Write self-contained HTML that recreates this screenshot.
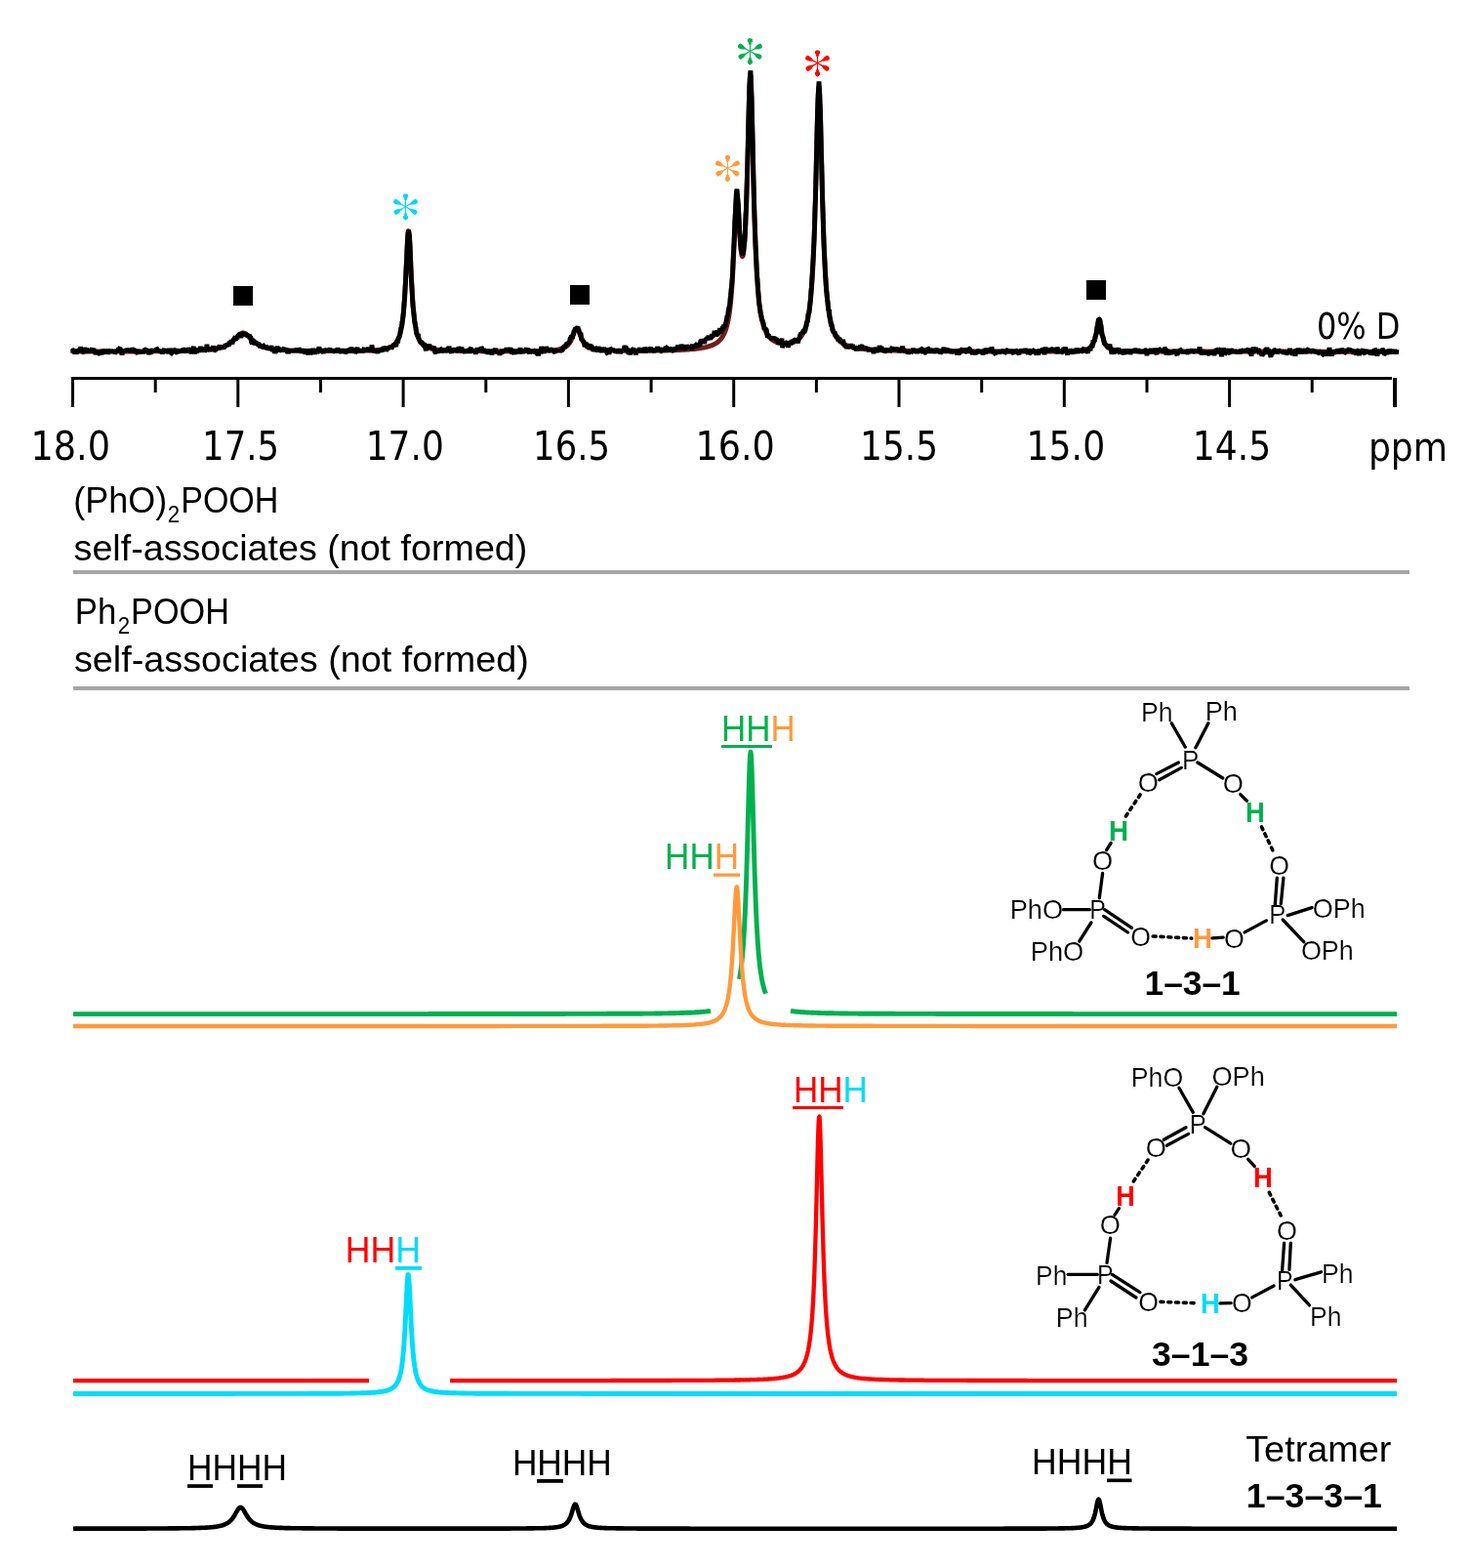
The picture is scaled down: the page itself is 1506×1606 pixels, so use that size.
<!DOCTYPE html>
<html><head><meta charset="utf-8"><title>NMR spectra</title>
<style>html,body{margin:0;padding:0;background:#fff;}svg{display:block;}</style></head>
<body><svg width="1506" height="1606" viewBox="0 0 1506 1606">
<rect width="1506" height="1606" fill="#fff"/>
<path d="M73.5 360.1L75.5 360.1L77.5 360.1L79.5 360.1L81.5 360.1L83.5 360.1L85.5 360.1L87.5 360.1L89.5 360.1L91.5 360L93.5 360L95.5 360L97.5 360L99.5 360L101.5 360L103.5 360L105.5 360L107.5 360L109.5 360L111.5 360L113.5 360L115.5 360L117.5 360L119.5 360L121.5 360L123.5 360L125.5 360L127.5 360L129.5 360L131.5 360L133.5 359.9L135.5 359.9L137.5 359.9L139.5 359.9L141.5 359.9L143.5 359.9L145.5 359.9L147.5 359.9L149.5 359.9L151.5 359.9L153.5 359.8L155.5 359.8L157.5 359.8L159.5 359.8L161.5 359.8L163.5 359.8L165.5 359.8L167.5 359.7L169.5 359.7L171.5 359.7L173.5 359.7L175.5 359.6L177.5 359.6L179.5 359.6L181.5 359.6L183.5 359.5L185.5 359.5L187.5 359.4L189.5 359.4L191.5 359.3L193.5 359.3L195.5 359.2L197.5 359.1L199.5 359.1L201.5 359L203.5 358.9L205.5 358.8L207.5 358.7L209.5 358.5L211.5 358.3L213.5 358.2L215.5 357.9L217.5 357.7L219.5 357.4L220 357.3L220.5 357.2L221 357.2L221.5 357.1L222 357L222.5 356.9L223 356.8L223.5 356.7L224 356.5L224.5 356.4L225 356.3L225.5 356.2L226 356L226.5 355.9L227 355.7L227.5 355.6L228 355.4L228.5 355.2L229 355.1L229.5 354.9L230 354.7L230.5 354.5L231 354.2L231.5 354L232 353.8L232.5 353.5L233 353.2L233.5 353L234 352.7L234.5 352.3L235 352L235.5 351.7L236 351.3L236.5 350.9L237 350.6L237.5 350.2L238 349.7L238.5 349.3L239 348.8L239.5 348.4L240 347.9L240.5 347.4L241 346.9L241.5 346.4L242 345.9L242.5 345.3L243 344.8L243.5 344.3L244 343.8L244.5 343.4L245 342.9L245.5 342.5L246 342.1L246.5 341.8L247 341.5L247.5 341.3L248 341.1L248.5 341L249 341L249.5 341L250 341.1L250.5 341.3L251 341.5L251.5 341.8L252 342.1L252.5 342.5L253 342.9L253.5 343.4L254 343.8L254.5 344.3L255 344.8L255.5 345.3L256 345.8L256.5 346.4L257 346.9L257.5 347.4L258 347.9L258.5 348.3L259 348.8L259.5 349.3L260 349.7L260.5 350.1L261 350.5L261.5 350.9L262 351.3L262.5 351.7L263 352L263.5 352.3L264 352.6L264.5 352.9L265 353.2L265.5 353.5L266 353.7L266.5 354L267 354.2L267.5 354.4L268 354.6L268.5 354.8L269 355L269.5 355.2L270 355.4L270.5 355.5L271 355.7L271.5 355.8L272 356L272.5 356.1L273 356.3L273.5 356.4L274 356.5L274.5 356.6L275 356.7L275.5 356.8L276 356.9L276.5 357L277 357.1L277.5 357.2L278 357.3L278.5 357.4L279 357.4L281 357.7L283 357.9L285 358.1L287 358.3L289 358.5L291 358.6L293 358.7L295 358.8L297 358.9L299 359L301 359.1L303 359.1L305 359.2L307 359.2L309 359.3L311 359.3L313 359.3L315 359.4L317 359.4L319 359.4L321 359.5L323 359.5L325 359.5L327 359.5L329 359.5L331 359.5L333 359.5L335 359.5L337 359.5L339 359.5L341 359.5L343 359.5L345 359.5L347 359.5L349 359.5L351 359.5L353 359.5L355 359.5L357 359.5L359 359.5L361 359.4L363 359.4L365 359.4L367 359.3L369 359.3L371 359.2L373 359.2L375 359.1L377 359L379 358.9L381 358.8L383 358.7L385 358.6L387 358.4L389 358.2L389.5 358.1L390 358L390.5 358L391 357.9L391.5 357.8L392 357.8L392.5 357.7L393 357.6L393.5 357.5L394 357.4L394.5 357.3L395 357.2L395.5 357.1L396 356.9L396.5 356.8L397 356.6L397.5 356.5L398 356.3L398.5 356.1L399 356L399.5 355.7L400 355.5L400.5 355.3L401 355L401.5 354.7L402 354.4L402.5 354.1L403 353.7L403.5 353.3L404 352.9L404.5 352.4L405 351.9L405.5 351.3L406 350.7L406.5 349.9L407 349.1L407.5 348.2L408 347.2L408.5 346.1L409 344.8L409.5 343.3L410 341.6L410.5 339.6L411 337.4L411.5 334.7L412 331.7L412.5 328.1L413 323.9L413.5 318.9L414 313.1L414.5 306.2L415 298.2L415.5 289.1L416 278.8L416.5 267.9L417 256.9L417.5 247L418 239.8L418.5 236.6L419 238L419.5 243.8L420 252.7L420.5 263.4L421 274.5L421.5 285.1L422 294.7L422.5 303.2L423 310.5L423.5 316.7L424 322L424.5 326.5L425 330.3L425.5 333.6L426 336.4L426.5 338.8L427 340.8L427.5 342.6L428 344.2L428.5 345.6L429 346.8L429.5 347.9L430 348.8L430.5 349.6L431 350.4L431.5 351.1L432 351.7L432.5 352.2L433 352.7L433.5 353.2L434 353.6L434.5 354L435 354.3L435.5 354.6L436 354.9L436.5 355.2L437 355.4L437.5 355.7L438 355.9L438.5 356.1L439 356.3L439.5 356.4L440 356.6L440.5 356.8L441 356.9L441.5 357L442 357.1L442.5 357.3L443 357.4L443.5 357.5L444 357.6L444.5 357.7L445 357.7L445.5 357.8L446 357.9L446.5 358L447 358L447.5 358.1L448 358.2L448.5 358.2L449 358.3L451 358.5L453 358.7L455 358.8L457 358.9L459 359L461 359.1L463 359.2L465 359.2L467 359.3L469 359.4L471 359.4L473 359.4L475 359.5L477 359.5L479 359.5L481 359.6L483 359.6L485 359.6L487 359.6L489 359.6L491 359.6L493 359.7L495 359.7L497 359.7L499 359.7L501 359.7L503 359.7L505 359.7L507 359.7L509 359.7L511 359.7L513 359.7L515 359.7L517 359.7L519 359.7L521 359.7L523 359.7L525 359.7L527 359.7L529 359.7L531 359.7L533 359.7L535 359.6L537 359.6L539 359.6L541 359.6L543 359.6L545 359.5L547 359.5L549 359.5L551 359.4L553 359.4L555 359.3L557 359.3L559 359.2L561 359.1L561.5 359.1L562 359L562.5 359L563 359L563.5 358.9L564 358.9L564.5 358.9L565 358.8L565.5 358.8L566 358.7L566.5 358.7L567 358.7L567.5 358.6L568 358.6L568.5 358.5L569 358.4L569.5 358.4L570 358.3L570.5 358.2L571 358.2L571.5 358.1L572 358L572.5 357.9L573 357.8L573.5 357.7L574 357.6L574.5 357.4L575 357.3L575.5 357.1L576 357L576.5 356.8L577 356.6L577.5 356.4L578 356.1L578.5 355.9L579 355.6L579.5 355.3L580 354.9L580.5 354.6L581 354.1L581.5 353.7L582 353.2L582.5 352.6L583 351.9L583.5 351.2L584 350.4L584.5 349.5L585 348.6L585.5 347.5L586 346.3L586.5 345L587 343.7L587.5 342.3L588 340.9L588.5 339.6L589 338.3L589.5 337.3L590 336.5L590.5 336.1L591 336L591.5 336.4L592 337.1L592.5 338.1L593 339.3L593.5 340.6L594 342L594.5 343.4L595 344.8L595.5 346L596 347.2L596.5 348.3L597 349.3L597.5 350.2L598 351L598.5 351.8L599 352.4L599.5 353L600 353.5L600.5 354L601 354.4L601.5 354.8L602 355.2L602.5 355.5L603 355.8L603.5 356L604 356.3L604.5 356.5L605 356.7L605.5 356.9L606 357L606.5 357.2L607 357.3L607.5 357.4L608 357.6L608.5 357.7L609 357.8L609.5 357.9L610 358L610.5 358L611 358.1L611.5 358.2L612 358.3L612.5 358.3L613 358.4L613.5 358.4L614 358.5L614.5 358.5L615 358.6L615.5 358.6L616 358.7L616.5 358.7L617 358.7L617.5 358.8L618 358.8L618.5 358.8L619 358.9L619.5 358.9L620 358.9L620.5 358.9L621 359L623 359L625 359.1L627 359.1L629 359.2L631 359.2L633 359.3L635 359.3L637 359.3L639 359.3L641 359.3L643 359.3L645 359.3L647 359.3L649 359.3L651 359.3L653 359.3L655 359.3L657 359.3L659 359.3L661 359.2L663 359.2L665 359.2L667 359.2L669 359.1L671 359.1L673 359.1L675 359L677 359L679 359L681 358.9L683 358.9L685 358.8L687 358.8L689 358.7L691 358.6L693 358.5L695 358.5L697 358.4L699 358.3L701 358.2L703 358L705 357.9L707 357.7L709 357.6L711 357.4L713 357.2L715 356.9L717 356.7L719 356.4L721 356L723 355.6L725 355.1L725.5 354.9L726 354.8L726.5 354.6L727 354.5L727.5 354.3L728 354.2L728.5 354L729 353.8L729.5 353.6L730 353.4L730.5 353.2L731 352.9L731.5 352.7L732 352.4L732.5 352.2L733 351.9L733.5 351.6L734 351.3L734.5 350.9L735 350.5L735.5 350.2L736 349.7L736.5 349.3L737 348.8L737.5 348.3L738 347.8L738.5 347.2L739 346.6L739.5 345.9L740 345.2L740.5 344.3L741 343.5L741.5 342.5L742 341.5L742.5 340.3L743 339.1L743.5 337.7L744 336.1L744.5 334.4L745 332.5L745.5 330.4L746 327.9L746.5 325.2L747 322.1L747.5 318.6L748 314.6L748.5 309.9L749 304.6L749.5 298.5L750 291.5L750.5 283.4L751 274.3L751.5 264L752 252.7L752.5 240.8L753 228.9L753.5 217.9L754 208.9L754.5 203.2L755 201.4L755.5 203.6L756 209.2L756.5 217.1L757 225.9L757.5 234.8L758 242.8L758.5 249.7L759 255.2L759.5 259.2L760 261.7L760.5 262.7L761 262.3L761.5 260.4L762 257L762.5 251.9L763 245.2L763.5 236.5L764 225.9L764.5 213L765 197.8L765.5 180.4L766 161L766.5 140.2L767 119.4L767.5 100.5L768 85.8L768.5 77.6L769 77.4L769.5 85.5L770 100.4L770.5 120.1L771 142.2L771.5 164.6L772 186L772.5 205.7L773 223.2L773.5 238.6L774 252.1L774.5 263.7L775 273.8L775.5 282.5L776 290L776.5 296.6L777 302.3L777.5 307.2L778 311.6L778.5 315.5L779 318.9L779.5 321.9L780 324.6L780.5 327L781 329.2L781.5 331.1L782 332.9L782.5 334.5L783 335.9L783.5 337.2L784 338.4L784.5 339.5L785 340.5L785.5 341.4L786 342.3L786.5 343.1L787 343.8L787.5 344.4L788 345L788.5 345.6L789 346.1L789.5 346.6L790 347.1L790.5 347.5L791 347.9L791.5 348.2L792 348.6L792.5 348.9L793 349.2L793.5 349.5L794 349.7L794.5 349.9L795 350.2L795.5 350.4L796 350.6L796.5 350.7L797 350.9L797.5 351L798 351.2L798.5 351.3L799 351.4L801 351.7L803 351.9L805 351.9L807 351.8L809 351.5L811 351.1L811.5 350.9L812 350.8L812.5 350.6L813 350.4L813.5 350.2L814 350L814.5 349.8L815 349.5L815.5 349.2L816 348.9L816.5 348.6L817 348.2L817.5 347.8L818 347.4L818.5 347L819 346.5L819.5 346L820 345.4L820.5 344.8L821 344.1L821.5 343.4L822 342.6L822.5 341.7L823 340.8L823.5 339.8L824 338.6L824.5 337.4L825 336L825.5 334.5L826 332.8L826.5 331L827 328.9L827.5 326.7L828 324.1L828.5 321.2L829 318L829.5 314.4L830 310.2L830.5 305.6L831 300.2L831.5 294.1L832 287.1L832.5 279.1L833 269.8L833.5 259.1L834 246.9L834.5 232.9L835 217L835.5 199.2L836 179.8L836.5 159.2L837 138.4L837.5 119L838 103L838.5 92.3L839 88.5L839.5 92.3L840 103L840.5 119.1L841 138.6L841.5 159.3L842 180L842.5 199.5L843 217.3L843.5 233.2L844 247.2L844.5 259.5L845 270.2L845.5 279.5L846 287.6L846.5 294.6L847 300.8L847.5 306.1L848 310.9L848.5 315L849 318.7L849.5 321.9L850 324.9L850.5 327.4L851 329.8L851.5 331.9L852 333.7L852.5 335.4L853 337L853.5 338.4L854 339.7L854.5 340.9L855 341.9L855.5 342.9L856 343.8L856.5 344.7L857 345.4L857.5 346.2L858 346.8L858.5 347.4L859 348L859.5 348.5L860 349L860.5 349.5L861 350L861.5 350.4L862 350.7L862.5 351.1L863 351.5L863.5 351.8L864 352.1L864.5 352.4L865 352.6L865.5 352.9L866 353.1L866.5 353.4L867 353.6L867.5 353.8L868 354L868.5 354.2L869 354.4L871 355L873 355.5L875 356L877 356.4L879 356.7L881 357L883 357.3L885 357.5L887 357.7L889 357.9L891 358L893 358.1L895 358.3L897 358.4L899 358.5L901 358.6L903 358.7L905 358.7L907 358.8L909 358.9L911 358.9L913 359L915 359.1L917 359.1L919 359.2L921 359.2L923 359.2L925 359.3L927 359.3L929 359.3L931 359.4L933 359.4L935 359.4L937 359.5L939 359.5L941 359.5L943 359.5L945 359.5L947 359.6L949 359.6L951 359.6L953 359.6L955 359.6L957 359.7L959 359.7L961 359.7L963 359.7L965 359.7L967 359.7L969 359.7L971 359.7L973 359.8L975 359.8L977 359.8L979 359.8L981 359.8L983 359.8L985 359.8L987 359.8L989 359.8L991 359.8L993 359.8L995 359.8L997 359.8L999 359.9L1001 359.9L1003 359.9L1005 359.9L1007 359.9L1009 359.9L1011 359.9L1013 359.9L1015 359.9L1017 359.9L1019 359.9L1021 359.9L1023 359.9L1025 359.9L1027 359.9L1029 359.9L1031 359.9L1033 359.9L1035 359.9L1037 359.9L1039 359.9L1041 359.9L1043 359.9L1045 359.9L1047 359.9L1049 359.9L1051 359.9L1053 359.9L1055 359.9L1057 359.9L1059 359.9L1061 359.9L1063 359.9L1065 359.9L1067 359.9L1069 359.9L1071 359.9L1073 359.9L1075 359.9L1077 359.9L1079 359.9L1081 359.8L1083 359.8L1085 359.8L1087 359.8L1089 359.8L1091 359.7L1093 359.7L1095 359.6L1097 359.6L1097.5 359.6L1098 359.6L1098.5 359.5L1099 359.5L1099.5 359.5L1100 359.5L1100.5 359.5L1101 359.4L1101.5 359.4L1102 359.4L1102.5 359.4L1103 359.3L1103.5 359.3L1104 359.3L1104.5 359.2L1105 359.2L1105.5 359.1L1106 359.1L1106.5 359.1L1107 359L1107.5 358.9L1108 358.9L1108.5 358.8L1109 358.7L1109.5 358.7L1110 358.6L1110.5 358.5L1111 358.4L1111.5 358.3L1112 358.2L1112.5 358L1113 357.9L1113.5 357.7L1114 357.5L1114.5 357.3L1115 357.1L1115.5 356.8L1116 356.5L1116.5 356.2L1117 355.8L1117.5 355.4L1118 354.8L1118.5 354.3L1119 353.6L1119.5 352.8L1120 351.8L1120.5 350.7L1121 349.4L1121.5 347.8L1122 346L1122.5 343.8L1123 341.3L1123.5 338.5L1124 335.5L1124.5 332.6L1125 330L1125.5 328.2L1126 327.5L1126.5 328.2L1127 330L1127.5 332.6L1128 335.5L1128.5 338.5L1129 341.3L1129.5 343.8L1130 346L1130.5 347.8L1131 349.4L1131.5 350.7L1132 351.8L1132.5 352.8L1133 353.6L1133.5 354.3L1134 354.9L1134.5 355.4L1135 355.8L1135.5 356.2L1136 356.5L1136.5 356.8L1137 357.1L1137.5 357.3L1138 357.5L1138.5 357.7L1139 357.9L1139.5 358L1140 358.2L1140.5 358.3L1141 358.4L1141.5 358.5L1142 358.6L1142.5 358.7L1143 358.8L1143.5 358.8L1144 358.9L1144.5 359L1145 359L1145.5 359.1L1146 359.1L1146.5 359.2L1147 359.2L1147.5 359.3L1148 359.3L1148.5 359.3L1149 359.4L1149.5 359.4L1150 359.4L1150.5 359.4L1151 359.5L1151.5 359.5L1152 359.5L1152.5 359.5L1153 359.6L1153.5 359.6L1154 359.6L1154.5 359.6L1155 359.6L1155.5 359.6L1156 359.7L1158 359.7L1160 359.8L1162 359.8L1164 359.8L1166 359.9L1168 359.9L1170 359.9L1172 359.9L1174 359.9L1176 360L1178 360L1180 360L1182 360L1184 360L1186 360L1188 360L1190 360L1192 360L1194 360L1196 360L1198 360L1200 360L1202 360.1L1204 360.1L1206 360.1L1208 360.1L1210 360.1L1212 360.1L1214 360.1L1216 360.1L1218 360.1L1220 360.1L1222 360.1L1224 360.1L1226 360.1L1228 360.1L1230 360.1L1232 360.1L1234 360.1L1236 360.1L1238 360.1L1240 360.1L1242 360.1L1244 360.1L1246 360.1L1248 360.1L1250 360.1L1252 360.1L1254 360.1L1256 360.1L1258 360.1L1260 360.1L1262 360.1L1264 360.1L1266 360.1L1268 360.1L1270 360.1L1272 360.1L1274 360.1L1276 360.1L1278 360.1L1280 360.1L1282 360.1L1284 360.1L1286 360.1L1288 360.1L1290 360.1L1292 360.1L1294 360.1L1296 360.1L1298 360.1L1300 360.1L1302 360.1L1304 360.1L1306 360.1L1308 360.1L1310 360.1L1312 360.1L1314 360.1L1316 360.1L1318 360.1L1320 360.1L1322 360.1L1324 360.1L1326 360.1L1328 360.1L1330 360.1L1332 360.1L1334 360.1L1336 360.1L1338 360.1L1340 360.1L1342 360.1L1344 360.1L1346 360.1L1348 360.1L1350 360.1L1352 360.1L1354 360.2L1356 360.2L1358 360.2L1360 360.2L1362 360.2L1364 360.2L1366 360.2L1368 360.2L1370 360.2L1372 360.2L1374 360.2L1376 360.2L1378 360.2L1380 360.2L1382 360.2L1384 360.2L1386 360.2L1388 360.2L1390 360.2L1392 360.2L1394 360.2L1396 360.2L1398 360.2L1400 360.2L1402 360.2L1404 360.2L1406 360.2L1408 360.2L1410 360.2L1412 360.2L1414 360.2L1416 360.2L1418 360.2L1420 360.2L1422 360.2L1424 360.2L1426 360.2L1428 360.2L1430 360.2L1431 360.2" fill="none" stroke="#731d1d" stroke-width="5.0" stroke-linejoin="round"/>
<path d="M73.5 359.5L74 360.2L74.5 358.9L75 358.4L75.5 358.6L76 358.2L76.5 360.3L77 362.4L77.5 358.8L78 359.5L78.5 361L79 360.9L79.5 360.2L80 358L80.5 358.7L81 360.5L81.5 356.9L82 357.7L82.5 355.5L83 357.2L83.5 356.8L84 359.4L84.5 358.2L85 360.7L85.5 360.9L86 360.4L86.5 355.9L87 358.6L87.5 359.4L88 359.1L88.5 356.6L89 358.3L89.5 357.9L90 358.7L90.5 361.5L91 358.2L91.5 359.3L92 360.2L92.5 357.6L93 358.2L93.5 358.1L94 358L94.5 356.7L95 358.8L95.5 360.8L96 356.8L96.5 360.5L97 359.4L97.5 358.6L98 363.2L98.5 361.1L99 358.8L99.5 360.9L100 362.2L100.5 361.1L101 363.1L101.5 361.4L102 362.6L102.5 363.3L103 359.9L103.5 360.8L104 360L104.5 360.6L105 358.4L105.5 359.1L106 360L106.5 361.6L107 362.3L107.5 358.4L108 359.1L108.5 361.6L109 358.5L109.5 360.2L110 360.6L110.5 362.2L111 361.2L111.5 359.1L112 359.2L112.5 358.7L113 361.5L113.5 358.8L114 359.4L114.5 361.2L115 360.4L115.5 359.9L116 359L116.5 360.7L117 359.6L117.5 361.9L118 361.3L118.5 360.2L119 360.4L119.5 358.1L120 360.1L120.5 358.7L121 359.5L121.5 356.2L122 358.8L122.5 356.6L123 356.2L123.5 359.1L124 358.1L124.5 360.3L125 363.7L125.5 359.1L126 359L126.5 360.4L127 360.4L127.5 359.3L128 358.2L128.5 359.6L129 359.4L129.5 357.2L130 358.3L130.5 358.6L131 357.2L131.5 359.4L132 357.8L132.5 360.4L133 359.8L133.5 360.2L134 359.5L134.5 359.6L135 356.5L135.5 357.6L136 360.5L136.5 356.5L137 361.1L137.5 357.1L138 361.4L138.5 359.2L139 361.7L139.5 360.4L140 357.7L140.5 361.6L141 362.2L141.5 360.1L142 359.7L142.5 360.1L143 358.9L143.5 362.1L144 360.2L144.5 361.1L145 359.8L145.5 360.5L146 358.6L146.5 362.2L147 359.3L147.5 360.9L148 358.6L148.5 357.7L149 357.9L149.5 357.5L150 358.5L150.5 358.7L151 358.7L151.5 358.2L152 359L152.5 363.2L153 359.8L153.5 359.5L154 361.6L154.5 362.8L155 357.9L155.5 359.7L156 358.8L156.5 357.4L157 360.8L157.5 359.4L158 359.9L158.5 358.2L159 359.8L159.5 358.7L160 358.3L160.5 356.8L161 357.1L161.5 360.2L162 358.8L162.5 359.3L163 358.8L163.5 359.5L164 359.9L164.5 361.3L165 360.6L165.5 359.7L166 361L166.5 361.9L167 360.6L167.5 360.2L168 358.5L168.5 357L169 360.9L169.5 360.2L170 359.2L170.5 360.5L171 360L171.5 360.4L172 360.4L172.5 358.1L173 361.5L173.5 356.8L174 360.1L174.5 359.8L175 360.7L175.5 362.4L176 362.3L176.5 358.2L177 357.4L177.5 360.5L178 358.1L178.5 359.6L179 361.6L179.5 358L180 357.5L180.5 361.1L181 361.3L181.5 360.7L182 361.2L182.5 359.5L183 357.9L183.5 359.6L184 358.9L184.5 357.8L185 361L185.5 360L186 360.3L186.5 358.4L187 358.9L187.5 357.3L188 357.7L188.5 359L189 357L189.5 358.5L190 358.8L190.5 361.5L191 356.9L191.5 359.5L192 358.4L192.5 358.2L193 356.4L193.5 357.8L194 359.6L194.5 358.9L195 359.9L195.5 359.5L196 362.2L196.5 360.2L197 357.1L197.5 359.7L198 356.7L198.5 355L199 359L199.5 362L200 360.3L200.5 357.7L201 357.4L201.5 361.4L202 359.7L202.5 358.9L203 358.5L203.5 358.4L204 359.3L204.5 358.6L205 356.9L205.5 355L206 357.8L206.5 355.8L207 358.6L207.5 355.8L208 357.5L208.5 358.1L209 355.7L209.5 359.9L210 359.4L210.5 356.3L211 357.8L211.5 357.4L212 352.8L212.5 358L213 357.5L213.5 357.3L214 355.7L214.5 357.1L215 357.8L215.5 359.6L216 357.9L216.5 357.4L217 359.8L217.5 356.4L218 356.3L218.5 354.2L219 359.7L219.5 358.4L220 358.8L220.5 358.7L221 358.3L221.5 357.9L222 356.4L222.5 356.5L223 356.3L223.5 358L224 356.4L224.5 354.9L225 354.3L225.5 355L226 357.2L226.5 356.1L227 356.1L227.5 355.4L228 354.2L228.5 356L229 357.4L229.5 355.7L230 355.5L230.5 354.5L231 355L231.5 352.2L232 354L232.5 352.1L233 354.8L233.5 351.8L234 353.4L234.5 354.3L235 351.1L235.5 349.8L236 351.2L236.5 350.5L237 348.4L237.5 350.7L238 352.5L238.5 348.8L239 348.8L239.5 346.7L240 348.3L240.5 345.7L241 345.1L241.5 349L242 344.4L242.5 346.9L243 347.1L243.5 344.3L244 344L244.5 346.3L245 341.9L245.5 342.2L246 340.8L246.5 342.5L247 344.8L247.5 344.5L248 341.2L248.5 341.4L249 341.3L249.5 342.4L250 342.2L250.5 343.1L251 342.9L251.5 341.7L252 342.4L252.5 342.9L253 342.7L253.5 343.3L254 345.5L254.5 344.5L255 344.7L255.5 342.5L256 347L256.5 344.1L257 346.7L257.5 351L258 351.3L258.5 350.1L259 347.3L259.5 349.1L260 349.1L260.5 351.1L261 353.2L261.5 351L262 349.9L262.5 350.8L263 352.1L263.5 352.2L264 350.3L264.5 353.2L265 351L265.5 354.4L266 354.6L266.5 355.9L267 354L267.5 356.1L268 355.5L268.5 355.2L269 355.4L269.5 353.4L270 353.6L270.5 357.2L271 355.6L271.5 355.8L272 357.2L272.5 353.6L273 355.5L273.5 356.4L274 357.3L274.5 356.3L275 358.5L275.5 357L276 354.7L276.5 355.5L277 358.7L277.5 357.5L278 354L278.5 359L279 358.1L279.5 359.9L280 357.3L280.5 358L281 356.6L281.5 362.1L282 358.5L282.5 361.5L283 357.3L283.5 358.2L284 354.7L284.5 357.1L285 359.2L285.5 355.9L286 359.8L286.5 359.3L287 357.6L287.5 358.3L288 358.5L288.5 359.5L289 358.5L289.5 357.9L290 358.5L290.5 357L291 356.4L291.5 358.4L292 359.7L292.5 356.5L293 358.7L293.5 358.2L294 358.6L294.5 362L295 359.5L295.5 362.3L296 358.5L296.5 359.9L297 358.9L297.5 358.1L298 359.6L298.5 359.3L299 360.5L299.5 359.4L300 358.1L300.5 359.2L301 359.3L301.5 360.8L302 357.9L302.5 359.5L303 357.2L303.5 360.8L304 358L304.5 356.8L305 359.1L305.5 360.7L306 356.6L306.5 357.6L307 358.4L307.5 358.5L308 360.9L308.5 359.5L309 359.5L309.5 361.8L310 359L310.5 360.8L311 359.2L311.5 358.8L312 357.7L312.5 362.8L313 358.8L313.5 360.3L314 359.7L314.5 359.3L315 359.7L315.5 363.4L316 358.9L316.5 359L317 359.6L317.5 359.2L318 362.4L318.5 361.9L319 359L319.5 358.8L320 360.2L320.5 363L321 356.8L321.5 361.8L322 359.6L322.5 362.8L323 359.6L323.5 360.6L324 358.2L324.5 358.6L325 361.6L325.5 360.7L326 358.4L326.5 356.9L327 355.4L327.5 358.1L328 358.9L328.5 358.8L329 359.2L329.5 357.3L330 359.2L330.5 358.9L331 360.7L331.5 361.8L332 359.4L332.5 358.2L333 359.1L333.5 358.4L334 358.3L334.5 359.3L335 356.9L335.5 359.1L336 358.1L336.5 359L337 358.7L337.5 357.9L338 357.1L338.5 358.6L339 358.4L339.5 359.7L340 359.3L340.5 357.5L341 359.8L341.5 358.6L342 360L342.5 360L343 357.3L343.5 360.4L344 359.8L344.5 359L345 358.2L345.5 358.1L346 357.4L346.5 358L347 358.3L347.5 359.4L348 357.7L348.5 360.2L349 360.5L349.5 360.2L350 359.3L350.5 360.2L351 357.2L351.5 360.6L352 360.4L352.5 359.5L353 359.8L353.5 358.6L354 359.8L354.5 360.9L355 360.9L355.5 359.9L356 357.3L356.5 359.8L357 360.7L357.5 359.8L358 359L358.5 356.4L359 360.4L359.5 358.9L360 355.6L360.5 360L361 357.9L361.5 357.9L362 358.7L362.5 361.3L363 358.5L363.5 359.3L364 361.3L364.5 360.8L365 358.1L365.5 357.5L366 356L366.5 357.9L367 359.6L367.5 359.6L368 358.9L368.5 360L369 357.5L369.5 358.8L370 360L370.5 359.5L371 360.5L371.5 359.6L372 358.7L372.5 359.8L373 357.4L373.5 356.2L374 360L374.5 359L375 359.5L375.5 356.5L376 358.5L376.5 358.6L377 357.8L377.5 355.9L378 358.8L378.5 360.3L379 359.2L379.5 357.4L380 358L380.5 358.9L381 353.3L381.5 357.3L382 358.7L382.5 358.6L383 361L383.5 360L384 358.9L384.5 359.6L385 360.2L385.5 357.8L386 359.8L386.5 360.3L387 361.8L387.5 358.8L388 358.3L388.5 358.5L389 360.5L389.5 358.4L390 360.7L390.5 357L391 358L391.5 358.3L392 359.3L392.5 359.7L393 355L393.5 356.2L394 358.4L394.5 356.9L395 355.6L395.5 359.8L396 358.4L396.5 358.2L397 356.5L397.5 358.1L398 355.7L398.5 357.2L399 354.4L399.5 355.3L400 356.6L400.5 355L401 356.9L401.5 356.3L402 354.6L402.5 355.4L403 353.6L403.5 355.3L404 352.1L404.5 352.2L405 353.5L405.5 354.5L406 353.5L406.5 350.3L407 349.7L407.5 351.4L408 347.4L408.5 345.3L409 345.4L409.5 344.5L410 340.5L410.5 337.7L411 334.8L411.5 335.7L412 329.8L412.5 327.6L413 323.2L413.5 318.6L414 310.5L414.5 306L415 295.4L415.5 287.6L416 275.8L416.5 268.1L417 255.6L417.5 245.4L418 238.2L418.5 235.9L419 238.5L419.5 241L420 251.2L420.5 263.1L421 279L421.5 287.4L422 295.2L422.5 304.8L423 313.9L423.5 317.2L424 321.9L424.5 327.8L425 330.4L425.5 333.8L426 335.6L426.5 341.1L427 342.6L427.5 343.2L428 344.9L428.5 342L429 347.5L429.5 347.2L430 349.6L430.5 350.2L431 349.5L431.5 349L432 352.7L432.5 350.8L433 351.9L433.5 352.1L434 353.8L434.5 350.9L435 355.9L435.5 354.8L436 357.5L436.5 359.1L437 355.8L437.5 352.6L438 354.8L438.5 354.5L439 355.4L439.5 356L440 352.6L440.5 356.9L441 354.4L441.5 356.6L442 356.1L442.5 356.4L443 356.6L443.5 356L444 355.9L444.5 355L445 357.8L445.5 360.8L446 361.1L446.5 360.6L447 360.2L447.5 358.3L448 361.7L448.5 359.9L449 359.9L449.5 359.3L450 360.1L450.5 359.2L451 359.6L451.5 357.1L452 357.2L452.5 361.3L453 358.2L453.5 358L454 358.6L454.5 359.3L455 356.9L455.5 359L456 360.7L456.5 359.3L457 358.6L457.5 360.6L458 356.6L458.5 357.4L459 356.5L459.5 359.4L460 354.8L460.5 357.1L461 357.8L461.5 360L462 360.4L462.5 361.6L463 357.3L463.5 360.2L464 358.5L464.5 358.2L465 359.8L465.5 358L466 356.6L466.5 359L467 357.5L467.5 358.1L468 359.6L468.5 359.5L469 360.4L469.5 357.3L470 355.6L470.5 356.7L471 357L471.5 356.3L472 359.2L472.5 357.8L473 355.6L473.5 360.1L474 359.1L474.5 360.1L475 360L475.5 360.2L476 359.8L476.5 361.8L477 359.6L477.5 359.7L478 360L478.5 357.6L479 359.4L479.5 358.9L480 359L480.5 357.3L481 361.9L481.5 359.4L482 356.9L482.5 356.3L483 358.7L483.5 359.6L484 358L484.5 359.1L485 358L485.5 360.1L486 358.3L486.5 358.6L487 360L487.5 362.7L488 357.2L488.5 357.7L489 356.9L489.5 359.9L490 357.6L490.5 358.7L491 359.1L491.5 357.5L492 357.7L492.5 358.4L493 355.3L493.5 356.2L494 358.1L494.5 359.3L495 359.5L495.5 357L496 359.2L496.5 361L497 360.6L497.5 359.7L498 358.6L498.5 360.6L499 359.1L499.5 358.3L500 359.2L500.5 362.8L501 360.7L501.5 362.2L502 359.6L502.5 361.6L503 359L503.5 359.7L504 363.3L504.5 360.8L505 358.1L505.5 358.5L506 359.9L506.5 361.3L507 358.5L507.5 356.9L508 359.2L508.5 360.2L509 360.6L509.5 361.7L510 360.2L510.5 362.3L511 359.5L511.5 361.9L512 363.6L512.5 361.5L513 360.8L513.5 361.1L514 362.6L514.5 358L515 359.6L515.5 360.5L516 360.7L516.5 358.3L517 359L517.5 357.9L518 358.9L518.5 357.9L519 356.5L519.5 358.3L520 359.8L520.5 357L521 358L521.5 359.7L522 356.8L522.5 358.5L523 356.1L523.5 359.6L524 361.8L524.5 361.4L525 357.8L525.5 359.8L526 359.6L526.5 360.4L527 363L527.5 358L528 361.5L528.5 360.1L529 362.5L529.5 360L530 358.5L530.5 359.2L531 360.5L531.5 359.8L532 360.3L532.5 358.6L533 356.4L533.5 360.7L534 361L534.5 360.3L535 360.5L535.5 361.9L536 360.1L536.5 358.7L537 360L537.5 361.7L538 357.5L538.5 360.9L539 357.6L539.5 356.5L540 361.1L540.5 359.3L541 357.3L541.5 358.4L542 360.9L542.5 361.5L543 359.8L543.5 360.9L544 360.6L544.5 359.1L545 361.4L545.5 359.9L546 359.9L546.5 359.2L547 360.5L547.5 360.6L548 358.9L548.5 358.7L549 361.7L549.5 360.6L550 362.2L550.5 362.4L551 361.5L551.5 364.4L552 359.5L552.5 361.3L553 358.9L553.5 360.8L554 360.4L554.5 355L555 357.4L555.5 360.2L556 360.4L556.5 360.6L557 359.8L557.5 360.3L558 360L558.5 358.5L559 360.1L559.5 354.9L560 359.1L560.5 357.2L561 360.5L561.5 359.4L562 357.7L562.5 359.2L563 357.6L563.5 357.9L564 356.3L564.5 358.1L565 359.1L565.5 359.8L566 358.5L566.5 360.3L567 358.7L567.5 359.3L568 360.8L568.5 361.4L569 359.2L569.5 358.7L570 358.9L570.5 359.4L571 357.8L571.5 361.1L572 358.7L572.5 360.3L573 358.7L573.5 360.2L574 359.6L574.5 357.5L575 360.6L575.5 357.6L576 359.6L576.5 357.4L577 355.2L577.5 355.1L578 356.6L578.5 355L579 354.9L579.5 354.3L580 351.9L580.5 353.5L581 350.3L581.5 352.7L582 351.1L582.5 350.9L583 350.2L583.5 350.7L584 347.1L584.5 345.5L585 346.3L585.5 343.5L586 344.5L586.5 346.9L587 341.7L587.5 343.4L588 338.6L588.5 339.2L589 337.5L589.5 335.9L590 336.7L590.5 338.2L591 335.4L591.5 335.9L592 334.7L592.5 337.9L593 337.7L593.5 340.6L594 340.4L594.5 344.2L595 340.8L595.5 345.8L596 349L596.5 348.1L597 348.2L597.5 349.7L598 349.1L598.5 351.2L599 355.1L599.5 353.6L600 351.2L600.5 352L601 353.7L601.5 356.4L602 353.5L602.5 353.7L603 356.3L603.5 356.7L604 355.1L604.5 353.7L605 353L605.5 355.5L606 353.5L606.5 357.9L607 355.4L607.5 357.5L608 359.6L608.5 358.4L609 355L609.5 358L610 358.8L610.5 356.4L611 356.4L611.5 358.2L612 356.4L612.5 360.8L613 354.9L613.5 357.3L614 358.6L614.5 358.8L615 359L615.5 358.7L616 358.5L616.5 361L617 355.7L617.5 358.8L618 357.5L618.5 359.1L619 359.4L619.5 357.6L620 357.8L620.5 359.8L621 359.7L621.5 358.2L622 362.1L622.5 362.4L623 356.5L623.5 359.5L624 362.9L624.5 359.4L625 358L625.5 357.1L626 357.3L626.5 358L627 357.6L627.5 359.4L628 358.1L628.5 358.5L629 357.6L629.5 359.2L630 358.4L630.5 359.2L631 361.5L631.5 360.3L632 360.4L632.5 359.8L633 359.4L633.5 358.8L634 359.1L634.5 360.8L635 358.4L635.5 362.1L636 360.5L636.5 359.2L637 359.4L637.5 358.3L638 359.4L638.5 357.6L639 359.8L639.5 356.8L640 354.1L640.5 355.8L641 354.4L641.5 357L642 359.1L642.5 359.4L643 357.1L643.5 358.3L644 363L644.5 360.6L645 360.1L645.5 361.8L646 363.1L646.5 360.7L647 359.1L647.5 359.2L648 359.3L648.5 357.4L649 356.9L649.5 359.5L650 358.4L650.5 360.2L651 360.1L651.5 363.5L652 358.8L652.5 359.5L653 358.8L653.5 360L654 360.5L654.5 358L655 357.7L655.5 357L656 358.1L656.5 360.9L657 359.5L657.5 357.8L658 358.8L658.5 359.2L659 359.9L659.5 357.9L660 358.5L660.5 356L661 357L661.5 361.6L662 356.2L662.5 358.4L663 359.1L663.5 357.8L664 357.1L664.5 359.1L665 358.9L665.5 358.6L666 355.4L666.5 358.4L667 356.8L667.5 357.9L668 358.1L668.5 359L669 359.1L669.5 357.2L670 359.8L670.5 360.3L671 359.3L671.5 359.9L672 357.1L672.5 357.1L673 359L673.5 355L674 357.9L674.5 357.2L675 357.7L675.5 356.4L676 357.7L676.5 358.6L677 359.9L677.5 359.8L678 358.8L678.5 357.7L679 356.6L679.5 358.1L680 356.9L680.5 357.9L681 360.2L681.5 357.1L682 355.4L682.5 355.8L683 355.7L683.5 355.6L684 359.9L684.5 358.3L685 355.5L685.5 358.7L686 360L686.5 356.9L687 357.1L687.5 357.8L688 358.1L688.5 358.8L689 359.5L689.5 359.4L690 359.5L690.5 360.2L691 359L691.5 355.6L692 356.7L692.5 357.7L693 356.7L693.5 358.3L694 355.3L694.5 353.8L695 357.6L695.5 356.9L696 355.8L696.5 356.6L697 357.4L697.5 356.9L698 352.9L698.5 355.1L699 356.2L699.5 355.8L700 357.4L700.5 358L701 355.2L701.5 354.3L702 358.9L702.5 354.9L703 353.4L703.5 355.6L704 356.5L704.5 355.1L705 356.8L705.5 354.9L706 354.6L706.5 355.6L707 356.2L707.5 354.1L708 355.2L708.5 354.5L709 358.4L709.5 352.4L710 356.1L710.5 354.4L711 353.8L711.5 355.3L712 355.4L712.5 356.2L713 354.3L713.5 352.5L714 352.2L714.5 353.9L715 353.2L715.5 354.9L716 353.1L716.5 353.7L717 354.1L717.5 351.1L718 348.1L718.5 348.7L719 347.7L719.5 352.3L720 348.6L720.5 351.5L721 350.3L721.5 351.7L722 350L722.5 348L723 347.4L723.5 347.7L724 347L724.5 345.6L725 345.9L725.5 348.5L726 343.4L726.5 346.4L727 344.6L727.5 346.6L728 347.7L728.5 345.8L729 346.3L729.5 342.1L730 345.6L730.5 342.4L731 343.7L731.5 342.7L732 338.7L732.5 341.4L733 342.8L733.5 344.5L734 342L734.5 341.2L735 338.5L735.5 342.4L736 342.4L736.5 339.1L737 338.9L737.5 336.3L738 339.9L738.5 342L739 338L739.5 338.4L740 337.4L740.5 334L741 337.2L741.5 332.8L742 333.4L742.5 333.9L743 333.6L743.5 331L744 329.3L744.5 326.1L745 323.5L745.5 323.7L746 319.4L746.5 316.4L747 314.4L747.5 312.6L748 306.3L748.5 302.2L749 296.5L749.5 293.6L750 287L750.5 280.6L751 266.2L751.5 257.8L752 248.8L752.5 235.3L753 223.4L753.5 214.9L754 203L754.5 195.8L755 193.8L755.5 198.8L756 204.7L756.5 211L757 221.2L757.5 232.8L758 241.1L758.5 245.5L759 253.7L759.5 257.5L760 256.1L760.5 260.1L761 260.9L761.5 257.7L762 252.8L762.5 250.1L763 244.5L763.5 236.8L764 219.5L764.5 213.9L765 193L765.5 178.8L766 160.7L766.5 140.3L767 118.3L767.5 97.9L768 86L768.5 75.6L769 72.3L769.5 88.1L770 99.8L770.5 121.8L771 140L771.5 165.5L772 187.5L772.5 206.8L773 222L773.5 235.4L774 250.2L774.5 258.5L775 269.9L775.5 281.3L776 287L776.5 295.2L777 301.3L777.5 309.5L778 312.9L778.5 314.7L779 320.7L779.5 321.3L780 324.6L780.5 328.5L781 327.3L781.5 330.5L782 330.4L782.5 333.6L783 337.4L783.5 335.2L784 337.8L784.5 336.9L785 337.4L785.5 338.7L786 343.4L786.5 345.6L787 342.9L787.5 342.6L788 345.6L788.5 344.7L789 346.6L789.5 346.1L790 346.5L790.5 347.8L791 346L791.5 346.7L792 344.6L792.5 346.2L793 345.1L793.5 347L794 345.8L794.5 347.8L795 348.2L795.5 346.4L796 348L796.5 348L797 350.5L797.5 352.7L798 350.9L798.5 349.2L799 352.3L799.5 348.2L800 353L800.5 350.2L801 346.7L801.5 356L802 354.3L802.5 350.2L803 351.9L803.5 352L804 352.9L804.5 350.2L805 350.6L805.5 352.7L806 352.6L806.5 354.2L807 352.2L807.5 355.9L808 351L808.5 353.1L809 349.5L809.5 349.9L810 353.4L810.5 350.3L811 351.4L811.5 350.5L812 348.1L812.5 349.3L813 348.7L813.5 348.6L814 349.5L814.5 349.3L815 347.7L815.5 347.3L816 348.9L816.5 348.3L817 349.4L817.5 351.3L818 348.6L818.5 346.5L819 346.2L819.5 343.9L820 342.5L820.5 341.2L821 341.7L821.5 340.9L822 342L822.5 339.1L823 339.2L823.5 337.4L824 341.1L824.5 338.6L825 338.8L825.5 335L826 334.2L826.5 330.2L827 329.2L827.5 330L828 321.2L828.5 321.8L829 320.4L829.5 314.8L830 310.5L830.5 305.7L831 297.3L831.5 292.4L832 283L832.5 275.2L833 266.3L833.5 256.1L834 245.6L834.5 232.4L835 214L835.5 202.2L836 180.7L836.5 158.9L837 136.6L837.5 117L838 102.1L838.5 91L839 83.4L839.5 91.2L840 105.7L840.5 114.8L841 139.2L841.5 158.6L842 178.5L842.5 200.4L843 214.6L843.5 232.3L844 248.5L844.5 258.5L845 268.9L845.5 279.5L846 287.3L846.5 297.1L847 299.5L847.5 307.2L848 308.2L848.5 315.7L849 318.1L849.5 317.1L850 324.6L850.5 326.1L851 329.3L851.5 334.3L852 332L852.5 334L853 339.4L853.5 338.1L854 341.2L854.5 340.4L855 339.6L855.5 341.6L856 344.4L856.5 344.6L857 344L857.5 344.6L858 345.2L858.5 345.3L859 349.8L859.5 347.4L860 346.1L860.5 347.8L861 349.8L861.5 350.3L862 349.1L862.5 349L863 350.3L863.5 348.3L864 349.4L864.5 353.5L865 352.1L865.5 354.1L866 355.5L866.5 354.7L867 354.1L867.5 357.1L868 355.1L868.5 353.9L869 355.8L869.5 355.4L870 353.3L870.5 354.8L871 354.6L871.5 352.2L872 354.7L872.5 354.3L873 354.5L873.5 353L874 355.1L874.5 356.3L875 356.7L875.5 355.3L876 358.2L876.5 354.9L877 356.9L877.5 359.4L878 355.9L878.5 355.7L879 358L879.5 355.7L880 356.3L880.5 357.4L881 358.9L881.5 353.3L882 355.4L882.5 354.7L883 354.4L883.5 354.9L884 354.7L884.5 356.2L885 355L885.5 356.7L886 357.2L886.5 355.3L887 356.3L887.5 358.9L888 356.7L888.5 355.6L889 357.2L889.5 356.3L890 358.6L890.5 359.6L891 356.6L891.5 358.2L892 359.9L892.5 357.4L893 358.9L893.5 357.2L894 357.8L894.5 358.3L895 362.3L895.5 358.1L896 357.8L896.5 357.4L897 357.7L897.5 359.5L898 358.5L898.5 361L899 358.7L899.5 359.8L900 357.8L900.5 358.1L901 354.1L901.5 356.3L902 356.8L902.5 356.8L903 354.8L903.5 360L904 358.8L904.5 358.9L905 359.6L905.5 359.4L906 359.8L906.5 357.6L907 358L907.5 359.7L908 359.9L908.5 359L909 358.5L909.5 358.3L910 358.6L910.5 360.3L911 356.7L911.5 360.7L912 359.6L912.5 357.9L913 359.7L913.5 356.4L914 356L914.5 357L915 358L915.5 357.4L916 357.3L916.5 358.4L917 355.5L917.5 359.8L918 356.4L918.5 357.6L919 358.4L919.5 357.4L920 357.1L920.5 357.8L921 358.7L921.5 360.1L922 359.6L922.5 357L923 357.4L923.5 357.1L924 358.4L924.5 354.6L925 359.5L925.5 357.8L926 358.1L926.5 359.9L927 360.4L927.5 359.8L928 361.3L928.5 360.1L929 361.4L929.5 361L930 359.3L930.5 362.6L931 360.7L931.5 360.2L932 359.2L932.5 359.8L933 361.9L933.5 358.8L934 361L934.5 360.7L935 360.8L935.5 356.6L936 360L936.5 361.4L937 358.8L937.5 360.4L938 357L938.5 361.6L939 359.3L939.5 362.2L940 357.3L940.5 360.8L941 359.4L941.5 360.3L942 357.1L942.5 358L943 361.4L943.5 356.9L944 357.1L944.5 357.4L945 356.3L945.5 360.3L946 361.6L946.5 358.4L947 357.3L947.5 361.3L948 361.5L948.5 361L949 361.7L949.5 357.9L950 358.7L950.5 356.6L951 356.9L951.5 360L952 358.1L952.5 361.8L953 358.2L953.5 357.1L954 359L954.5 360.8L955 359.6L955.5 357L956 359.9L956.5 361.7L957 359.3L957.5 358.5L958 361.3L958.5 359.3L959 357L959.5 358L960 357.3L960.5 358.8L961 359.5L961.5 360.2L962 359.8L962.5 357.4L963 360.7L963.5 362L964 361.2L964.5 361.2L965 359.2L965.5 358.9L966 361.4L966.5 357.9L967 355.7L967.5 360.6L968 357.8L968.5 358.7L969 357.4L969.5 357.9L970 358.3L970.5 360.2L971 361L971.5 357.3L972 361.3L972.5 358.2L973 357.6L973.5 361L974 359.4L974.5 357.4L975 362.2L975.5 359.3L976 360.5L976.5 360.5L977 360.9L977.5 358.3L978 360.8L978.5 358.5L979 360.9L979.5 358.3L980 359.2L980.5 363.4L981 361.2L981.5 360.5L982 363.7L982.5 360.7L983 358.1L983.5 359.8L984 357.2L984.5 360.3L985 360.2L985.5 357.8L986 357.3L986.5 359.2L987 359.4L987.5 357.8L988 359.8L988.5 356.4L989 359.3L989.5 359.8L990 360.4L990.5 360.6L991 357.4L991.5 360.6L992 359.2L992.5 358L993 356.8L993.5 356.8L994 359.8L994.5 359L995 360.3L995.5 361.3L996 361.6L996.5 362.7L997 360.3L997.5 358.9L998 362.2L998.5 361.3L999 363.2L999.5 360.5L1000 361.9L1000.5 361L1001 360.7L1001.5 359.8L1002 359.3L1002.5 359.5L1003 359.7L1003.5 360.9L1004 359L1004.5 361.9L1005 359.2L1005.5 361.3L1006 359.1L1006.5 359.8L1007 363.4L1007.5 359.9L1008 358.5L1008.5 358.6L1009 358.8L1009.5 362.5L1010 358.9L1010.5 360.2L1011 356.5L1011.5 358.4L1012 358.9L1012.5 361.2L1013 357.4L1013.5 359.3L1014 358.2L1014.5 357.3L1015 359L1015.5 359.3L1016 355.2L1016.5 360.1L1017 360.3L1017.5 359.3L1018 358.1L1018.5 362.4L1019 360.5L1019.5 362.4L1020 362.8L1020.5 359.7L1021 361.5L1021.5 359.4L1022 360L1022.5 360.3L1023 360.2L1023.5 362.3L1024 360.4L1024.5 359.9L1025 360.4L1025.5 361L1026 358.4L1026.5 359.4L1027 359.6L1027.5 359L1028 360L1028.5 358.4L1029 362L1029.5 361.5L1030 359.5L1030.5 358.3L1031 361.9L1031.5 358.5L1032 358.3L1032.5 359.3L1033 359.6L1033.5 361.2L1034 359L1034.5 361.9L1035 357.7L1035.5 360.5L1036 358.2L1036.5 362L1037 359.2L1037.5 359.7L1038 361.9L1038.5 362.4L1039 358.6L1039.5 359.6L1040 358.2L1040.5 360.3L1041 360L1041.5 359.2L1042 359.2L1042.5 360.7L1043 360.2L1043.5 362.2L1044 363.3L1044.5 358.8L1045 361L1045.5 359.9L1046 360.1L1046.5 357.4L1047 359L1047.5 358.4L1048 360.5L1048.5 359.9L1049 359.3L1049.5 359.6L1050 359.2L1050.5 356.9L1051 359.9L1051.5 359.7L1052 359.1L1052.5 361.3L1053 361.6L1053.5 358L1054 358.8L1054.5 362.6L1055 362.1L1055.5 359L1056 358.6L1056.5 360.5L1057 360.2L1057.5 358L1058 360.1L1058.5 358.6L1059 358.6L1059.5 361.5L1060 358.5L1060.5 360.6L1061 361.9L1061.5 362.1L1062 359.9L1062.5 361L1063 359.7L1063.5 363.4L1064 361L1064.5 357.8L1065 359.3L1065.5 360.1L1066 359L1066.5 360.5L1067 359.9L1067.5 357.1L1068 358.5L1068.5 356.8L1069 359.2L1069.5 359.7L1070 363.1L1070.5 358.9L1071 355.7L1071.5 357.8L1072 359.3L1072.5 357.6L1073 357.5L1073.5 358.7L1074 360.6L1074.5 359.3L1075 357.8L1075.5 359.6L1076 357.3L1076.5 358L1077 357L1077.5 357.3L1078 359.4L1078.5 356L1079 359L1079.5 360.1L1080 358.2L1080.5 358.3L1081 356.2L1081.5 360.3L1082 360.5L1082.5 358.6L1083 355.8L1083.5 357.1L1084 360.7L1084.5 362L1085 359.9L1085.5 361.1L1086 359.1L1086.5 360.2L1087 360L1087.5 360.7L1088 357.9L1088.5 361.1L1089 361.3L1089.5 357.5L1090 356.4L1090.5 359.5L1091 358.1L1091.5 355.5L1092 360.8L1092.5 360.3L1093 359.4L1093.5 363.7L1094 360.3L1094.5 358.8L1095 360.7L1095.5 359.1L1096 359.1L1096.5 360.3L1097 358.8L1097.5 359L1098 362.3L1098.5 361.2L1099 360.2L1099.5 360.4L1100 360.6L1100.5 362L1101 359.7L1101.5 362.3L1102 357.3L1102.5 359.2L1103 356.7L1103.5 358.5L1104 359.9L1104.5 361.8L1105 358.8L1105.5 360.2L1106 359.4L1106.5 359.6L1107 358.5L1107.5 360.2L1108 357.2L1108.5 360L1109 360L1109.5 358.1L1110 357.1L1110.5 356.8L1111 361.4L1111.5 356.2L1112 360.9L1112.5 359.1L1113 357.9L1113.5 357L1114 360.2L1114.5 361.6L1115 357.6L1115.5 357.7L1116 358.7L1116.5 357.4L1117 359.3L1117.5 354.7L1118 356.2L1118.5 352.7L1119 356.2L1119.5 351.3L1120 348.4L1120.5 350.3L1121 348.9L1121.5 349.6L1122 344.9L1122.5 343.8L1123 342.6L1123.5 341.1L1124 335.1L1124.5 334.2L1125 330.3L1125.5 326.6L1126 326.8L1126.5 327.1L1127 327.8L1127.5 333.9L1128 332.4L1128.5 340.7L1129 343.4L1129.5 344.1L1130 345L1130.5 347.2L1131 350.1L1131.5 352.1L1132 351.9L1132.5 353.7L1133 352.5L1133.5 354.2L1134 352.2L1134.5 355.9L1135 355L1135.5 354.6L1136 357.3L1136.5 356.4L1137 352.5L1137.5 357.4L1138 355.8L1138.5 360L1139 362.6L1139.5 358.7L1140 360.4L1140.5 360.2L1141 360.9L1141.5 361.1L1142 362.2L1142.5 357.4L1143 360.7L1143.5 356.6L1144 357.9L1144.5 359.2L1145 358.9L1145.5 356.9L1146 358.3L1146.5 359.5L1147 360.8L1147.5 362.5L1148 358.8L1148.5 361.6L1149 361.4L1149.5 361.3L1150 360.8L1150.5 361.7L1151 360.4L1151.5 361.5L1152 361L1152.5 363.1L1153 357.5L1153.5 362.2L1154 360.3L1154.5 359.8L1155 359.5L1155.5 357.7L1156 359.6L1156.5 359.7L1157 361.8L1157.5 358.6L1158 363L1158.5 360.5L1159 360.1L1159.5 359.8L1160 359.3L1160.5 358.7L1161 359.8L1161.5 361L1162 359.6L1162.5 357.2L1163 358.5L1163.5 357.5L1164 359L1164.5 361.6L1165 359.7L1165.5 359.3L1166 357.6L1166.5 358.7L1167 358.2L1167.5 361.9L1168 359.8L1168.5 361L1169 359.4L1169.5 360.6L1170 361.8L1170.5 358.9L1171 359.6L1171.5 358.6L1172 360.9L1172.5 359L1173 358.9L1173.5 358.6L1174 358.7L1174.5 361.3L1175 364.2L1175.5 358.8L1176 361.5L1176.5 360L1177 357.5L1177.5 359.1L1178 359L1178.5 358.4L1179 362.4L1179.5 356.7L1180 360.4L1180.5 360.8L1181 358.8L1181.5 360.2L1182 361.1L1182.5 360.4L1183 360.2L1183.5 360.2L1184 356.5L1184.5 361.9L1185 362.6L1185.5 361L1186 360.4L1186.5 357.4L1187 359L1187.5 357.5L1188 357.7L1188.5 360.4L1189 357.9L1189.5 359L1190 356.8L1190.5 359.9L1191 359.8L1191.5 358.1L1192 358.3L1192.5 362L1193 357.4L1193.5 356.9L1194 357.1L1194.5 361.2L1195 363.2L1195.5 360.7L1196 359.1L1196.5 359L1197 361.7L1197.5 359L1198 362L1198.5 362.5L1199 359.8L1199.5 361.1L1200 362L1200.5 362.7L1201 359.1L1201.5 362.3L1202 359.9L1202.5 359.7L1203 360.6L1203.5 360.4L1204 359.6L1204.5 358.4L1205 359.9L1205.5 363L1206 363.7L1206.5 361.4L1207 362.1L1207.5 359.5L1208 360L1208.5 360.1L1209 357.9L1209.5 358.1L1210 359.8L1210.5 359.3L1211 358.5L1211.5 361.1L1212 359.7L1212.5 361.9L1213 360.4L1213.5 360.1L1214 361L1214.5 360.2L1215 359.5L1215.5 360.3L1216 361.9L1216.5 361.3L1217 362.4L1217.5 357.7L1218 359.6L1218.5 359.4L1219 360.3L1219.5 359.7L1220 359.2L1220.5 360.9L1221 359.5L1221.5 357.3L1222 361.1L1222.5 360.5L1223 357.7L1223.5 360.6L1224 358.5L1224.5 361.1L1225 359.1L1225.5 358L1226 359.2L1226.5 358.8L1227 359.9L1227.5 359.8L1228 360L1228.5 359.1L1229 355.3L1229.5 360.5L1230 357.9L1230.5 361.6L1231 362.6L1231.5 361.9L1232 361.2L1232.5 361.3L1233 361L1233.5 360.4L1234 360.1L1234.5 359.7L1235 363.1L1235.5 361.2L1236 362.3L1236.5 360.9L1237 361.4L1237.5 361.2L1238 362.5L1238.5 362.7L1239 362.1L1239.5 360.5L1240 360.1L1240.5 363.2L1241 359.9L1241.5 360.2L1242 362.6L1242.5 361.3L1243 360.8L1243.5 359.8L1244 364.1L1244.5 361.1L1245 361L1245.5 359.1L1246 357.8L1246.5 358.1L1247 360.6L1247.5 360.4L1248 359.3L1248.5 357.6L1249 357.9L1249.5 359.3L1250 357.5L1250.5 361.5L1251 362.6L1251.5 365.1L1252 362.1L1252.5 360.4L1253 359.9L1253.5 356.4L1254 360.6L1254.5 360.7L1255 362.5L1255.5 362.2L1256 361.4L1256.5 360.6L1257 360.7L1257.5 361.7L1258 357.9L1258.5 358.8L1259 357.3L1259.5 361.6L1260 361.9L1260.5 360.5L1261 357.1L1261.5 359.5L1262 358.5L1262.5 359.3L1263 359.7L1263.5 360L1264 359.5L1264.5 361.2L1265 360.3L1265.5 359.9L1266 360.1L1266.5 359.6L1267 361.9L1267.5 360.7L1268 362.1L1268.5 360.5L1269 358.9L1269.5 362.6L1270 358.7L1270.5 361.6L1271 360.8L1271.5 357.6L1272 358.8L1272.5 359.4L1273 358.9L1273.5 358.7L1274 361.2L1274.5 359L1275 360.3L1275.5 359L1276 359.4L1276.5 357.4L1277 358.3L1277.5 359.4L1278 358.9L1278.5 357.8L1279 356.9L1279.5 360.2L1280 360.9L1280.5 360.9L1281 359.7L1281.5 362.1L1282 364.6L1282.5 361L1283 361.4L1283.5 360.8L1284 355.4L1284.5 359.4L1285 357.5L1285.5 360.7L1286 357.8L1286.5 356.3L1287 357.7L1287.5 358.8L1288 357.6L1288.5 358.7L1289 357L1289.5 358.9L1290 360.6L1290.5 362.7L1291 360.9L1291.5 360.8L1292 362.3L1292.5 362.7L1293 364.3L1293.5 363.5L1294 361.4L1294.5 362.1L1295 361.5L1295.5 361.9L1296 361.1L1296.5 358.9L1297 356.9L1297.5 358.6L1298 356L1298.5 358.8L1299 359.3L1299.5 357.2L1300 361.4L1300.5 361.8L1301 361.5L1301.5 364.4L1302 365.7L1302.5 360.6L1303 363.2L1303.5 362.1L1304 361.8L1304.5 361.9L1305 358.6L1305.5 358.6L1306 358.3L1306.5 358.3L1307 359.7L1307.5 358.3L1308 359.1L1308.5 361.8L1309 360.7L1309.5 361.3L1310 358.2L1310.5 359L1311 359L1311.5 359.3L1312 358.6L1312.5 361.2L1313 359.5L1313.5 360L1314 360.5L1314.5 361.7L1315 360.6L1315.5 362.7L1316 361.3L1316.5 360.7L1317 360.7L1317.5 361.7L1318 362.4L1318.5 362L1319 361.2L1319.5 361.9L1320 361.3L1320.5 362.7L1321 360.2L1321.5 356.8L1322 362.4L1322.5 360.9L1323 359L1323.5 360.1L1324 359.5L1324.5 363.9L1325 362.3L1325.5 359.3L1326 362.4L1326.5 361.3L1327 364.7L1327.5 359.4L1328 357.6L1328.5 360.2L1329 359.4L1329.5 359.3L1330 356.6L1330.5 360.7L1331 361.9L1331.5 356.7L1332 361L1332.5 358.3L1333 362.4L1333.5 359.4L1334 358.6L1334.5 361L1335 360.1L1335.5 359L1336 360.3L1336.5 358.9L1337 357L1337.5 362.1L1338 358.9L1338.5 359.4L1339 360.8L1339.5 357.9L1340 357.8L1340.5 358.9L1341 358.9L1341.5 360L1342 360.3L1342.5 358.1L1343 360L1343.5 360L1344 357.4L1344.5 359.3L1345 357.9L1345.5 361.4L1346 360.2L1346.5 359.7L1347 358.1L1347.5 361.2L1348 359.8L1348.5 361.9L1349 360.8L1349.5 359.5L1350 362.2L1350.5 361.9L1351 359.1L1351.5 362.1L1352 360.1L1352.5 360.2L1353 361.1L1353.5 359.8L1354 360.9L1354.5 361.1L1355 363.6L1355.5 363.5L1356 360.5L1356.5 363.6L1357 361.1L1357.5 361.3L1358 362.8L1358.5 361.7L1359 364.7L1359.5 361.4L1360 358.9L1360.5 362.6L1361 359.4L1361.5 359.4L1362 356L1362.5 362.4L1363 362.6L1363.5 362.4L1364 363.1L1364.5 364.3L1365 361.5L1365.5 363L1366 359.6L1366.5 360.1L1367 362.6L1367.5 361L1368 358.4L1368.5 361.1L1369 359.6L1369.5 359.3L1370 361.3L1370.5 359.5L1371 357.6L1371.5 358.5L1372 362.3L1372.5 357.2L1373 359.5L1373.5 359.6L1374 359.6L1374.5 356.8L1375 358.4L1375.5 359.1L1376 360.1L1376.5 358.4L1377 358.1L1377.5 361.4L1378 361.3L1378.5 360.1L1379 358.7L1379.5 360.4L1380 359.3L1380.5 360.2L1381 356.8L1381.5 358.5L1382 357.6L1382.5 356.9L1383 358.9L1383.5 358.2L1384 357.5L1384.5 359.8L1385 357.7L1385.5 360L1386 360.5L1386.5 360.8L1387 362.5L1387.5 359.1L1388 358.4L1388.5 361L1389 361.1L1389.5 363.6L1390 360.9L1390.5 358.5L1391 361.1L1391.5 358.8L1392 358.3L1392.5 364.2L1393 360.9L1393.5 361.4L1394 361L1394.5 362.3L1395 360.2L1395.5 361.6L1396 358.5L1396.5 357.4L1397 361.8L1397.5 362L1398 361.4L1398.5 360.1L1399 359.2L1399.5 358L1400 361.7L1400.5 360.4L1401 360.6L1401.5 360.5L1402 361.9L1402.5 361.5L1403 361.4L1403.5 358.6L1404 361.3L1404.5 363.5L1405 359.2L1405.5 359.9L1406 362.1L1406.5 362.8L1407 361.9L1407.5 358.1L1408 360.9L1408.5 357.4L1409 358L1409.5 359.9L1410 359.1L1410.5 361.1L1411 364.7L1411.5 361.3L1412 362.1L1412.5 359.7L1413 359.6L1413.5 358.6L1414 359.6L1414.5 358.2L1415 359.4L1415.5 359.9L1416 358.4L1416.5 357.9L1417 358.3L1417.5 361.3L1418 361.9L1418.5 362.7L1419 362.5L1419.5 360.8L1420 362.1L1420.5 358.2L1421 362.7L1421.5 361.1L1422 359.7L1422.5 358.6L1423 360.7L1423.5 357.6L1424 359.3L1424.5 362.3L1425 360.5L1425.5 359.7L1426 361.6L1426.5 358.3L1427 360.8L1427.5 359.7L1428 359.2L1428.5 361.2L1429 357.9L1429.5 362.6L1430 359.2L1430.5 362.6L1431 358" fill="none" stroke="#000" stroke-width="4.8" stroke-linejoin="bevel"/>
<g fill="#00d8f5"><polygon points="416,211.6 416,204.9 416.9,204.8 416.9,202.4 418,202.3 418,199.5 416.6,198.5 414.4,198.5 413,199.5 413,202.3 414.1,202.4 414.1,204.8 415,204.9 415,211.6"/><polygon points="415,211.6 415,218.3 414.1,218.4 414.1,220.8 413,220.9 413,223.7 413.2,223.9 415,225.6 416,225.6 417.8,223.9 418,223.7 418,220.9 416.9,220.8 416.9,218.4 416,218.3 416,211.6"/><polygon points="415.7,212 420.5,209.8 423.6,209.6 425.6,209.2 427.7,208.1 428,206.5 427,204.5 425.5,203.8 423.4,204.9 421.9,206.2 419.9,208.6 415.3,211.2"/><polygon points="415.7,211.2 411.1,208.6 409.1,206.2 407.6,204.9 405.5,203.8 404,204.5 403,206.5 403.3,208.1 405.4,209.2 407.4,209.6 410.5,209.8 415.3,212"/><polygon points="415.3,212 419.7,214.9 421.5,217.4 422.9,218.8 425,220.1 426.4,219.5 427.6,217.5 427.4,216 425.4,214.7 423.5,214.2 420.4,213.7 415.7,211.2"/><polygon points="415.3,211.2 410.6,213.7 407.5,214.2 405.6,214.7 403.6,216 403.4,217.5 404.6,219.5 406,220.1 408.1,218.8 409.5,217.4 411.3,214.9 415.7,212"/></g>
<g fill="#ff9a3c"><polygon points="745.9,172.2 745.9,165.5 746.8,165.4 746.8,163 747.9,162.9 747.9,160.1 746.5,159.1 744.3,159.1 742.9,160.1 742.9,162.9 744,163 744,165.4 744.9,165.5 744.9,172.2"/><polygon points="744.9,172.2 744.9,178.9 744,179 744,181.4 742.9,181.5 742.9,184.3 743.1,184.5 744.9,186.2 745.9,186.2 747.7,184.5 747.9,184.3 747.9,181.5 746.8,181.4 746.8,179 745.9,178.9 745.9,172.2"/><polygon points="745.6,172.6 750.4,170.4 753.5,170.2 755.5,169.8 757.6,168.7 757.9,167.1 756.9,165.1 755.4,164.4 753.3,165.5 751.8,166.8 749.8,169.2 745.2,171.8"/><polygon points="745.6,171.8 741,169.2 739,166.8 737.5,165.5 735.4,164.4 733.9,165.1 732.9,167.1 733.2,168.7 735.3,169.8 737.3,170.2 740.4,170.4 745.2,172.6"/><polygon points="745.2,172.6 749.6,175.5 751.4,178 752.8,179.4 754.9,180.7 756.3,180.1 757.5,178.1 757.3,176.6 755.3,175.3 753.4,174.8 750.3,174.3 745.6,171.8"/><polygon points="745.2,171.8 740.5,174.3 737.4,174.8 735.5,175.3 733.5,176.6 733.3,178.1 734.5,180.1 735.9,180.7 738,179.4 739.4,178 741.2,175.5 745.6,172.6"/></g>
<g fill="#00b04f"><polygon points="768.9,52.4 768.9,45.7 769.8,45.6 769.8,43.2 770.9,43.1 770.9,40.3 769.5,39.3 767.3,39.3 765.9,40.3 765.9,43.1 767,43.2 767,45.6 767.9,45.7 767.9,52.4"/><polygon points="767.9,52.4 767.9,59.1 767,59.2 767,61.6 765.9,61.7 765.9,64.5 766.1,64.7 767.9,66.4 768.9,66.4 770.7,64.7 770.9,64.5 770.9,61.7 769.8,61.6 769.8,59.2 768.9,59.1 768.9,52.4"/><polygon points="768.6,52.8 773.4,50.6 776.5,50.4 778.5,50 780.6,48.9 780.9,47.3 779.9,45.3 778.4,44.6 776.3,45.7 774.8,47 772.8,49.4 768.2,52"/><polygon points="768.6,52 764,49.4 762,47 760.5,45.7 758.4,44.6 756.9,45.3 755.9,47.3 756.2,48.9 758.3,50 760.3,50.4 763.4,50.6 768.2,52.8"/><polygon points="768.2,52.8 772.6,55.7 774.4,58.2 775.8,59.6 777.9,60.9 779.3,60.3 780.5,58.3 780.3,56.8 778.3,55.5 776.4,55 773.3,54.5 768.6,52"/><polygon points="768.2,52 763.5,54.5 760.4,55 758.5,55.5 756.5,56.8 756.3,58.3 757.5,60.3 758.9,60.9 761,59.6 762.4,58.2 764.2,55.7 768.6,52.8"/></g>
<g fill="#ff0000"><polygon points="838,64.5 838,57.8 838.9,57.7 838.9,55.3 840,55.2 840,52.4 838.6,51.4 836.4,51.4 835,52.4 835,55.2 836.1,55.3 836.1,57.7 837,57.8 837,64.5"/><polygon points="837,64.5 837,71.2 836.1,71.3 836.1,73.7 835,73.8 835,76.6 835.2,76.8 837,78.5 838,78.5 839.8,76.8 840,76.6 840,73.8 838.9,73.7 838.9,71.3 838,71.2 838,64.5"/><polygon points="837.7,64.9 842.5,62.7 845.6,62.5 847.6,62.1 849.7,61 850,59.4 849,57.4 847.5,56.7 845.4,57.8 843.9,59.1 841.9,61.5 837.3,64.1"/><polygon points="837.7,64.1 833.1,61.5 831.1,59.1 829.6,57.8 827.5,56.7 826,57.4 825,59.4 825.3,61 827.4,62.1 829.4,62.5 832.5,62.7 837.3,64.9"/><polygon points="837.3,64.9 841.7,67.8 843.5,70.3 844.9,71.7 847,73 848.4,72.4 849.6,70.4 849.4,68.9 847.4,67.6 845.5,67.1 842.4,66.6 837.7,64.1"/><polygon points="837.3,64.1 832.6,66.6 829.5,67.1 827.6,67.6 825.6,68.9 825.4,70.4 826.6,72.4 828,73 830.1,71.7 831.5,70.3 833.3,67.8 837.7,64.9"/></g>
<rect x="239" y="293" width="20" height="20" fill="#000"/>
<rect x="584" y="292" width="20" height="20" fill="#000"/>
<rect x="1113" y="287" width="20" height="20" fill="#000"/>
<text transform="translate(1348.89 346.50) scale(0.8793 1)" font-family="'DejaVu Sans', Verdana, sans-serif" font-size="36.4" fill="#000">0% D</text>
<line x1="73" y1="387.5" x2="1426" y2="387.5" stroke="#000" stroke-width="3"/>
<rect x="1427" y="387" width="4" height="30" fill="#000"/>
<line x1="74.5" y1="386" x2="74.5" y2="417" stroke="#000" stroke-width="3"/>
<line x1="159.2" y1="386" x2="159.2" y2="402" stroke="#000" stroke-width="3"/>
<line x1="243.8" y1="386" x2="243.8" y2="417" stroke="#000" stroke-width="3"/>
<line x1="328.5" y1="386" x2="328.5" y2="402" stroke="#000" stroke-width="3"/>
<line x1="413.1" y1="386" x2="413.1" y2="417" stroke="#000" stroke-width="3"/>
<line x1="497.8" y1="386" x2="497.8" y2="402" stroke="#000" stroke-width="3"/>
<line x1="582.4" y1="386" x2="582.4" y2="417" stroke="#000" stroke-width="3"/>
<line x1="667.1" y1="386" x2="667.1" y2="402" stroke="#000" stroke-width="3"/>
<line x1="751.7" y1="386" x2="751.7" y2="417" stroke="#000" stroke-width="3"/>
<line x1="836.4" y1="386" x2="836.4" y2="402" stroke="#000" stroke-width="3"/>
<line x1="921" y1="386" x2="921" y2="417" stroke="#000" stroke-width="3"/>
<line x1="1005.7" y1="386" x2="1005.7" y2="402" stroke="#000" stroke-width="3"/>
<line x1="1090.3" y1="386" x2="1090.3" y2="417" stroke="#000" stroke-width="3"/>
<line x1="1175" y1="386" x2="1175" y2="402" stroke="#000" stroke-width="3"/>
<line x1="1259.6" y1="386" x2="1259.6" y2="417" stroke="#000" stroke-width="3"/>
<line x1="1344.2" y1="386" x2="1344.2" y2="402" stroke="#000" stroke-width="3"/>
<text transform="translate(31.50 470.90) scale(0.8888 1)" font-family="'DejaVu Sans', Verdana, sans-serif" font-size="41.2" fill="#000">18.0</text>
<text transform="translate(207.12 470.90) scale(0.8612 1)" font-family="'DejaVu Sans', Verdana, sans-serif" font-size="41.2" fill="#000">17.5</text>
<text transform="translate(374.67 470.90) scale(0.8734 1)" font-family="'DejaVu Sans', Verdana, sans-serif" font-size="41.2" fill="#000">17.0</text>
<text transform="translate(546.12 470.90) scale(0.8612 1)" font-family="'DejaVu Sans', Verdana, sans-serif" font-size="41.2" fill="#000">16.5</text>
<text transform="translate(712.40 470.90) scale(0.8888 1)" font-family="'DejaVu Sans', Verdana, sans-serif" font-size="41.2" fill="#000">16.0</text>
<text transform="translate(881.07 470.90) scale(0.8732 1)" font-family="'DejaVu Sans', Verdana, sans-serif" font-size="41.2" fill="#000">15.5</text>
<text transform="translate(1051.54 470.90) scale(0.8793 1)" font-family="'DejaVu Sans', Verdana, sans-serif" font-size="41.2" fill="#000">15.0</text>
<text transform="translate(1221.65 470.90) scale(0.8780 1)" font-family="'DejaVu Sans', Verdana, sans-serif" font-size="41.2" fill="#000">14.5</text>
<text transform="translate(1401.89 472.00) scale(0.8937 1)" font-family="'DejaVu Sans', Verdana, sans-serif" font-size="40.5" fill="#000">ppm</text>
<text transform="translate(75.29 524.90) scale(0.9591 1)" font-family="'Liberation Sans', Arial, sans-serif" font-size="37.5" fill="#000">(PhO)</text>
<text transform="translate(171.79 534.80) scale(0.9273 1)" font-family="'Liberation Sans', Arial, sans-serif" font-size="24.0" fill="#000">2</text>
<text transform="translate(185.19 524.90) scale(0.9080 1)" font-family="'Liberation Sans', Arial, sans-serif" font-size="37.5" fill="#000">POOH</text>
<text transform="translate(75.59 573.90) scale(1.0048 1)" font-family="'Liberation Sans', Arial, sans-serif" font-size="37.5" fill="#000">self-associates (not formed)</text>
<rect x="75" y="584" width="1369" height="4" fill="#a6a6a6"/>
<text transform="translate(76.83 638.60) scale(0.9256 1)" font-family="'Liberation Sans', Arial, sans-serif" font-size="37.5" fill="#000">Ph</text>
<text transform="translate(120.69 648.80) scale(0.9273 1)" font-family="'Liberation Sans', Arial, sans-serif" font-size="24.0" fill="#000">2</text>
<text transform="translate(134.07 638.60) scale(0.9128 1)" font-family="'Liberation Sans', Arial, sans-serif" font-size="37.5" fill="#000">POOH</text>
<text transform="translate(75.89 688.00) scale(1.0078 1)" font-family="'Liberation Sans', Arial, sans-serif" font-size="37.5" fill="#000">self-associates (not formed)</text>
<rect x="75" y="703" width="1369" height="4" fill="#a6a6a6"/>
<path d="M75 1038.6L77 1038.6L79 1038.6L81 1038.6L83 1038.6L85 1038.6L87 1038.6L89 1038.6L91 1038.6L93 1038.6L95 1038.6L97 1038.6L99 1038.6L101 1038.6L103 1038.6L105 1038.6L107 1038.6L109 1038.6L111 1038.6L113 1038.6L115 1038.6L117 1038.6L119 1038.6L121 1038.6L123 1038.6L125 1038.6L127 1038.6L129 1038.6L131 1038.6L133 1038.6L135 1038.6L137 1038.6L139 1038.6L141 1038.6L143 1038.6L145 1038.6L147 1038.6L149 1038.6L151 1038.6L153 1038.6L155 1038.6L157 1038.6L159 1038.6L161 1038.6L163 1038.6L165 1038.6L167 1038.6L169 1038.6L171 1038.6L173 1038.6L175 1038.6L177 1038.6L179 1038.6L181 1038.6L183 1038.6L185 1038.6L187 1038.6L189 1038.6L191 1038.6L193 1038.6L195 1038.6L197 1038.6L199 1038.6L201 1038.6L203 1038.6L205 1038.6L207 1038.6L207.5 1038.6L208 1038.6L208.5 1038.6L209 1038.6L209.5 1038.6L210 1038.6L210.5 1038.6L211 1038.6L211.5 1038.6L212 1038.6L212.5 1038.6L213 1038.6L213.5 1038.6L214 1038.6L214.5 1038.6L215 1038.6L215.5 1038.6L216 1038.6L216.5 1038.6L217 1038.6L217.5 1038.6L218 1038.6L218.5 1038.6L219 1038.6L219.5 1038.6L220 1038.6L220.5 1038.6L221 1038.6L221.5 1038.6L222 1038.6L222.5 1038.6L223 1038.6L223.5 1038.6L224 1038.6L224.5 1038.6L225 1038.6L225.5 1038.6L226 1038.6L226.5 1038.6L227 1038.6L227.5 1038.6L228 1038.6L228.5 1038.6L229 1038.6L229.5 1038.6L230 1038.6L230.5 1038.6L231 1038.6L231.5 1038.6L232 1038.6L232.5 1038.6L233 1038.6L233.5 1038.6L234 1038.6L234.5 1038.6L235 1038.6L235.5 1038.6L236 1038.6L236.5 1038.6L237 1038.6L237.5 1038.6L238 1038.6L238.5 1038.6L239 1038.6L239.5 1038.6L240 1038.6L240.5 1038.6L241 1038.6L241.5 1038.6L242 1038.6L242.5 1038.6L243 1038.6L243.5 1038.6L244 1038.6L244.5 1038.6L245 1038.6L245.5 1038.6L246 1038.6L246.5 1038.6L247 1038.6L247.5 1038.6L248 1038.6L248.5 1038.6L249 1038.6L249.5 1038.6L250 1038.6L250.5 1038.6L251 1038.6L251.5 1038.6L252 1038.6L252.5 1038.6L253 1038.6L253.5 1038.6L254 1038.6L254.5 1038.6L255 1038.6L255.5 1038.6L256 1038.6L256.5 1038.6L257 1038.6L257.5 1038.6L258 1038.6L258.5 1038.6L259 1038.6L259.5 1038.6L260 1038.6L260.5 1038.6L261 1038.6L261.5 1038.6L262 1038.6L262.5 1038.6L263 1038.6L263.5 1038.6L264 1038.6L264.5 1038.6L265 1038.6L265.5 1038.6L266 1038.6L266.5 1038.6L267 1038.6L267.5 1038.6L268 1038.6L268.5 1038.6L269 1038.6L269.5 1038.6L270 1038.6L270.5 1038.6L271 1038.6L271.5 1038.6L272 1038.6L272.5 1038.6L273 1038.6L273.5 1038.6L274 1038.6L274.5 1038.6L275 1038.6L275.5 1038.6L276 1038.6L276.5 1038.6L277 1038.6L277.5 1038.6L278 1038.6L278.5 1038.6L279 1038.6L279.5 1038.6L280 1038.6L280.5 1038.6L281 1038.6L281.5 1038.6L282 1038.6L282.5 1038.6L283 1038.6L283.5 1038.6L284 1038.6L284.5 1038.6L285 1038.6L285.5 1038.6L286 1038.6L286.5 1038.6L288.5 1038.6L290.5 1038.6L292.5 1038.6L294.5 1038.6L296.5 1038.6L298.5 1038.6L300.5 1038.6L302.5 1038.6L304.5 1038.6L306.5 1038.6L308.5 1038.6L310.5 1038.6L312.5 1038.6L314.5 1038.6L316.5 1038.6L318.5 1038.6L320.5 1038.6L322.5 1038.6L324.5 1038.6L326.5 1038.6L328.5 1038.6L330.5 1038.6L332.5 1038.6L334.5 1038.6L336.5 1038.6L338.5 1038.6L340.5 1038.6L342.5 1038.6L344.5 1038.6L346.5 1038.6L348.5 1038.6L350.5 1038.6L352.5 1038.6L354.5 1038.6L356.5 1038.6L358.5 1038.6L360.5 1038.6L362.5 1038.6L364.5 1038.6L366.5 1038.6L368.5 1038.6L370.5 1038.6L372.5 1038.6L374.5 1038.6L376.5 1038.6L378.5 1038.6L379 1038.6L379.5 1038.6L380 1038.6L380.5 1038.6L381 1038.6L381.5 1038.6L382 1038.6L382.5 1038.6L383 1038.6L383.5 1038.6L384 1038.6L384.5 1038.6L385 1038.6L385.5 1038.6L386 1038.6L386.5 1038.6L387 1038.6L387.5 1038.6L388 1038.6L388.5 1038.6L389 1038.6L389.5 1038.6L390 1038.6L390.5 1038.6L391 1038.6L391.5 1038.6L392 1038.6L392.5 1038.6L393 1038.6L393.5 1038.6L394 1038.6L394.5 1038.6L395 1038.6L395.5 1038.6L396 1038.6L396.5 1038.6L397 1038.6L397.5 1038.6L398 1038.6L398.5 1038.6L399 1038.6L399.5 1038.6L400 1038.6L400.5 1038.6L401 1038.6L401.5 1038.6L402 1038.6L402.5 1038.6L403 1038.6L403.5 1038.6L404 1038.6L404.5 1038.6L405 1038.6L405.5 1038.6L406 1038.6L406.5 1038.6L407 1038.6L407.5 1038.6L408 1038.6L408.5 1038.6L409 1038.6L409.5 1038.6L410 1038.6L410.5 1038.6L411 1038.6L411.5 1038.6L412 1038.6L412.5 1038.6L413 1038.6L413.5 1038.6L414 1038.6L414.5 1038.6L415 1038.6L415.5 1038.6L416 1038.6L416.5 1038.6L417 1038.6L417.5 1038.6L418 1038.6L418.5 1038.6L419 1038.6L419.5 1038.6L420 1038.6L420.5 1038.6L421 1038.6L421.5 1038.6L422 1038.6L422.5 1038.6L423 1038.6L423.5 1038.6L424 1038.6L424.5 1038.6L425 1038.6L425.5 1038.6L426 1038.6L426.5 1038.6L427 1038.6L427.5 1038.6L428 1038.6L428.5 1038.6L429 1038.6L429.5 1038.6L430 1038.6L430.5 1038.6L431 1038.6L431.5 1038.6L432 1038.6L432.5 1038.6L433 1038.6L433.5 1038.6L434 1038.6L434.5 1038.6L435 1038.6L435.5 1038.6L436 1038.6L436.5 1038.6L437 1038.6L437.5 1038.6L438 1038.6L438.5 1038.6L439 1038.6L439.5 1038.5L440 1038.5L440.5 1038.5L441 1038.5L441.5 1038.5L442 1038.5L442.5 1038.5L443 1038.5L443.5 1038.5L444 1038.5L444.5 1038.5L445 1038.5L445.5 1038.5L446 1038.5L446.5 1038.5L447 1038.5L447.5 1038.5L448 1038.5L448.5 1038.5L449 1038.5L449.5 1038.5L450 1038.5L450.5 1038.5L451 1038.5L451.5 1038.5L452 1038.5L452.5 1038.5L453 1038.5L453.5 1038.5L454 1038.5L454.5 1038.5L455 1038.5L455.5 1038.5L456 1038.5L456.5 1038.5L457 1038.5L457.5 1038.5L458 1038.5L458.5 1038.5L460.5 1038.5L462.5 1038.5L464.5 1038.5L466.5 1038.5L468.5 1038.5L470.5 1038.5L472.5 1038.5L474.5 1038.5L476.5 1038.5L478.5 1038.5L480.5 1038.5L482.5 1038.5L484.5 1038.5L486.5 1038.5L488.5 1038.5L490.5 1038.5L492.5 1038.5L494.5 1038.5L496.5 1038.5L498.5 1038.5L500.5 1038.5L502.5 1038.5L504.5 1038.5L506.5 1038.5L508.5 1038.5L510.5 1038.5L512.5 1038.5L514.5 1038.5L516.5 1038.5L518.5 1038.5L520.5 1038.5L522.5 1038.5L524.5 1038.5L526.5 1038.5L528.5 1038.5L530.5 1038.5L532.5 1038.5L534.5 1038.5L536.5 1038.5L538.5 1038.5L540.5 1038.5L542.5 1038.5L544.5 1038.5L546.5 1038.5L548.5 1038.5L550.5 1038.5L551 1038.5L551.5 1038.5L552 1038.5L552.5 1038.5L553 1038.5L553.5 1038.5L554 1038.5L554.5 1038.5L555 1038.5L555.5 1038.5L556 1038.5L556.5 1038.5L557 1038.5L557.5 1038.5L558 1038.5L558.5 1038.5L559 1038.5L559.5 1038.5L560 1038.5L560.5 1038.5L561 1038.5L561.5 1038.5L562 1038.5L562.5 1038.5L563 1038.5L563.5 1038.5L564 1038.5L564.5 1038.5L565 1038.5L565.5 1038.5L566 1038.5L566.5 1038.5L567 1038.5L567.5 1038.5L568 1038.5L568.5 1038.5L569 1038.5L569.5 1038.5L570 1038.5L570.5 1038.5L571 1038.5L571.5 1038.5L572 1038.5L572.5 1038.5L573 1038.5L573.5 1038.5L574 1038.5L574.5 1038.5L575 1038.5L575.5 1038.5L576 1038.5L576.5 1038.5L577 1038.5L577.5 1038.5L578 1038.5L578.5 1038.5L579 1038.4L579.5 1038.4L580 1038.4L580.5 1038.4L581 1038.4L581.5 1038.4L582 1038.4L582.5 1038.4L583 1038.4L583.5 1038.4L584 1038.4L584.5 1038.4L585 1038.4L585.5 1038.4L586 1038.4L586.5 1038.4L587 1038.4L587.5 1038.4L588 1038.4L588.5 1038.4L589 1038.4L589.5 1038.4L590 1038.4L590.5 1038.4L591 1038.4L591.5 1038.4L592 1038.4L592.5 1038.4L593 1038.4L593.5 1038.4L594 1038.4L594.5 1038.4L595 1038.4L595.5 1038.4L596 1038.4L596.5 1038.4L597 1038.4L597.5 1038.4L598 1038.4L598.5 1038.4L599 1038.4L599.5 1038.4L600 1038.4L600.5 1038.4L601 1038.4L601.5 1038.4L602 1038.4L602.5 1038.4L603 1038.4L603.5 1038.4L604 1038.4L604.5 1038.4L605 1038.4L605.5 1038.4L606 1038.4L606.5 1038.4L607 1038.4L607.5 1038.4L608 1038.4L608.5 1038.4L609 1038.4L609.5 1038.4L610 1038.4L610.5 1038.4L611 1038.4L611.5 1038.4L612 1038.4L612.5 1038.4L613 1038.4L613.5 1038.4L614 1038.4L614.5 1038.4L615 1038.4L615.5 1038.4L616 1038.4L616.5 1038.4L617 1038.4L617.5 1038.4L618 1038.4L618.5 1038.4L619 1038.4L619.5 1038.4L620 1038.4L620.5 1038.4L621 1038.4L621.5 1038.4L622 1038.3L622.5 1038.3L623 1038.3L623.5 1038.3L624 1038.3L624.5 1038.3L625 1038.3L625.5 1038.3L626 1038.3L626.5 1038.3L627 1038.3L627.5 1038.3L628 1038.3L628.5 1038.3L629 1038.3L629.5 1038.3L631.5 1038.3L633.5 1038.3L635.5 1038.3L637.5 1038.3L639.5 1038.3L641.5 1038.3L643.5 1038.3L645.5 1038.2L647.5 1038.2L649.5 1038.2L651.5 1038.2L653.5 1038.2L655.5 1038.2L657.5 1038.2L659.5 1038.1L661.5 1038.1L663.5 1038.1L665.5 1038.1L667.5 1038.1L669.5 1038.1L671.5 1038L673.5 1038L675.5 1038L677.5 1038L679.5 1037.9L681.5 1037.9L683.5 1037.9L685.5 1037.8L687.5 1037.8L689.5 1037.7L691.5 1037.7L693.5 1037.6L695.5 1037.6L697.5 1037.5L699.5 1037.5L701.5 1037.4L703.5 1037.3L705.5 1037.3L707.5 1037.2L709.5 1037.1L711.5 1037L713.5 1036.8L715.5 1036.7L716 1036.7L716.5 1036.6L717 1036.6L717.5 1036.6L718 1036.5L718.5 1036.5L719 1036.4L719.5 1036.4L720 1036.4L720.5 1036.3L721 1036.3L721.5 1036.2L722 1036.2L722.5 1036.1L723 1036.1L723.5 1036L724 1035.9L724.5 1035.9L725 1035.8L725.5 1035.8L726 1035.7L726.5 1035.6L727 1035.6L727.5 1035.5L728 1035.4" fill="none" stroke="#00b04f" stroke-width="4.9" stroke-linejoin="round"/>
<path d="M757.5 1002.9L758 1000.1L758.5 996.9L759 993.4L759.5 989.4L760 984.9L760.5 979.8L761 974.1L761.5 967.5L762 960.1L762.5 951.6L763 941.9L763.5 930.9L764 918.4L764.5 904.3L765 888.6L765.5 871.3L766 852.7L766.5 833.4L767 814.4L767.5 796.9L768 782.7L768.5 773.4L769 770.1L769.5 773.4L770 782.7L770.5 796.9L771 814.4L771.5 833.4L772 852.7L772.5 871.3L773 888.6L773.5 904.3L774 918.4L774.5 930.9L775 941.9L775.5 951.6L776 960.1L776.5 967.5L777 974.1L777.5 979.8L778 984.9L778.5 989.4L779 993.4L779.5 996.9L780 1000.1L780.5 1002.9L781 1005.5L781.5 1007.8L782 1009.9L782.5 1011.7L783 1013.5L783.5 1015L784 1016.4L784.5 1017.7" fill="none" stroke="#00b04f" stroke-width="4.9" stroke-linejoin="round"/>
<path d="M810 1035.4L810.5 1035.5L811 1035.6L811.5 1035.6L812 1035.7L812.5 1035.8L813 1035.8L813.5 1035.9L814 1035.9L814.5 1036L815 1036.1L815.5 1036.1L816 1036.2L816.5 1036.2L817 1036.3L817.5 1036.3L818 1036.4L818.5 1036.4L819 1036.4L819.5 1036.5L820 1036.5L820.5 1036.6L821 1036.6L821.5 1036.6L822 1036.7L822.5 1036.7L823 1036.7L823.5 1036.8L824 1036.8L824.5 1036.8L825 1036.9L825.5 1036.9L826 1036.9L826.5 1037L827 1037L827.5 1037L828 1037L828.5 1037.1L829 1037.1L829.5 1037.1L830 1037.1L830.5 1037.2L831 1037.2L831.5 1037.2L832 1037.2L832.5 1037.3L833 1037.3L833.5 1037.3L834 1037.3L834.5 1037.3L835 1037.4L835.5 1037.4L836 1037.4L836.5 1037.4L837 1037.4L837.5 1037.4L838 1037.5L838.5 1037.5L839 1037.5L839.5 1037.5L840 1037.5L840.5 1037.5L841 1037.6L841.5 1037.6L842 1037.6L842.5 1037.6L843 1037.6L843.5 1037.6L844 1037.6L844.5 1037.6L845 1037.7L845.5 1037.7L846 1037.7L846.5 1037.7L847 1037.7L847.5 1037.7L848 1037.7L848.5 1037.7L849 1037.8L849.5 1037.8L850 1037.8L850.5 1037.8L851 1037.8L851.5 1037.8L852 1037.8L852.5 1037.8L853 1037.8L853.5 1037.8L854 1037.8L854.5 1037.9L855 1037.9L855.5 1037.9L856 1037.9L856.5 1037.9L857 1037.9L857.5 1037.9L858 1037.9L858.5 1037.9L859 1037.9L859.5 1037.9L860 1037.9L860.5 1038L861 1038L861.5 1038L862 1038L862.5 1038L863 1038L863.5 1038L864 1038L864.5 1038L865 1038L865.5 1038L866 1038L866.5 1038L867 1038L867.5 1038L868 1038L868.5 1038.1L869 1038.1L869.5 1038.1L870 1038.1L870.5 1038.1L871 1038.1L871.5 1038.1L872 1038.1L872.5 1038.1L873 1038.1L873.5 1038.1L874 1038.1L874.5 1038.1L875 1038.1L875.5 1038.1L876 1038.1L876.5 1038.1L877 1038.1L877.5 1038.1L878 1038.1L878.5 1038.1L879 1038.2L879.5 1038.2L881.5 1038.2L883.5 1038.2L885.5 1038.2L887.5 1038.2L889.5 1038.2L891.5 1038.2L893.5 1038.2L895.5 1038.3L897.5 1038.3L899.5 1038.3L901.5 1038.3L903.5 1038.3L905.5 1038.3L907.5 1038.3L909.5 1038.3L911.5 1038.3L913.5 1038.3L915.5 1038.3L917.5 1038.4L919.5 1038.4L921.5 1038.4L923.5 1038.4L925.5 1038.4L927.5 1038.4L929.5 1038.4L931.5 1038.4L933.5 1038.4L935.5 1038.4L937.5 1038.4L939.5 1038.4L941.5 1038.4L943.5 1038.4L945.5 1038.4L947.5 1038.4L949.5 1038.4L951.5 1038.4L953.5 1038.4L955.5 1038.4L957.5 1038.4L959.5 1038.5L961.5 1038.5L963.5 1038.5L965.5 1038.5L967.5 1038.5L969.5 1038.5L971.5 1038.5L973.5 1038.5L975.5 1038.5L977.5 1038.5L979.5 1038.5L981.5 1038.5L983.5 1038.5L985.5 1038.5L987.5 1038.5L989.5 1038.5L991.5 1038.5L993.5 1038.5L995.5 1038.5L997.5 1038.5L999.5 1038.5L1001.5 1038.5L1003.5 1038.5L1005.5 1038.5L1007.5 1038.5L1009.5 1038.5L1011.5 1038.5L1013.5 1038.5L1015.5 1038.5L1017.5 1038.5L1019.5 1038.5L1021.5 1038.5L1023.5 1038.5L1025.5 1038.5L1027.5 1038.5L1029.5 1038.5L1031.5 1038.5L1033.5 1038.5L1035.5 1038.5L1037.5 1038.5L1039.5 1038.5L1041.5 1038.5L1043.5 1038.5L1045.5 1038.5L1047.5 1038.5L1049.5 1038.5L1051.5 1038.5L1053.5 1038.5L1055.5 1038.5L1057.5 1038.5L1059.5 1038.5L1061.5 1038.5L1063.5 1038.5L1065.5 1038.5L1067.5 1038.5L1069.5 1038.5L1071.5 1038.5L1073.5 1038.5L1075.5 1038.5L1077.5 1038.5L1079.5 1038.5L1081.5 1038.5L1083.5 1038.5L1085.5 1038.5L1087.5 1038.5L1088 1038.5L1088.5 1038.5L1089 1038.5L1089.5 1038.5L1090 1038.5L1090.5 1038.5L1091 1038.5L1091.5 1038.5L1092 1038.5L1092.5 1038.5L1093 1038.5L1093.5 1038.5L1094 1038.5L1094.5 1038.5L1095 1038.5L1095.5 1038.5L1096 1038.5L1096.5 1038.5L1097 1038.5L1097.5 1038.5L1098 1038.5L1098.5 1038.5L1099 1038.6L1099.5 1038.6L1100 1038.6L1100.5 1038.6L1101 1038.6L1101.5 1038.6L1102 1038.6L1102.5 1038.6L1103 1038.6L1103.5 1038.6L1104 1038.6L1104.5 1038.6L1105 1038.6L1105.5 1038.6L1106 1038.6L1106.5 1038.6L1107 1038.6L1107.5 1038.6L1108 1038.6L1108.5 1038.6L1109 1038.6L1109.5 1038.6L1110 1038.6L1110.5 1038.6L1111 1038.6L1111.5 1038.6L1112 1038.6L1112.5 1038.6L1113 1038.6L1113.5 1038.6L1114 1038.6L1114.5 1038.6L1115 1038.6L1115.5 1038.6L1116 1038.6L1116.5 1038.6L1117 1038.6L1117.5 1038.6L1118 1038.6L1118.5 1038.6L1119 1038.6L1119.5 1038.6L1120 1038.6L1120.5 1038.6L1121 1038.6L1121.5 1038.6L1122 1038.6L1122.5 1038.6L1123 1038.6L1123.5 1038.6L1124 1038.6L1124.5 1038.6L1125 1038.6L1125.5 1038.6L1126 1038.6L1126.5 1038.6L1127 1038.6L1127.5 1038.6L1128 1038.6L1128.5 1038.6L1129 1038.6L1129.5 1038.6L1130 1038.6L1130.5 1038.6L1131 1038.6L1131.5 1038.6L1132 1038.6L1132.5 1038.6L1133 1038.6L1133.5 1038.6L1134 1038.6L1134.5 1038.6L1135 1038.6L1135.5 1038.6L1136 1038.6L1136.5 1038.6L1137 1038.6L1137.5 1038.6L1138 1038.6L1138.5 1038.6L1139 1038.6L1139.5 1038.6L1140 1038.6L1140.5 1038.6L1141 1038.6L1141.5 1038.6L1142 1038.6L1142.5 1038.6L1143 1038.6L1143.5 1038.6L1144 1038.6L1144.5 1038.6L1145 1038.6L1145.5 1038.6L1146 1038.6L1146.5 1038.6L1147 1038.6L1147.5 1038.6L1148 1038.6L1148.5 1038.6L1149 1038.6L1149.5 1038.6L1150 1038.6L1150.5 1038.6L1151 1038.6L1151.5 1038.6L1152 1038.6L1152.5 1038.6L1153 1038.6L1153.5 1038.6L1154 1038.6L1154.5 1038.6L1155 1038.6L1155.5 1038.6L1156 1038.6L1156.5 1038.6L1157 1038.6L1157.5 1038.6L1158 1038.6L1158.5 1038.6L1159 1038.6L1159.5 1038.6L1160 1038.6L1160.5 1038.6L1161 1038.6L1161.5 1038.6L1162 1038.6L1162.5 1038.6L1163 1038.6L1163.5 1038.6L1164 1038.6L1164.5 1038.6L1165 1038.6L1165.5 1038.6L1167.5 1038.6L1169.5 1038.6L1171.5 1038.6L1173.5 1038.6L1175.5 1038.6L1177.5 1038.6L1179.5 1038.6L1181.5 1038.6L1183.5 1038.6L1185.5 1038.6L1187.5 1038.6L1189.5 1038.6L1191.5 1038.6L1193.5 1038.6L1195.5 1038.6L1197.5 1038.6L1199.5 1038.6L1201.5 1038.6L1203.5 1038.6L1205.5 1038.6L1207.5 1038.6L1209.5 1038.6L1211.5 1038.6L1213.5 1038.6L1215.5 1038.6L1217.5 1038.6L1219.5 1038.6L1221.5 1038.6L1223.5 1038.6L1225.5 1038.6L1227.5 1038.6L1229.5 1038.6L1231.5 1038.6L1233.5 1038.6L1235.5 1038.6L1237.5 1038.6L1239.5 1038.6L1241.5 1038.6L1243.5 1038.6L1245.5 1038.6L1247.5 1038.6L1249.5 1038.6L1251.5 1038.6L1253.5 1038.6L1255.5 1038.6L1257.5 1038.6L1259.5 1038.6L1261.5 1038.6L1263.5 1038.6L1265.5 1038.6L1267.5 1038.6L1269.5 1038.6L1271.5 1038.6L1273.5 1038.6L1275.5 1038.6L1277.5 1038.6L1279.5 1038.6L1281.5 1038.6L1283.5 1038.6L1285.5 1038.6L1287.5 1038.6L1289.5 1038.6L1291.5 1038.6L1293.5 1038.6L1295.5 1038.6L1297.5 1038.6L1299.5 1038.6L1301.5 1038.6L1303.5 1038.6L1305.5 1038.6L1307.5 1038.6L1309.5 1038.6L1311.5 1038.6L1313.5 1038.6L1315.5 1038.6L1317.5 1038.6L1319.5 1038.6L1321.5 1038.6L1323.5 1038.6L1325.5 1038.6L1327.5 1038.6L1329.5 1038.6L1331.5 1038.6L1333.5 1038.6L1335.5 1038.6L1337.5 1038.6L1339.5 1038.6L1341.5 1038.6L1343.5 1038.6L1345.5 1038.6L1347.5 1038.6L1349.5 1038.6L1351.5 1038.6L1353.5 1038.6L1355.5 1038.6L1357.5 1038.6L1359.5 1038.6L1361.5 1038.6L1363.5 1038.6L1365.5 1038.6L1367.5 1038.6L1369.5 1038.6L1371.5 1038.6L1373.5 1038.6L1375.5 1038.6L1377.5 1038.6L1379.5 1038.6L1381.5 1038.6L1383.5 1038.6L1385.5 1038.6L1387.5 1038.6L1389.5 1038.6L1391.5 1038.6L1393.5 1038.6L1395.5 1038.6L1397.5 1038.6L1399.5 1038.6L1401.5 1038.6L1403.5 1038.6L1405.5 1038.6L1407.5 1038.6L1409.5 1038.6L1411.5 1038.6L1413.5 1038.6L1415.5 1038.6L1417.5 1038.6L1419.5 1038.6L1421.5 1038.6L1423.5 1038.6L1425.5 1038.6L1427.5 1038.6L1429.5 1038.6L1431 1038.6" fill="none" stroke="#00b04f" stroke-width="4.9" stroke-linejoin="round"/>
<path d="M75 1051L77 1051L79 1051L81 1051L83 1051L85 1051L87 1051L89 1051L91 1051L93 1051L95 1051L97 1051L99 1051L101 1051L103 1051L105 1051L107 1051L109 1051L111 1051L113 1051L115 1051L117 1051L119 1051L121 1051L123 1051L125 1051L127 1051L129 1051L131 1051L133 1051L135 1051L137 1051L139 1051L141 1051L143 1051L145 1051L147 1051L149 1051L151 1051L153 1051L155 1051L157 1051L159 1051L161 1051L163 1051L165 1051L167 1051L169 1051L171 1051L173 1051L175 1051L177 1051L179 1051L181 1051L183 1051L185 1051L187 1051L189 1051L191 1051L193 1051L195 1051L197 1051L199 1051L201 1051L203 1051L205 1051L207 1051L207.5 1051L208 1051L208.5 1051L209 1051L209.5 1051L210 1051L210.5 1051L211 1051L211.5 1051L212 1051L212.5 1051L213 1051L213.5 1051L214 1051L214.5 1051L215 1051L215.5 1051L216 1051L216.5 1051L217 1051L217.5 1051L218 1051L218.5 1051L219 1051L219.5 1051L220 1051L220.5 1051L221 1051L221.5 1051L222 1051L222.5 1051L223 1051L223.5 1051L224 1051L224.5 1051L225 1051L225.5 1051L226 1051L226.5 1051L227 1051L227.5 1051L228 1051L228.5 1051L229 1051L229.5 1051L230 1051L230.5 1051L231 1051L231.5 1051L232 1051L232.5 1051L233 1051L233.5 1051L234 1051L234.5 1051L235 1051L235.5 1051L236 1051L236.5 1051L237 1051L237.5 1051L238 1051L238.5 1051L239 1051L239.5 1051L240 1051L240.5 1051L241 1051L241.5 1051L242 1051L242.5 1051L243 1051L243.5 1051L244 1051L244.5 1051L245 1051L245.5 1051L246 1051L246.5 1051L247 1051L247.5 1051L248 1051L248.5 1051L249 1051L249.5 1051L250 1051L250.5 1051L251 1051L251.5 1051L252 1051L252.5 1051L253 1051L253.5 1051L254 1051L254.5 1051L255 1051L255.5 1051L256 1051L256.5 1051L257 1051L257.5 1051L258 1051L258.5 1051L259 1051L259.5 1051L260 1051L260.5 1051L261 1051L261.5 1051L262 1051L262.5 1051L263 1051L263.5 1051L264 1051L264.5 1051L265 1051L265.5 1051L266 1051L266.5 1051L267 1051L267.5 1051L268 1051L268.5 1051L269 1051L269.5 1051L270 1051L270.5 1051L271 1051L271.5 1051L272 1051L272.5 1051L273 1051L273.5 1051L274 1051L274.5 1051L275 1051L275.5 1051L276 1051L276.5 1051L277 1051L277.5 1051L278 1051L278.5 1051L279 1051L279.5 1051L280 1051L280.5 1051L281 1051L281.5 1051L282 1051L282.5 1051L283 1051L283.5 1051L284 1051L284.5 1051L285 1051L285.5 1051L286 1051L286.5 1051L288.5 1051L290.5 1051L292.5 1051L294.5 1051L296.5 1051L298.5 1051L300.5 1051L302.5 1051L304.5 1051L306.5 1051L308.5 1051L310.5 1051L312.5 1051L314.5 1051L316.5 1051L318.5 1051L320.5 1051L322.5 1051L324.5 1051L326.5 1051L328.5 1051L330.5 1051L332.5 1051L334.5 1051L336.5 1051L338.5 1051L340.5 1051L342.5 1051L344.5 1051L346.5 1051L348.5 1051L350.5 1051L352.5 1051L354.5 1051L356.5 1051L358.5 1051L360.5 1051L362.5 1051L364.5 1051L366.5 1051L368.5 1051L370.5 1051L372.5 1051L374.5 1051L376.5 1051L378.5 1051L379 1051L379.5 1051L380 1051L380.5 1051L381 1051L381.5 1051L382 1051L382.5 1051L383 1051L383.5 1051L384 1051L384.5 1051L385 1051L385.5 1051L386 1051L386.5 1051L387 1051L387.5 1051L388 1051L388.5 1051L389 1051L389.5 1051L390 1051L390.5 1051L391 1051L391.5 1051L392 1051L392.5 1051L393 1051L393.5 1051L394 1051L394.5 1051L395 1051L395.5 1051L396 1051L396.5 1051L397 1051L397.5 1051L398 1051L398.5 1051L399 1051L399.5 1051L400 1051L400.5 1051L401 1051L401.5 1051L402 1051L402.5 1051L403 1051L403.5 1051L404 1051L404.5 1051L405 1051L405.5 1051L406 1051L406.5 1051L407 1051L407.5 1051L408 1051L408.5 1051L409 1051L409.5 1051L410 1051L410.5 1051L411 1051L411.5 1051L412 1051L412.5 1051L413 1051L413.5 1051L414 1051L414.5 1051L415 1051L415.5 1051L416 1051L416.5 1051L417 1051L417.5 1051L418 1051L418.5 1051L419 1051L419.5 1051L420 1051L420.5 1051L421 1051L421.5 1051L422 1051L422.5 1051L423 1051L423.5 1051L424 1051L424.5 1051L425 1051L425.5 1051L426 1051L426.5 1051L427 1051L427.5 1051L428 1051L428.5 1051L429 1051L429.5 1051L430 1051L430.5 1051L431 1051L431.5 1051L432 1051L432.5 1051L433 1051L433.5 1051L434 1051L434.5 1051L435 1051L435.5 1051L436 1051L436.5 1051L437 1051L437.5 1051L438 1051L438.5 1051L439 1051L439.5 1051L440 1051L440.5 1051L441 1051L441.5 1051L442 1051L442.5 1051L443 1051L443.5 1051L444 1051L444.5 1051L445 1051L445.5 1051L446 1051L446.5 1051L447 1051L447.5 1051L448 1051L448.5 1051L449 1051L449.5 1051L450 1051L450.5 1051L451 1051L451.5 1051L452 1051L452.5 1051L453 1051L453.5 1051L454 1051L454.5 1051L455 1051L455.5 1051L456 1051L456.5 1051L457 1051L457.5 1051L458 1051L458.5 1051L460.5 1051L462.5 1051L464.5 1051L466.5 1051L468.5 1051L470.5 1051L472.5 1051L474.5 1051L476.5 1051L478.5 1051L480.5 1051L482.5 1051L484.5 1051L486.5 1051L488.5 1051L490.5 1051L492.5 1051L494.5 1051L496.5 1051L498.5 1051L500.5 1051L502.5 1051L504.5 1051L506.5 1051L508.5 1051L510.5 1051L512.5 1051L514.5 1050.9L516.5 1050.9L518.5 1050.9L520.5 1050.9L522.5 1050.9L524.5 1050.9L526.5 1050.9L528.5 1050.9L530.5 1050.9L532.5 1050.9L534.5 1050.9L536.5 1050.9L538.5 1050.9L540.5 1050.9L542.5 1050.9L544.5 1050.9L546.5 1050.9L548.5 1050.9L550.5 1050.9L551 1050.9L551.5 1050.9L552 1050.9L552.5 1050.9L553 1050.9L553.5 1050.9L554 1050.9L554.5 1050.9L555 1050.9L555.5 1050.9L556 1050.9L556.5 1050.9L557 1050.9L557.5 1050.9L558 1050.9L558.5 1050.9L559 1050.9L559.5 1050.9L560 1050.9L560.5 1050.9L561 1050.9L561.5 1050.9L562 1050.9L562.5 1050.9L563 1050.9L563.5 1050.9L564 1050.9L564.5 1050.9L565 1050.9L565.5 1050.9L566 1050.9L566.5 1050.9L567 1050.9L567.5 1050.9L568 1050.9L568.5 1050.9L569 1050.9L569.5 1050.9L570 1050.9L570.5 1050.9L571 1050.9L571.5 1050.9L572 1050.9L572.5 1050.9L573 1050.9L573.5 1050.9L574 1050.9L574.5 1050.9L575 1050.9L575.5 1050.9L576 1050.9L576.5 1050.9L577 1050.9L577.5 1050.9L578 1050.9L578.5 1050.9L579 1050.9L579.5 1050.9L580 1050.9L580.5 1050.9L581 1050.9L581.5 1050.9L582 1050.9L582.5 1050.9L583 1050.9L583.5 1050.9L584 1050.9L584.5 1050.9L585 1050.9L585.5 1050.9L586 1050.9L586.5 1050.9L587 1050.9L587.5 1050.9L588 1050.9L588.5 1050.9L589 1050.9L589.5 1050.9L590 1050.9L590.5 1050.9L591 1050.9L591.5 1050.9L592 1050.9L592.5 1050.9L593 1050.9L593.5 1050.9L594 1050.9L594.5 1050.9L595 1050.9L595.5 1050.9L596 1050.9L596.5 1050.9L597 1050.9L597.5 1050.9L598 1050.9L598.5 1050.9L599 1050.9L599.5 1050.9L600 1050.9L600.5 1050.9L601 1050.9L601.5 1050.9L602 1050.9L602.5 1050.9L603 1050.9L603.5 1050.9L604 1050.9L604.5 1050.9L605 1050.9L605.5 1050.9L606 1050.9L606.5 1050.9L607 1050.9L607.5 1050.9L608 1050.9L608.5 1050.9L609 1050.9L609.5 1050.9L610 1050.9L610.5 1050.9L611 1050.9L611.5 1050.9L612 1050.9L612.5 1050.9L613 1050.9L613.5 1050.9L614 1050.9L614.5 1050.9L615 1050.9L615.5 1050.9L616 1050.8L616.5 1050.8L617 1050.8L617.5 1050.8L618 1050.8L618.5 1050.8L619 1050.8L619.5 1050.8L620 1050.8L620.5 1050.8L621 1050.8L621.5 1050.8L622 1050.8L622.5 1050.8L623 1050.8L623.5 1050.8L624 1050.8L624.5 1050.8L625 1050.8L625.5 1050.8L626 1050.8L626.5 1050.8L627 1050.8L627.5 1050.8L628 1050.8L628.5 1050.8L629 1050.8L629.5 1050.8L631.5 1050.8L633.5 1050.8L635.5 1050.8L637.5 1050.8L639.5 1050.8L641.5 1050.8L643.5 1050.8L645.5 1050.8L647.5 1050.7L649.5 1050.7L651.5 1050.7L653.5 1050.7L655.5 1050.7L657.5 1050.7L659.5 1050.7L661.5 1050.7L663.5 1050.7L665.5 1050.6L667.5 1050.6L669.5 1050.6L671.5 1050.6L673.5 1050.6L675.5 1050.5L677.5 1050.5L679.5 1050.5L681.5 1050.5L683.5 1050.4L685.5 1050.4L687.5 1050.4L689.5 1050.3L691.5 1050.3L693.5 1050.2L695.5 1050.2L697.5 1050.1L699.5 1050.1L701.5 1050L703.5 1049.9L705.5 1049.8L707.5 1049.7L709.5 1049.6L711.5 1049.5L713.5 1049.3L715.5 1049.1L716 1049.1L716.5 1049.1L717 1049L717.5 1048.9L718 1048.9L718.5 1048.8L719 1048.8L719.5 1048.7L720 1048.6L720.5 1048.6L721 1048.5L721.5 1048.4L722 1048.4L722.5 1048.3L723 1048.2L723.5 1048.1L724 1048L724.5 1047.9L725 1047.8L725.5 1047.7L726 1047.6L726.5 1047.5L727 1047.3L727.5 1047.2L728 1047.1L728.5 1046.9L729 1046.8L729.5 1046.6L730 1046.4L730.5 1046.3L731 1046.1L731.5 1045.9L732 1045.6L732.5 1045.4L733 1045.2L733.5 1044.9L734 1044.6L734.5 1044.3L735 1044L735.5 1043.6L736 1043.3L736.5 1042.8L737 1042.4L737.5 1041.9L738 1041.4L738.5 1040.9L739 1040.3L739.5 1039.6L740 1038.9L740.5 1038.1L741 1037.3L741.5 1036.3L742 1035.3L742.5 1034.1L743 1032.8L743.5 1031.4L744 1029.8L744.5 1028.1L745 1026.1L745.5 1023.9L746 1021.4L746.5 1018.5L747 1015.3L747.5 1011.6L748 1007.4L748.5 1002.7L749 997.3L749.5 991.1L750 984.1L750.5 976.3L751 967.5L751.5 958L752 947.9L752.5 937.6L753 927.7L753.5 919L754 912.4L754.5 908.6L755 908.3L755.5 911.4L756 917.5L756.5 925.9L757 935.6L757.5 945.9L758 956L758.5 965.7L759 974.6L759.5 982.6L760 989.8L760.5 996.1L761 1001.7L761.5 1006.5L762 1010.8L762.5 1014.6L763 1017.9L763.5 1020.8L764 1023.4L764.5 1025.7L765 1027.7L765.5 1029.5L766 1031.1L766.5 1032.6L767 1033.9L767.5 1035L768 1036.1L768.5 1037.1L769 1037.9L769.5 1038.7L770 1039.5L770.5 1040.1L771 1040.8L771.5 1041.3L772 1041.8L772.5 1042.3L773 1042.8L773.5 1043.2L774 1043.6L774.5 1043.9L775 1044.2L775.5 1044.5L776 1044.8L776.5 1045.1L777 1045.4L777.5 1045.6L778 1045.8L778.5 1046L779 1046.2L779.5 1046.4L780 1046.6L780.5 1046.7L781 1046.9L781.5 1047.1L782 1047.2L782.5 1047.3L783 1047.4L783.5 1047.6L784 1047.7L784.5 1047.8L785 1047.9L785.5 1048L786 1048.1L786.5 1048.2L787 1048.3L787.5 1048.3L788 1048.4L788.5 1048.5L789 1048.6L789.5 1048.6L790 1048.7L790.5 1048.8L791 1048.8L791.5 1048.9L792 1048.9L792.5 1049L793 1049L793.5 1049.1L794 1049.1L794.5 1049.2L795 1049.2L795.5 1049.3L796 1049.3L796.5 1049.4L797 1049.4L797.5 1049.4L798 1049.5L798.5 1049.5L799 1049.5L799.5 1049.6L800 1049.6L800.5 1049.6L801 1049.7L801.5 1049.7L802 1049.7L802.5 1049.7L803 1049.8L803.5 1049.8L804 1049.8L804.5 1049.8L805 1049.9L805.5 1049.9L806 1049.9L806.5 1049.9L807 1049.9L807.5 1050L808 1050L808.5 1050L809 1050L809.5 1050L810 1050.1L810.5 1050.1L811 1050.1L811.5 1050.1L812 1050.1L812.5 1050.1L813 1050.2L813.5 1050.2L814 1050.2L814.5 1050.2L815 1050.2L815.5 1050.2L816 1050.2L816.5 1050.2L817 1050.3L817.5 1050.3L818 1050.3L818.5 1050.3L819 1050.3L819.5 1050.3L820 1050.3L820.5 1050.3L821 1050.3L821.5 1050.4L822 1050.4L822.5 1050.4L823 1050.4L823.5 1050.4L824 1050.4L824.5 1050.4L825 1050.4L825.5 1050.4L826 1050.4L826.5 1050.4L827 1050.4L827.5 1050.5L828 1050.5L828.5 1050.5L829 1050.5L829.5 1050.5L830 1050.5L830.5 1050.5L831 1050.5L831.5 1050.5L832 1050.5L832.5 1050.5L833 1050.5L833.5 1050.5L834 1050.5L834.5 1050.5L835 1050.6L835.5 1050.6L836 1050.6L836.5 1050.6L837 1050.6L837.5 1050.6L838 1050.6L838.5 1050.6L839 1050.6L839.5 1050.6L840 1050.6L840.5 1050.6L841 1050.6L841.5 1050.6L842 1050.6L842.5 1050.6L843 1050.6L843.5 1050.6L844 1050.6L844.5 1050.6L845 1050.6L845.5 1050.6L846 1050.7L846.5 1050.7L847 1050.7L847.5 1050.7L848 1050.7L848.5 1050.7L849 1050.7L849.5 1050.7L850 1050.7L850.5 1050.7L851 1050.7L851.5 1050.7L852 1050.7L852.5 1050.7L853 1050.7L853.5 1050.7L854 1050.7L854.5 1050.7L855 1050.7L855.5 1050.7L856 1050.7L856.5 1050.7L857 1050.7L857.5 1050.7L858 1050.7L858.5 1050.7L859 1050.7L859.5 1050.7L860 1050.7L860.5 1050.7L861 1050.7L861.5 1050.7L862 1050.7L862.5 1050.8L863 1050.8L863.5 1050.8L864 1050.8L864.5 1050.8L865 1050.8L865.5 1050.8L866 1050.8L866.5 1050.8L867 1050.8L867.5 1050.8L868 1050.8L868.5 1050.8L869 1050.8L869.5 1050.8L870 1050.8L870.5 1050.8L871 1050.8L871.5 1050.8L872 1050.8L872.5 1050.8L873 1050.8L873.5 1050.8L874 1050.8L874.5 1050.8L875 1050.8L875.5 1050.8L876 1050.8L876.5 1050.8L877 1050.8L877.5 1050.8L878 1050.8L878.5 1050.8L879 1050.8L879.5 1050.8L881.5 1050.8L883.5 1050.8L885.5 1050.8L887.5 1050.8L889.5 1050.8L891.5 1050.8L893.5 1050.8L895.5 1050.9L897.5 1050.9L899.5 1050.9L901.5 1050.9L903.5 1050.9L905.5 1050.9L907.5 1050.9L909.5 1050.9L911.5 1050.9L913.5 1050.9L915.5 1050.9L917.5 1050.9L919.5 1050.9L921.5 1050.9L923.5 1050.9L925.5 1050.9L927.5 1050.9L929.5 1050.9L931.5 1050.9L933.5 1050.9L935.5 1050.9L937.5 1050.9L939.5 1050.9L941.5 1050.9L943.5 1050.9L945.5 1050.9L947.5 1050.9L949.5 1050.9L951.5 1050.9L953.5 1050.9L955.5 1050.9L957.5 1050.9L959.5 1050.9L961.5 1050.9L963.5 1050.9L965.5 1050.9L967.5 1050.9L969.5 1050.9L971.5 1050.9L973.5 1050.9L975.5 1050.9L977.5 1050.9L979.5 1050.9L981.5 1050.9L983.5 1050.9L985.5 1050.9L987.5 1050.9L989.5 1050.9L991.5 1050.9L993.5 1050.9L995.5 1051L997.5 1051L999.5 1051L1001.5 1051L1003.5 1051L1005.5 1051L1007.5 1051L1009.5 1051L1011.5 1051L1013.5 1051L1015.5 1051L1017.5 1051L1019.5 1051L1021.5 1051L1023.5 1051L1025.5 1051L1027.5 1051L1029.5 1051L1031.5 1051L1033.5 1051L1035.5 1051L1037.5 1051L1039.5 1051L1041.5 1051L1043.5 1051L1045.5 1051L1047.5 1051L1049.5 1051L1051.5 1051L1053.5 1051L1055.5 1051L1057.5 1051L1059.5 1051L1061.5 1051L1063.5 1051L1065.5 1051L1067.5 1051L1069.5 1051L1071.5 1051L1073.5 1051L1075.5 1051L1077.5 1051L1079.5 1051L1081.5 1051L1083.5 1051L1085.5 1051L1087.5 1051L1088 1051L1088.5 1051L1089 1051L1089.5 1051L1090 1051L1090.5 1051L1091 1051L1091.5 1051L1092 1051L1092.5 1051L1093 1051L1093.5 1051L1094 1051L1094.5 1051L1095 1051L1095.5 1051L1096 1051L1096.5 1051L1097 1051L1097.5 1051L1098 1051L1098.5 1051L1099 1051L1099.5 1051L1100 1051L1100.5 1051L1101 1051L1101.5 1051L1102 1051L1102.5 1051L1103 1051L1103.5 1051L1104 1051L1104.5 1051L1105 1051L1105.5 1051L1106 1051L1106.5 1051L1107 1051L1107.5 1051L1108 1051L1108.5 1051L1109 1051L1109.5 1051L1110 1051L1110.5 1051L1111 1051L1111.5 1051L1112 1051L1112.5 1051L1113 1051L1113.5 1051L1114 1051L1114.5 1051L1115 1051L1115.5 1051L1116 1051L1116.5 1051L1117 1051L1117.5 1051L1118 1051L1118.5 1051L1119 1051L1119.5 1051L1120 1051L1120.5 1051L1121 1051L1121.5 1051L1122 1051L1122.5 1051L1123 1051L1123.5 1051L1124 1051L1124.5 1051L1125 1051L1125.5 1051L1126 1051L1126.5 1051L1127 1051L1127.5 1051L1128 1051L1128.5 1051L1129 1051L1129.5 1051L1130 1051L1130.5 1051L1131 1051L1131.5 1051L1132 1051L1132.5 1051L1133 1051L1133.5 1051L1134 1051L1134.5 1051L1135 1051L1135.5 1051L1136 1051L1136.5 1051L1137 1051L1137.5 1051L1138 1051L1138.5 1051L1139 1051L1139.5 1051L1140 1051L1140.5 1051L1141 1051L1141.5 1051L1142 1051L1142.5 1051L1143 1051L1143.5 1051L1144 1051L1144.5 1051L1145 1051L1145.5 1051L1146 1051L1146.5 1051L1147 1051L1147.5 1051L1148 1051L1148.5 1051L1149 1051L1149.5 1051L1150 1051L1150.5 1051L1151 1051L1151.5 1051L1152 1051L1152.5 1051L1153 1051L1153.5 1051L1154 1051L1154.5 1051L1155 1051L1155.5 1051L1156 1051L1156.5 1051L1157 1051L1157.5 1051L1158 1051L1158.5 1051L1159 1051L1159.5 1051L1160 1051L1160.5 1051L1161 1051L1161.5 1051L1162 1051L1162.5 1051L1163 1051L1163.5 1051L1164 1051L1164.5 1051L1165 1051L1165.5 1051L1167.5 1051L1169.5 1051L1171.5 1051L1173.5 1051L1175.5 1051L1177.5 1051L1179.5 1051L1181.5 1051L1183.5 1051L1185.5 1051L1187.5 1051L1189.5 1051L1191.5 1051L1193.5 1051L1195.5 1051L1197.5 1051L1199.5 1051L1201.5 1051L1203.5 1051L1205.5 1051L1207.5 1051L1209.5 1051L1211.5 1051L1213.5 1051L1215.5 1051L1217.5 1051L1219.5 1051L1221.5 1051L1223.5 1051L1225.5 1051L1227.5 1051L1229.5 1051L1231.5 1051L1233.5 1051L1235.5 1051L1237.5 1051L1239.5 1051L1241.5 1051L1243.5 1051L1245.5 1051L1247.5 1051L1249.5 1051L1251.5 1051L1253.5 1051L1255.5 1051L1257.5 1051L1259.5 1051L1261.5 1051L1263.5 1051L1265.5 1051L1267.5 1051L1269.5 1051L1271.5 1051L1273.5 1051L1275.5 1051L1277.5 1051L1279.5 1051L1281.5 1051L1283.5 1051L1285.5 1051L1287.5 1051L1289.5 1051L1291.5 1051L1293.5 1051L1295.5 1051L1297.5 1051L1299.5 1051L1301.5 1051L1303.5 1051L1305.5 1051L1307.5 1051L1309.5 1051L1311.5 1051L1313.5 1051L1315.5 1051L1317.5 1051L1319.5 1051L1321.5 1051L1323.5 1051L1325.5 1051L1327.5 1051L1329.5 1051L1331.5 1051L1333.5 1051L1335.5 1051L1337.5 1051L1339.5 1051L1341.5 1051L1343.5 1051L1345.5 1051L1347.5 1051L1349.5 1051L1351.5 1051L1353.5 1051L1355.5 1051L1357.5 1051L1359.5 1051L1361.5 1051L1363.5 1051L1365.5 1051L1367.5 1051L1369.5 1051L1371.5 1051L1373.5 1051L1375.5 1051L1377.5 1051L1379.5 1051L1381.5 1051L1383.5 1051L1385.5 1051L1387.5 1051L1389.5 1051L1391.5 1051L1393.5 1051L1395.5 1051L1397.5 1051L1399.5 1051L1401.5 1051L1403.5 1051L1405.5 1051L1407.5 1051L1409.5 1051L1411.5 1051L1413.5 1051L1415.5 1051L1417.5 1051L1419.5 1051L1421.5 1051L1423.5 1051L1425.5 1051L1427.5 1051L1429.5 1051L1431 1051" fill="none" stroke="#ff9a3c" stroke-width="4.4" stroke-linejoin="round"/>
<text transform="translate(739.11 758.90) scale(0.9321 1)" font-family="'Liberation Sans', Arial, sans-serif" font-size="37.5" fill="#000"><tspan fill="#00b04f">HH</tspan><tspan fill="#ff9a3c">H</tspan></text>
<rect x="739" y="763" width="52" height="3" fill="#00b04f"/>
<text transform="translate(681.10 889.60) scale(0.9348 1)" font-family="'Liberation Sans', Arial, sans-serif" font-size="37.5" fill="#000"><tspan fill="#00b04f">HH</tspan><tspan fill="#ff9a3c">H</tspan></text>
<rect x="731" y="894.5" width="27" height="3.3" fill="#ff9a3c"/>
<path d="M75 1427.5L77 1427.5L79 1427.5L81 1427.5L83 1427.5L85 1427.5L87 1427.5L89 1427.5L91 1427.5L93 1427.5L95 1427.5L97 1427.5L99 1427.5L101 1427.5L103 1427.5L105 1427.5L107 1427.5L109 1427.5L111 1427.5L113 1427.5L115 1427.5L117 1427.5L119 1427.5L121 1427.5L123 1427.5L125 1427.5L127 1427.5L129 1427.5L131 1427.5L133 1427.5L135 1427.5L137 1427.5L139 1427.5L141 1427.5L143 1427.5L145 1427.5L147 1427.5L149 1427.5L151 1427.5L153 1427.5L155 1427.5L157 1427.5L159 1427.5L161 1427.5L163 1427.5L165 1427.5L167 1427.5L169 1427.5L171 1427.5L173 1427.5L175 1427.5L177 1427.5L179 1427.5L181 1427.5L183 1427.5L185 1427.5L187 1427.5L189 1427.5L191 1427.5L193 1427.5L195 1427.5L197 1427.5L199 1427.5L201 1427.5L203 1427.5L205 1427.5L207 1427.5L207.5 1427.5L208 1427.5L208.5 1427.5L209 1427.5L209.5 1427.5L210 1427.5L210.5 1427.5L211 1427.5L211.5 1427.5L212 1427.5L212.5 1427.5L213 1427.5L213.5 1427.5L214 1427.5L214.5 1427.5L215 1427.5L215.5 1427.5L216 1427.5L216.5 1427.5L217 1427.5L217.5 1427.5L218 1427.5L218.5 1427.5L219 1427.5L219.5 1427.5L220 1427.5L220.5 1427.5L221 1427.5L221.5 1427.5L222 1427.5L222.5 1427.5L223 1427.5L223.5 1427.5L224 1427.5L224.5 1427.5L225 1427.5L225.5 1427.5L226 1427.5L226.5 1427.5L227 1427.5L227.5 1427.5L228 1427.5L228.5 1427.5L229 1427.5L229.5 1427.5L230 1427.5L230.5 1427.5L231 1427.5L231.5 1427.5L232 1427.5L232.5 1427.5L233 1427.5L233.5 1427.5L234 1427.5L234.5 1427.5L235 1427.5L235.5 1427.5L236 1427.5L236.5 1427.5L237 1427.5L237.5 1427.5L238 1427.5L238.5 1427.5L239 1427.5L239.5 1427.5L240 1427.5L240.5 1427.4L241 1427.4L241.5 1427.4L242 1427.4L242.5 1427.4L243 1427.4L243.5 1427.4L244 1427.4L244.5 1427.4L245 1427.4L245.5 1427.4L246 1427.4L246.5 1427.4L247 1427.4L247.5 1427.4L248 1427.4L248.5 1427.4L249 1427.4L249.5 1427.4L250 1427.4L250.5 1427.4L251 1427.4L251.5 1427.4L252 1427.4L252.5 1427.4L253 1427.4L253.5 1427.4L254 1427.4L254.5 1427.4L255 1427.4L255.5 1427.4L256 1427.4L256.5 1427.4L257 1427.4L257.5 1427.4L258 1427.4L258.5 1427.4L259 1427.4L259.5 1427.4L260 1427.4L260.5 1427.4L261 1427.4L261.5 1427.4L262 1427.4L262.5 1427.4L263 1427.4L263.5 1427.4L264 1427.4L264.5 1427.4L265 1427.4L265.5 1427.4L266 1427.4L266.5 1427.4L267 1427.4L267.5 1427.4L268 1427.4L268.5 1427.4L269 1427.4L269.5 1427.4L270 1427.4L270.5 1427.4L271 1427.4L271.5 1427.4L272 1427.4L272.5 1427.4L273 1427.4L273.5 1427.4L274 1427.4L274.5 1427.4L275 1427.4L275.5 1427.4L276 1427.4L276.5 1427.4L277 1427.4L277.5 1427.4L278 1427.4L278.5 1427.4L279 1427.4L279.5 1427.4L280 1427.4L280.5 1427.4L281 1427.4L281.5 1427.4L282 1427.4L282.5 1427.4L283 1427.4L283.5 1427.4L284 1427.4L284.5 1427.4L285 1427.4L285.5 1427.4L286 1427.4L286.5 1427.4L288.5 1427.4L290.5 1427.4L292.5 1427.4L294.5 1427.4L296.5 1427.4L298.5 1427.4L300.5 1427.4L302.5 1427.4L304.5 1427.4L306.5 1427.4L308.5 1427.4L310.5 1427.4L312.5 1427.4L314.5 1427.4L316.5 1427.3L318.5 1427.3L320.5 1427.3L322.5 1427.3L324.5 1427.3L326.5 1427.3L328.5 1427.3L330.5 1427.3L332.5 1427.3L334.5 1427.3L336.5 1427.3L338.5 1427.3L340.5 1427.2L342.5 1427.2L344.5 1427.2L346.5 1427.2L348.5 1427.2L350.5 1427.2L352.5 1427.1L354.5 1427.1L356.5 1427.1L358.5 1427.1L360.5 1427L362.5 1427L364.5 1427L366.5 1426.9L368.5 1426.9L370.5 1426.8L372.5 1426.7L374.5 1426.7L376.5 1426.6L378.5 1426.5L379 1426.5L379.5 1426.4L380 1426.4L380.5 1426.4L381 1426.4L381.5 1426.3L382 1426.3L382.5 1426.3L383 1426.2L383.5 1426.2L384 1426.2L384.5 1426.1L385 1426.1L385.5 1426L386 1426L386.5 1425.9L387 1425.9L387.5 1425.8L388 1425.8L388.5 1425.7L389 1425.7L389.5 1425.6L390 1425.5L390.5 1425.5L391 1425.4L391.5 1425.3L392 1425.2L392.5 1425.1L393 1425L393.5 1425L394 1424.8L394.5 1424.7L395 1424.6L395.5 1424.5L396 1424.4L396.5 1424.2L397 1424.1L397.5 1423.9L398 1423.7L398.5 1423.5L399 1423.3L399.5 1423.1L400 1422.9L400.5 1422.6L401 1422.4L401.5 1422.1L402 1421.7L402.5 1421.4L403 1421L403.5 1420.6L404 1420.1L404.5 1419.6L405 1419L405.5 1418.4L406 1417.7L406.5 1416.9L407 1416L407.5 1415L408 1413.9L408.5 1412.7L409 1411.2L409.5 1409.6L410 1407.7L410.5 1405.5L411 1403L411.5 1400.1L412 1396.6L412.5 1392.6L413 1387.8L413.5 1382.2L414 1375.6L414.5 1367.9L415 1359.1L415.5 1349.1L416 1338.3L416.5 1327.3L417 1317.2L417.5 1309.5L418 1305.4L418.5 1305.8L419 1310.8L419.5 1319.1L420 1329.5L420.5 1340.5L421 1351.2L421.5 1360.9L422 1369.6L422.5 1377L423 1383.4L423.5 1388.8L424 1393.4L424.5 1397.3L425 1400.7L425.5 1403.5L426 1406L426.5 1408.1L427 1409.9L427.5 1411.5L428 1412.9L428.5 1414.2L429 1415.2L429.5 1416.2L430 1417.1L430.5 1417.8L431 1418.5L431.5 1419.1L432 1419.7L432.5 1420.2L433 1420.7L433.5 1421.1L434 1421.5L434.5 1421.8L435 1422.1L435.5 1422.4L436 1422.7L436.5 1422.9L437 1423.2L437.5 1423.4L438 1423.6L438.5 1423.8L439 1423.9L439.5 1424.1L440 1424.2L440.5 1424.4L441 1424.5L441.5 1424.6L442 1424.8L442.5 1424.9L443 1425L443.5 1425.1L444 1425.2L444.5 1425.2L445 1425.3L445.5 1425.4L446 1425.5L446.5 1425.5L447 1425.6L447.5 1425.7L448 1425.7L448.5 1425.8L449 1425.8L449.5 1425.9L450 1425.9L450.5 1426L451 1426L451.5 1426.1L452 1426.1L452.5 1426.2L453 1426.2L453.5 1426.2L454 1426.3L454.5 1426.3L455 1426.3L455.5 1426.4L456 1426.4L456.5 1426.4L457 1426.5L457.5 1426.5L458 1426.5L458.5 1426.5L460.5 1426.6L462.5 1426.7L464.5 1426.8L466.5 1426.8L468.5 1426.9L470.5 1426.9L472.5 1427L474.5 1427L476.5 1427L478.5 1427.1L480.5 1427.1L482.5 1427.1L484.5 1427.1L486.5 1427.2L488.5 1427.2L490.5 1427.2L492.5 1427.2L494.5 1427.2L496.5 1427.2L498.5 1427.3L500.5 1427.3L502.5 1427.3L504.5 1427.3L506.5 1427.3L508.5 1427.3L510.5 1427.3L512.5 1427.3L514.5 1427.3L516.5 1427.3L518.5 1427.3L520.5 1427.3L522.5 1427.4L524.5 1427.4L526.5 1427.4L528.5 1427.4L530.5 1427.4L532.5 1427.4L534.5 1427.4L536.5 1427.4L538.5 1427.4L540.5 1427.4L542.5 1427.4L544.5 1427.4L546.5 1427.4L548.5 1427.4L550.5 1427.4L551 1427.4L551.5 1427.4L552 1427.4L552.5 1427.4L553 1427.4L553.5 1427.4L554 1427.4L554.5 1427.4L555 1427.4L555.5 1427.4L556 1427.4L556.5 1427.4L557 1427.4L557.5 1427.4L558 1427.4L558.5 1427.4L559 1427.4L559.5 1427.4L560 1427.4L560.5 1427.4L561 1427.4L561.5 1427.4L562 1427.4L562.5 1427.4L563 1427.4L563.5 1427.4L564 1427.4L564.5 1427.4L565 1427.4L565.5 1427.4L566 1427.4L566.5 1427.4L567 1427.4L567.5 1427.4L568 1427.4L568.5 1427.4L569 1427.4L569.5 1427.4L570 1427.4L570.5 1427.4L571 1427.4L571.5 1427.4L572 1427.4L572.5 1427.4L573 1427.4L573.5 1427.4L574 1427.4L574.5 1427.4L575 1427.4L575.5 1427.4L576 1427.4L576.5 1427.4L577 1427.4L577.5 1427.4L578 1427.4L578.5 1427.4L579 1427.4L579.5 1427.4L580 1427.4L580.5 1427.4L581 1427.4L581.5 1427.4L582 1427.4L582.5 1427.4L583 1427.4L583.5 1427.4L584 1427.4L584.5 1427.4L585 1427.4L585.5 1427.4L586 1427.4L586.5 1427.4L587 1427.4L587.5 1427.4L588 1427.4L588.5 1427.4L589 1427.4L589.5 1427.4L590 1427.4L590.5 1427.4L591 1427.4L591.5 1427.4L592 1427.4L592.5 1427.4L593 1427.4L593.5 1427.4L594 1427.4L594.5 1427.4L595 1427.4L595.5 1427.4L596 1427.4L596.5 1427.5L597 1427.5L597.5 1427.5L598 1427.5L598.5 1427.5L599 1427.5L599.5 1427.5L600 1427.5L600.5 1427.5L601 1427.5L601.5 1427.5L602 1427.5L602.5 1427.5L603 1427.5L603.5 1427.5L604 1427.5L604.5 1427.5L605 1427.5L605.5 1427.5L606 1427.5L606.5 1427.5L607 1427.5L607.5 1427.5L608 1427.5L608.5 1427.5L609 1427.5L609.5 1427.5L610 1427.5L610.5 1427.5L611 1427.5L611.5 1427.5L612 1427.5L612.5 1427.5L613 1427.5L613.5 1427.5L614 1427.5L614.5 1427.5L615 1427.5L615.5 1427.5L616 1427.5L616.5 1427.5L617 1427.5L617.5 1427.5L618 1427.5L618.5 1427.5L619 1427.5L619.5 1427.5L620 1427.5L620.5 1427.5L621 1427.5L621.5 1427.5L622 1427.5L622.5 1427.5L623 1427.5L623.5 1427.5L624 1427.5L624.5 1427.5L625 1427.5L625.5 1427.5L626 1427.5L626.5 1427.5L627 1427.5L627.5 1427.5L628 1427.5L628.5 1427.5L629 1427.5L629.5 1427.5L631.5 1427.5L633.5 1427.5L635.5 1427.5L637.5 1427.5L639.5 1427.5L641.5 1427.5L643.5 1427.5L645.5 1427.5L647.5 1427.5L649.5 1427.5L651.5 1427.5L653.5 1427.5L655.5 1427.5L657.5 1427.5L659.5 1427.5L661.5 1427.5L663.5 1427.5L665.5 1427.5L667.5 1427.5L669.5 1427.5L671.5 1427.5L673.5 1427.5L675.5 1427.5L677.5 1427.5L679.5 1427.5L681.5 1427.5L683.5 1427.5L685.5 1427.5L687.5 1427.5L689.5 1427.5L691.5 1427.5L693.5 1427.5L695.5 1427.5L697.5 1427.5L699.5 1427.5L701.5 1427.5L703.5 1427.5L705.5 1427.5L707.5 1427.5L709.5 1427.5L711.5 1427.5L713.5 1427.5L715.5 1427.5L716 1427.5L716.5 1427.5L717 1427.5L717.5 1427.5L718 1427.5L718.5 1427.5L719 1427.5L719.5 1427.5L720 1427.5L720.5 1427.5L721 1427.5L721.5 1427.5L722 1427.5L722.5 1427.5L723 1427.5L723.5 1427.5L724 1427.5L724.5 1427.5L725 1427.5L725.5 1427.5L726 1427.5L726.5 1427.5L727 1427.5L727.5 1427.5L728 1427.5L728.5 1427.5L729 1427.5L729.5 1427.5L730 1427.5L730.5 1427.5L731 1427.5L731.5 1427.5L732 1427.5L732.5 1427.5L733 1427.5L733.5 1427.5L734 1427.5L734.5 1427.5L735 1427.5L735.5 1427.5L736 1427.5L736.5 1427.5L737 1427.5L737.5 1427.5L738 1427.5L738.5 1427.5L739 1427.5L739.5 1427.5L740 1427.5L740.5 1427.5L741 1427.5L741.5 1427.5L742 1427.5L742.5 1427.5L743 1427.5L743.5 1427.5L744 1427.5L744.5 1427.5L745 1427.5L745.5 1427.5L746 1427.5L746.5 1427.5L747 1427.5L747.5 1427.5L748 1427.5L748.5 1427.5L749 1427.5L749.5 1427.5L750 1427.5L750.5 1427.5L751 1427.5L751.5 1427.5L752 1427.5L752.5 1427.5L753 1427.5L753.5 1427.5L754 1427.5L754.5 1427.5L755 1427.5L755.5 1427.5L756 1427.5L756.5 1427.5L757 1427.5L757.5 1427.5L758 1427.5L758.5 1427.5L759 1427.5L759.5 1427.5L760 1427.5L760.5 1427.5L761 1427.5L761.5 1427.5L762 1427.5L762.5 1427.5L763 1427.5L763.5 1427.5L764 1427.5L764.5 1427.5L765 1427.5L765.5 1427.5L766 1427.5L766.5 1427.5L767 1427.5L767.5 1427.5L768 1427.5L768.5 1427.5L769 1427.5L769.5 1427.5L770 1427.5L770.5 1427.5L771 1427.5L771.5 1427.5L772 1427.5L772.5 1427.5L773 1427.5L773.5 1427.5L774 1427.5L774.5 1427.5L775 1427.5L775.5 1427.5L776 1427.5L776.5 1427.5L777 1427.5L777.5 1427.5L778 1427.5L778.5 1427.5L779 1427.5L779.5 1427.5L780 1427.5L780.5 1427.5L781 1427.5L781.5 1427.5L782 1427.5L782.5 1427.5L783 1427.5L783.5 1427.5L784 1427.5L784.5 1427.5L785 1427.5L785.5 1427.5L786 1427.5L786.5 1427.5L787 1427.5L787.5 1427.5L788 1427.5L788.5 1427.5L789 1427.5L789.5 1427.5L790 1427.5L790.5 1427.5L791 1427.5L791.5 1427.5L792 1427.5L792.5 1427.5L793 1427.5L793.5 1427.5L794 1427.5L794.5 1427.5L795 1427.5L795.5 1427.5L796 1427.5L796.5 1427.5L797 1427.5L797.5 1427.5L798 1427.5L798.5 1427.5L799 1427.5L799.5 1427.5L800 1427.5L800.5 1427.5L801 1427.5L801.5 1427.5L802 1427.5L802.5 1427.5L803 1427.5L803.5 1427.5L804 1427.5L804.5 1427.5L805 1427.5L805.5 1427.5L806 1427.5L806.5 1427.5L807 1427.5L807.5 1427.5L808 1427.5L808.5 1427.5L809 1427.5L809.5 1427.5L810 1427.5L810.5 1427.5L811 1427.5L811.5 1427.5L812 1427.5L812.5 1427.5L813 1427.5L813.5 1427.5L814 1427.5L814.5 1427.5L815 1427.5L815.5 1427.5L816 1427.5L816.5 1427.5L817 1427.5L817.5 1427.5L818 1427.5L818.5 1427.5L819 1427.5L819.5 1427.5L820 1427.5L820.5 1427.5L821 1427.5L821.5 1427.5L822 1427.5L822.5 1427.5L823 1427.5L823.5 1427.5L824 1427.5L824.5 1427.5L825 1427.5L825.5 1427.5L826 1427.5L826.5 1427.5L827 1427.5L827.5 1427.5L828 1427.5L828.5 1427.5L829 1427.5L829.5 1427.5L830 1427.5L830.5 1427.5L831 1427.5L831.5 1427.5L832 1427.5L832.5 1427.5L833 1427.5L833.5 1427.5L834 1427.5L834.5 1427.5L835 1427.5L835.5 1427.5L836 1427.5L836.5 1427.5L837 1427.5L837.5 1427.5L838 1427.5L838.5 1427.5L839 1427.5L839.5 1427.5L840 1427.5L840.5 1427.5L841 1427.5L841.5 1427.5L842 1427.5L842.5 1427.5L843 1427.5L843.5 1427.5L844 1427.5L844.5 1427.5L845 1427.5L845.5 1427.5L846 1427.5L846.5 1427.5L847 1427.5L847.5 1427.5L848 1427.5L848.5 1427.5L849 1427.5L849.5 1427.5L850 1427.5L850.5 1427.5L851 1427.5L851.5 1427.5L852 1427.5L852.5 1427.5L853 1427.5L853.5 1427.5L854 1427.5L854.5 1427.5L855 1427.5L855.5 1427.5L856 1427.5L856.5 1427.5L857 1427.5L857.5 1427.5L858 1427.5L858.5 1427.5L859 1427.5L859.5 1427.5L860 1427.5L860.5 1427.5L861 1427.5L861.5 1427.5L862 1427.5L862.5 1427.5L863 1427.5L863.5 1427.5L864 1427.5L864.5 1427.5L865 1427.5L865.5 1427.5L866 1427.5L866.5 1427.5L867 1427.5L867.5 1427.5L868 1427.5L868.5 1427.5L869 1427.5L869.5 1427.5L870 1427.5L870.5 1427.5L871 1427.5L871.5 1427.5L872 1427.5L872.5 1427.5L873 1427.5L873.5 1427.5L874 1427.5L874.5 1427.5L875 1427.5L875.5 1427.5L876 1427.5L876.5 1427.5L877 1427.5L877.5 1427.5L878 1427.5L878.5 1427.5L879 1427.5L879.5 1427.5L881.5 1427.5L883.5 1427.5L885.5 1427.5L887.5 1427.5L889.5 1427.5L891.5 1427.5L893.5 1427.5L895.5 1427.5L897.5 1427.5L899.5 1427.5L901.5 1427.5L903.5 1427.5L905.5 1427.5L907.5 1427.5L909.5 1427.5L911.5 1427.5L913.5 1427.5L915.5 1427.5L917.5 1427.5L919.5 1427.5L921.5 1427.5L923.5 1427.5L925.5 1427.5L927.5 1427.5L929.5 1427.5L931.5 1427.5L933.5 1427.5L935.5 1427.5L937.5 1427.5L939.5 1427.5L941.5 1427.5L943.5 1427.5L945.5 1427.5L947.5 1427.5L949.5 1427.5L951.5 1427.5L953.5 1427.5L955.5 1427.5L957.5 1427.5L959.5 1427.5L961.5 1427.5L963.5 1427.5L965.5 1427.5L967.5 1427.5L969.5 1427.5L971.5 1427.5L973.5 1427.5L975.5 1427.5L977.5 1427.5L979.5 1427.5L981.5 1427.5L983.5 1427.5L985.5 1427.5L987.5 1427.5L989.5 1427.5L991.5 1427.5L993.5 1427.5L995.5 1427.5L997.5 1427.5L999.5 1427.5L1001.5 1427.5L1003.5 1427.5L1005.5 1427.5L1007.5 1427.5L1009.5 1427.5L1011.5 1427.5L1013.5 1427.5L1015.5 1427.5L1017.5 1427.5L1019.5 1427.5L1021.5 1427.5L1023.5 1427.5L1025.5 1427.5L1027.5 1427.5L1029.5 1427.5L1031.5 1427.5L1033.5 1427.5L1035.5 1427.5L1037.5 1427.5L1039.5 1427.5L1041.5 1427.5L1043.5 1427.5L1045.5 1427.5L1047.5 1427.5L1049.5 1427.5L1051.5 1427.5L1053.5 1427.5L1055.5 1427.5L1057.5 1427.5L1059.5 1427.5L1061.5 1427.5L1063.5 1427.5L1065.5 1427.5L1067.5 1427.5L1069.5 1427.5L1071.5 1427.5L1073.5 1427.5L1075.5 1427.5L1077.5 1427.5L1079.5 1427.5L1081.5 1427.5L1083.5 1427.5L1085.5 1427.5L1087.5 1427.5L1088 1427.5L1088.5 1427.5L1089 1427.5L1089.5 1427.5L1090 1427.5L1090.5 1427.5L1091 1427.5L1091.5 1427.5L1092 1427.5L1092.5 1427.5L1093 1427.5L1093.5 1427.5L1094 1427.5L1094.5 1427.5L1095 1427.5L1095.5 1427.5L1096 1427.5L1096.5 1427.5L1097 1427.5L1097.5 1427.5L1098 1427.5L1098.5 1427.5L1099 1427.5L1099.5 1427.5L1100 1427.5L1100.5 1427.5L1101 1427.5L1101.5 1427.5L1102 1427.5L1102.5 1427.5L1103 1427.5L1103.5 1427.5L1104 1427.5L1104.5 1427.5L1105 1427.5L1105.5 1427.5L1106 1427.5L1106.5 1427.5L1107 1427.5L1107.5 1427.5L1108 1427.5L1108.5 1427.5L1109 1427.5L1109.5 1427.5L1110 1427.5L1110.5 1427.5L1111 1427.5L1111.5 1427.5L1112 1427.5L1112.5 1427.5L1113 1427.5L1113.5 1427.5L1114 1427.5L1114.5 1427.5L1115 1427.5L1115.5 1427.5L1116 1427.5L1116.5 1427.5L1117 1427.5L1117.5 1427.5L1118 1427.5L1118.5 1427.5L1119 1427.5L1119.5 1427.5L1120 1427.5L1120.5 1427.5L1121 1427.5L1121.5 1427.5L1122 1427.5L1122.5 1427.5L1123 1427.5L1123.5 1427.5L1124 1427.5L1124.5 1427.5L1125 1427.5L1125.5 1427.5L1126 1427.5L1126.5 1427.5L1127 1427.5L1127.5 1427.5L1128 1427.5L1128.5 1427.5L1129 1427.5L1129.5 1427.5L1130 1427.5L1130.5 1427.5L1131 1427.5L1131.5 1427.5L1132 1427.5L1132.5 1427.5L1133 1427.5L1133.5 1427.5L1134 1427.5L1134.5 1427.5L1135 1427.5L1135.5 1427.5L1136 1427.5L1136.5 1427.5L1137 1427.5L1137.5 1427.5L1138 1427.5L1138.5 1427.5L1139 1427.5L1139.5 1427.5L1140 1427.5L1140.5 1427.5L1141 1427.5L1141.5 1427.5L1142 1427.5L1142.5 1427.5L1143 1427.5L1143.5 1427.5L1144 1427.5L1144.5 1427.5L1145 1427.5L1145.5 1427.5L1146 1427.5L1146.5 1427.5L1147 1427.5L1147.5 1427.5L1148 1427.5L1148.5 1427.5L1149 1427.5L1149.5 1427.5L1150 1427.5L1150.5 1427.5L1151 1427.5L1151.5 1427.5L1152 1427.5L1152.5 1427.5L1153 1427.5L1153.5 1427.5L1154 1427.5L1154.5 1427.5L1155 1427.5L1155.5 1427.5L1156 1427.5L1156.5 1427.5L1157 1427.5L1157.5 1427.5L1158 1427.5L1158.5 1427.5L1159 1427.5L1159.5 1427.5L1160 1427.5L1160.5 1427.5L1161 1427.5L1161.5 1427.5L1162 1427.5L1162.5 1427.5L1163 1427.5L1163.5 1427.5L1164 1427.5L1164.5 1427.5L1165 1427.5L1165.5 1427.5L1167.5 1427.5L1169.5 1427.5L1171.5 1427.5L1173.5 1427.5L1175.5 1427.5L1177.5 1427.5L1179.5 1427.5L1181.5 1427.5L1183.5 1427.5L1185.5 1427.5L1187.5 1427.5L1189.5 1427.5L1191.5 1427.5L1193.5 1427.5L1195.5 1427.5L1197.5 1427.5L1199.5 1427.5L1201.5 1427.5L1203.5 1427.5L1205.5 1427.5L1207.5 1427.5L1209.5 1427.5L1211.5 1427.5L1213.5 1427.5L1215.5 1427.5L1217.5 1427.5L1219.5 1427.5L1221.5 1427.5L1223.5 1427.5L1225.5 1427.5L1227.5 1427.5L1229.5 1427.5L1231.5 1427.5L1233.5 1427.5L1235.5 1427.5L1237.5 1427.5L1239.5 1427.5L1241.5 1427.5L1243.5 1427.5L1245.5 1427.5L1247.5 1427.5L1249.5 1427.5L1251.5 1427.5L1253.5 1427.5L1255.5 1427.5L1257.5 1427.5L1259.5 1427.5L1261.5 1427.5L1263.5 1427.5L1265.5 1427.5L1267.5 1427.5L1269.5 1427.5L1271.5 1427.5L1273.5 1427.5L1275.5 1427.5L1277.5 1427.5L1279.5 1427.5L1281.5 1427.5L1283.5 1427.5L1285.5 1427.5L1287.5 1427.5L1289.5 1427.5L1291.5 1427.5L1293.5 1427.5L1295.5 1427.5L1297.5 1427.5L1299.5 1427.5L1301.5 1427.5L1303.5 1427.5L1305.5 1427.5L1307.5 1427.5L1309.5 1427.5L1311.5 1427.5L1313.5 1427.5L1315.5 1427.5L1317.5 1427.5L1319.5 1427.5L1321.5 1427.5L1323.5 1427.5L1325.5 1427.5L1327.5 1427.5L1329.5 1427.5L1331.5 1427.5L1333.5 1427.5L1335.5 1427.5L1337.5 1427.5L1339.5 1427.5L1341.5 1427.5L1343.5 1427.5L1345.5 1427.5L1347.5 1427.5L1349.5 1427.5L1351.5 1427.5L1353.5 1427.5L1355.5 1427.5L1357.5 1427.5L1359.5 1427.5L1361.5 1427.5L1363.5 1427.5L1365.5 1427.5L1367.5 1427.5L1369.5 1427.5L1371.5 1427.5L1373.5 1427.5L1375.5 1427.5L1377.5 1427.5L1379.5 1427.5L1381.5 1427.5L1383.5 1427.5L1385.5 1427.5L1387.5 1427.5L1389.5 1427.5L1391.5 1427.5L1393.5 1427.5L1395.5 1427.5L1397.5 1427.5L1399.5 1427.5L1401.5 1427.5L1403.5 1427.5L1405.5 1427.5L1407.5 1427.5L1409.5 1427.5L1411.5 1427.5L1413.5 1427.5L1415.5 1427.5L1417.5 1427.5L1419.5 1427.5L1421.5 1427.5L1423.5 1427.5L1425.5 1427.5L1427.5 1427.5L1429.5 1427.5L1431 1427.5" fill="none" stroke="#00dcfa" stroke-width="4.9" stroke-linejoin="round"/>
<path d="M75 1414.1L77 1414.1L79 1414.1L81 1414.1L83 1414.1L85 1414.1L87 1414.1L89 1414.1L91 1414.1L93 1414.1L95 1414.1L97 1414.1L99 1414.1L101 1414.1L103 1414.1L105 1414.1L107 1414.1L109 1414.1L111 1414.1L113 1414.1L115 1414.1L117 1414.1L119 1414.1L121 1414.1L123 1414.1L125 1414.1L127 1414.1L129 1414.1L131 1414.1L133 1414.1L135 1414.1L137 1414.1L139 1414.1L141 1414.1L143 1414.1L145 1414.1L147 1414.1L149 1414.1L151 1414.1L153 1414.1L155 1414.1L157 1414.1L159 1414.1L161 1414.1L163 1414.1L165 1414.1L167 1414.1L169 1414.1L171 1414.1L173 1414.1L175 1414.1L177 1414.1L179 1414.1L181 1414.1L183 1414.1L185 1414.1L187 1414.1L189 1414.1L191 1414.1L193 1414.1L195 1414.1L197 1414.1L199 1414.1L201 1414.1L203 1414.1L205 1414.1L207 1414.1L207.5 1414.1L208 1414.1L208.5 1414.1L209 1414.1L209.5 1414.1L210 1414.1L210.5 1414.1L211 1414.1L211.5 1414.1L212 1414.1L212.5 1414.1L213 1414.1L213.5 1414.1L214 1414.1L214.5 1414.1L215 1414.1L215.5 1414.1L216 1414.1L216.5 1414.1L217 1414.1L217.5 1414.1L218 1414.1L218.5 1414.1L219 1414.1L219.5 1414.1L220 1414.1L220.5 1414.1L221 1414.1L221.5 1414.1L222 1414.1L222.5 1414.1L223 1414.1L223.5 1414.1L224 1414.1L224.5 1414.1L225 1414.1L225.5 1414.1L226 1414.1L226.5 1414.1L227 1414.1L227.5 1414.1L228 1414.1L228.5 1414.1L229 1414.1L229.5 1414.1L230 1414.1L230.5 1414.1L231 1414.1L231.5 1414.1L232 1414.1L232.5 1414.1L233 1414.1L233.5 1414.1L234 1414.1L234.5 1414.1L235 1414.1L235.5 1414.1L236 1414.1L236.5 1414.1L237 1414.1L237.5 1414.1L238 1414.1L238.5 1414.1L239 1414.1L239.5 1414.1L240 1414.1L240.5 1414.1L241 1414.1L241.5 1414.1L242 1414.1L242.5 1414.1L243 1414.1L243.5 1414.1L244 1414.1L244.5 1414.1L245 1414.1L245.5 1414.1L246 1414.1L246.5 1414.1L247 1414.1L247.5 1414.1L248 1414.1L248.5 1414.1L249 1414.1L249.5 1414.1L250 1414.1L250.5 1414.1L251 1414.1L251.5 1414.1L252 1414.1L252.5 1414.1L253 1414.1L253.5 1414.1L254 1414.1L254.5 1414.1L255 1414.1L255.5 1414.1L256 1414.1L256.5 1414.1L257 1414.1L257.5 1414.1L258 1414.1L258.5 1414.1L259 1414.1L259.5 1414.1L260 1414.1L260.5 1414.1L261 1414.1L261.5 1414.1L262 1414.1L262.5 1414.1L263 1414.1L263.5 1414.1L264 1414.1L264.5 1414.1L265 1414.1L265.5 1414.1L266 1414.1L266.5 1414.1L267 1414.1L267.5 1414.1L268 1414.1L268.5 1414.1L269 1414.1L269.5 1414.1L270 1414.1L270.5 1414.1L271 1414.1L271.5 1414.1L272 1414.1L272.5 1414.1L273 1414.1L273.5 1414.1L274 1414.1L274.5 1414.1L275 1414.1L275.5 1414.1L276 1414.1L276.5 1414.1L277 1414.1L277.5 1414.1L278 1414.1L278.5 1414.1L279 1414.1L279.5 1414.1L280 1414.1L280.5 1414.1L281 1414.1L281.5 1414.1L282 1414.1L282.5 1414.1L283 1414.1L283.5 1414.1L284 1414.1L284.5 1414.1L285 1414.1L285.5 1414.1L286 1414.1L286.5 1414.1L288.5 1414.1L290.5 1414.1L292.5 1414.1L294.5 1414.1L296.5 1414.1L298.5 1414.1L300.5 1414.1L302.5 1414.1L304.5 1414.1L306.5 1414.1L308.5 1414.1L310.5 1414.1L312.5 1414.1L314.5 1414.1L316.5 1414.1L318.5 1414.1L320.5 1414.1L322.5 1414.1L324.5 1414.1L326.5 1414.1L328.5 1414.1L330.5 1414.1L332.5 1414.1L334.5 1414.1L336.5 1414.1L338.5 1414.1L340.5 1414.1L342.5 1414.1L344.5 1414.1L346.5 1414.1L348.5 1414.1L350.5 1414.1L352.5 1414.1L354.5 1414.1L356.5 1414.1L358.5 1414.1L360.5 1414.1L362.5 1414.1L364.5 1414.1L366.5 1414.1L368.5 1414.1L370.5 1414.1L372.5 1414.1L374.5 1414.1L376.5 1414.1L378 1414.1" fill="none" stroke="#ff0000" stroke-width="4.3" stroke-linejoin="round"/>
<path d="M461 1414.1L462.5 1414.1L464.5 1414.1L466.5 1414.1L468.5 1414.1L470.5 1414.1L472.5 1414.1L474.5 1414.1L476.5 1414.1L478.5 1414.1L480.5 1414.1L482.5 1414.1L484.5 1414.1L486.5 1414.1L488.5 1414.1L490.5 1414.1L492.5 1414.1L494.5 1414.1L496.5 1414.1L498.5 1414.1L500.5 1414.1L502.5 1414.1L504.5 1414.1L506.5 1414.1L508.5 1414.1L510.5 1414.1L512.5 1414.1L514.5 1414.1L516.5 1414.1L518.5 1414.1L520.5 1414.1L522.5 1414.1L524.5 1414.1L526.5 1414.1L528.5 1414.1L530.5 1414.1L532.5 1414.1L534.5 1414.1L536.5 1414.1L538.5 1414.1L540.5 1414.1L542.5 1414.1L544.5 1414.1L546.5 1414.1L548.5 1414.1L550.5 1414.1L551 1414.1L551.5 1414.1L552 1414.1L552.5 1414.1L553 1414.1L553.5 1414.1L554 1414.1L554.5 1414.1L555 1414.1L555.5 1414.1L556 1414.1L556.5 1414.1L557 1414.1L557.5 1414.1L558 1414.1L558.5 1414.1L559 1414.1L559.5 1414.1L560 1414.1L560.5 1414.1L561 1414.1L561.5 1414.1L562 1414.1L562.5 1414.1L563 1414.1L563.5 1414.1L564 1414.1L564.5 1414.1L565 1414.1L565.5 1414.1L566 1414.1L566.5 1414.1L567 1414.1L567.5 1414.1L568 1414.1L568.5 1414.1L569 1414.1L569.5 1414.1L570 1414.1L570.5 1414.1L571 1414.1L571.5 1414.1L572 1414.1L572.5 1414.1L573 1414.1L573.5 1414.1L574 1414.1L574.5 1414.1L575 1414.1L575.5 1414.1L576 1414.1L576.5 1414.1L577 1414.1L577.5 1414.1L578 1414.1L578.5 1414.1L579 1414.1L579.5 1414.1L580 1414.1L580.5 1414.1L581 1414.1L581.5 1414.1L582 1414.1L582.5 1414.1L583 1414.1L583.5 1414.1L584 1414.1L584.5 1414.1L585 1414.1L585.5 1414.1L586 1414.1L586.5 1414.1L587 1414.1L587.5 1414.1L588 1414.1L588.5 1414.1L589 1414.1L589.5 1414.1L590 1414.1L590.5 1414.1L591 1414.1L591.5 1414.1L592 1414.1L592.5 1414.1L593 1414.1L593.5 1414.1L594 1414.1L594.5 1414.1L595 1414.1L595.5 1414.1L596 1414.1L596.5 1414.1L597 1414.1L597.5 1414.1L598 1414.1L598.5 1414.1L599 1414.1L599.5 1414.1L600 1414.1L600.5 1414.1L601 1414.1L601.5 1414.1L602 1414.1L602.5 1414.1L603 1414.1L603.5 1414.1L604 1414.1L604.5 1414.1L605 1414.1L605.5 1414.1L606 1414.1L606.5 1414.1L607 1414.1L607.5 1414.1L608 1414.1L608.5 1414.1L609 1414.1L609.5 1414.1L610 1414.1L610.5 1414.1L611 1414.1L611.5 1414.1L612 1414.1L612.5 1414.1L613 1414.1L613.5 1414.1L614 1414.1L614.5 1414.1L615 1414.1L615.5 1414.1L616 1414.1L616.5 1414.1L617 1414.1L617.5 1414.1L618 1414.1L618.5 1414.1L619 1414.1L619.5 1414.1L620 1414.1L620.5 1414.1L621 1414.1L621.5 1414.1L622 1414.1L622.5 1414.1L623 1414.1L623.5 1414.1L624 1414.1L624.5 1414.1L625 1414.1L625.5 1414.1L626 1414L626.5 1414L627 1414L627.5 1414L628 1414L628.5 1414L629 1414L629.5 1414L631.5 1414L633.5 1414L635.5 1414L637.5 1414L639.5 1414L641.5 1414L643.5 1414L645.5 1414L647.5 1414L649.5 1414L651.5 1414L653.5 1414L655.5 1414L657.5 1414L659.5 1414L661.5 1414L663.5 1414L665.5 1414L667.5 1414L669.5 1414L671.5 1414L673.5 1414L675.5 1414L677.5 1414L679.5 1414L681.5 1414L683.5 1414L685.5 1414L687.5 1414L689.5 1413.9L691.5 1413.9L693.5 1413.9L695.5 1413.9L697.5 1413.9L699.5 1413.9L701.5 1413.9L703.5 1413.9L705.5 1413.9L707.5 1413.9L709.5 1413.9L711.5 1413.9L713.5 1413.9L715.5 1413.9L716 1413.9L716.5 1413.8L717 1413.8L717.5 1413.8L718 1413.8L718.5 1413.8L719 1413.8L719.5 1413.8L720 1413.8L720.5 1413.8L721 1413.8L721.5 1413.8L722 1413.8L722.5 1413.8L723 1413.8L723.5 1413.8L724 1413.8L724.5 1413.8L725 1413.8L725.5 1413.8L726 1413.8L726.5 1413.8L727 1413.8L727.5 1413.8L728 1413.8L728.5 1413.8L729 1413.8L729.5 1413.8L730 1413.8L730.5 1413.8L731 1413.8L731.5 1413.8L732 1413.8L732.5 1413.8L733 1413.7L733.5 1413.7L734 1413.7L734.5 1413.7L735 1413.7L735.5 1413.7L736 1413.7L736.5 1413.7L737 1413.7L737.5 1413.7L738 1413.7L738.5 1413.7L739 1413.7L739.5 1413.7L740 1413.7L740.5 1413.7L741 1413.7L741.5 1413.7L742 1413.7L742.5 1413.7L743 1413.7L743.5 1413.7L744 1413.6L744.5 1413.6L745 1413.6L745.5 1413.6L746 1413.6L746.5 1413.6L747 1413.6L747.5 1413.6L748 1413.6L748.5 1413.6L749 1413.6L749.5 1413.6L750 1413.6L750.5 1413.6L751 1413.6L751.5 1413.6L752 1413.6L752.5 1413.5L753 1413.5L753.5 1413.5L754 1413.5L754.5 1413.5L755 1413.5L755.5 1413.5L756 1413.5L756.5 1413.5L757 1413.5L757.5 1413.5L758 1413.5L758.5 1413.5L759 1413.4L759.5 1413.4L760 1413.4L760.5 1413.4L761 1413.4L761.5 1413.4L762 1413.4L762.5 1413.4L763 1413.4L763.5 1413.4L764 1413.3L764.5 1413.3L765 1413.3L765.5 1413.3L766 1413.3L766.5 1413.3L767 1413.3L767.5 1413.3L768 1413.3L768.5 1413.2L769 1413.2L769.5 1413.2L770 1413.2L770.5 1413.2L771 1413.2L771.5 1413.2L772 1413.1L772.5 1413.1L773 1413.1L773.5 1413.1L774 1413.1L774.5 1413.1L775 1413.1L775.5 1413L776 1413L776.5 1413L777 1413L777.5 1413L778 1412.9L778.5 1412.9L779 1412.9L779.5 1412.9L780 1412.9L780.5 1412.8L781 1412.8L781.5 1412.8L782 1412.8L782.5 1412.7L783 1412.7L783.5 1412.7L784 1412.7L784.5 1412.6L785 1412.6L785.5 1412.6L786 1412.6L786.5 1412.5L787 1412.5L787.5 1412.5L788 1412.4L788.5 1412.4L789 1412.4L789.5 1412.3L790 1412.3L790.5 1412.2L791 1412.2L791.5 1412.2L792 1412.1L792.5 1412.1L793 1412L793.5 1412L794 1411.9L794.5 1411.9L795 1411.8L795.5 1411.8L796 1411.7L796.5 1411.7L797 1411.6L797.5 1411.6L798 1411.5L798.5 1411.4L799 1411.4L799.5 1411.3L800 1411.2L800.5 1411.2L801 1411.1L801.5 1411L802 1410.9L802.5 1410.8L803 1410.7L803.5 1410.6L804 1410.5L804.5 1410.4L805 1410.3L805.5 1410.2L806 1410.1L806.5 1410L807 1409.9L807.5 1409.7L808 1409.6L808.5 1409.4L809 1409.3L809.5 1409.1L810 1408.9L810.5 1408.8L811 1408.6L811.5 1408.4L812 1408.2L812.5 1407.9L813 1407.7L813.5 1407.5L814 1407.2L814.5 1406.9L815 1406.6L815.5 1406.3L816 1406L816.5 1405.7L817 1405.3L817.5 1404.9L818 1404.5L818.5 1404L819 1403.5L819.5 1403L820 1402.4L820.5 1401.8L821 1401.2L821.5 1400.5L822 1399.7L822.5 1398.9L823 1398L823.5 1397L824 1396L824.5 1394.8L825 1393.6L825.5 1392.2L826 1390.6L826.5 1388.9L827 1387L827.5 1384.9L828 1382.6L828.5 1380L829 1377.1L829.5 1373.8L830 1370L830.5 1365.8L831 1361L831.5 1355.5L832 1349.1L832.5 1341.9L833 1333.5L833.5 1323.8L834 1312.6L834.5 1299.8L835 1285L835.5 1268.3L836 1249.6L836.5 1229.2L837 1207.9L837.5 1186.8L838 1167.8L838.5 1152.9L839 1144.4L839.5 1143.6L840 1150.7L840.5 1164.4L841 1182.8L841.5 1203.6L842 1225L842.5 1245.6L843 1264.7L843.5 1281.8L844 1297L844.5 1310.2L845 1321.7L845.5 1331.7L846 1340.3L846.5 1347.8L847 1354.3L847.5 1359.9L848 1364.9L848.5 1369.2L849 1373L849.5 1376.4L850 1379.4L850.5 1382.1L851 1384.5L851.5 1386.6L852 1388.6L852.5 1390.3L853 1391.9L853.5 1393.3L854 1394.6L854.5 1395.8L855 1396.8L855.5 1397.8L856 1398.7L856.5 1399.6L857 1400.3L857.5 1401.1L858 1401.7L858.5 1402.3L859 1402.9L859.5 1403.4L860 1403.9L860.5 1404.4L861 1404.8L861.5 1405.2L862 1405.6L862.5 1405.9L863 1406.3L863.5 1406.6L864 1406.9L864.5 1407.2L865 1407.4L865.5 1407.7L866 1407.9L866.5 1408.1L867 1408.3L867.5 1408.5L868 1408.7L868.5 1408.9L869 1409.1L869.5 1409.2L870 1409.4L870.5 1409.5L871 1409.7L871.5 1409.8L872 1410L872.5 1410.1L873 1410.2L873.5 1410.3L874 1410.4L874.5 1410.5L875 1410.6L875.5 1410.7L876 1410.8L876.5 1410.9L877 1411L877.5 1411.1L878 1411.1L878.5 1411.2L879 1411.3L879.5 1411.4L881.5 1411.6L883.5 1411.8L885.5 1412L887.5 1412.2L889.5 1412.4L891.5 1412.5L893.5 1412.6L895.5 1412.7L897.5 1412.8L899.5 1412.9L901.5 1413L903.5 1413L905.5 1413.1L907.5 1413.2L909.5 1413.2L911.5 1413.3L913.5 1413.3L915.5 1413.4L917.5 1413.4L919.5 1413.4L921.5 1413.5L923.5 1413.5L925.5 1413.5L927.5 1413.6L929.5 1413.6L931.5 1413.6L933.5 1413.6L935.5 1413.7L937.5 1413.7L939.5 1413.7L941.5 1413.7L943.5 1413.7L945.5 1413.7L947.5 1413.8L949.5 1413.8L951.5 1413.8L953.5 1413.8L955.5 1413.8L957.5 1413.8L959.5 1413.8L961.5 1413.8L963.5 1413.9L965.5 1413.9L967.5 1413.9L969.5 1413.9L971.5 1413.9L973.5 1413.9L975.5 1413.9L977.5 1413.9L979.5 1413.9L981.5 1413.9L983.5 1413.9L985.5 1413.9L987.5 1413.9L989.5 1413.9L991.5 1414L993.5 1414L995.5 1414L997.5 1414L999.5 1414L1001.5 1414L1003.5 1414L1005.5 1414L1007.5 1414L1009.5 1414L1011.5 1414L1013.5 1414L1015.5 1414L1017.5 1414L1019.5 1414L1021.5 1414L1023.5 1414L1025.5 1414L1027.5 1414L1029.5 1414L1031.5 1414L1033.5 1414L1035.5 1414L1037.5 1414L1039.5 1414L1041.5 1414L1043.5 1414L1045.5 1414L1047.5 1414L1049.5 1414L1051.5 1414L1053.5 1414.1L1055.5 1414.1L1057.5 1414.1L1059.5 1414.1L1061.5 1414.1L1063.5 1414.1L1065.5 1414.1L1067.5 1414.1L1069.5 1414.1L1071.5 1414.1L1073.5 1414.1L1075.5 1414.1L1077.5 1414.1L1079.5 1414.1L1081.5 1414.1L1083.5 1414.1L1085.5 1414.1L1087.5 1414.1L1088 1414.1L1088.5 1414.1L1089 1414.1L1089.5 1414.1L1090 1414.1L1090.5 1414.1L1091 1414.1L1091.5 1414.1L1092 1414.1L1092.5 1414.1L1093 1414.1L1093.5 1414.1L1094 1414.1L1094.5 1414.1L1095 1414.1L1095.5 1414.1L1096 1414.1L1096.5 1414.1L1097 1414.1L1097.5 1414.1L1098 1414.1L1098.5 1414.1L1099 1414.1L1099.5 1414.1L1100 1414.1L1100.5 1414.1L1101 1414.1L1101.5 1414.1L1102 1414.1L1102.5 1414.1L1103 1414.1L1103.5 1414.1L1104 1414.1L1104.5 1414.1L1105 1414.1L1105.5 1414.1L1106 1414.1L1106.5 1414.1L1107 1414.1L1107.5 1414.1L1108 1414.1L1108.5 1414.1L1109 1414.1L1109.5 1414.1L1110 1414.1L1110.5 1414.1L1111 1414.1L1111.5 1414.1L1112 1414.1L1112.5 1414.1L1113 1414.1L1113.5 1414.1L1114 1414.1L1114.5 1414.1L1115 1414.1L1115.5 1414.1L1116 1414.1L1116.5 1414.1L1117 1414.1L1117.5 1414.1L1118 1414.1L1118.5 1414.1L1119 1414.1L1119.5 1414.1L1120 1414.1L1120.5 1414.1L1121 1414.1L1121.5 1414.1L1122 1414.1L1122.5 1414.1L1123 1414.1L1123.5 1414.1L1124 1414.1L1124.5 1414.1L1125 1414.1L1125.5 1414.1L1126 1414.1L1126.5 1414.1L1127 1414.1L1127.5 1414.1L1128 1414.1L1128.5 1414.1L1129 1414.1L1129.5 1414.1L1130 1414.1L1130.5 1414.1L1131 1414.1L1131.5 1414.1L1132 1414.1L1132.5 1414.1L1133 1414.1L1133.5 1414.1L1134 1414.1L1134.5 1414.1L1135 1414.1L1135.5 1414.1L1136 1414.1L1136.5 1414.1L1137 1414.1L1137.5 1414.1L1138 1414.1L1138.5 1414.1L1139 1414.1L1139.5 1414.1L1140 1414.1L1140.5 1414.1L1141 1414.1L1141.5 1414.1L1142 1414.1L1142.5 1414.1L1143 1414.1L1143.5 1414.1L1144 1414.1L1144.5 1414.1L1145 1414.1L1145.5 1414.1L1146 1414.1L1146.5 1414.1L1147 1414.1L1147.5 1414.1L1148 1414.1L1148.5 1414.1L1149 1414.1L1149.5 1414.1L1150 1414.1L1150.5 1414.1L1151 1414.1L1151.5 1414.1L1152 1414.1L1152.5 1414.1L1153 1414.1L1153.5 1414.1L1154 1414.1L1154.5 1414.1L1155 1414.1L1155.5 1414.1L1156 1414.1L1156.5 1414.1L1157 1414.1L1157.5 1414.1L1158 1414.1L1158.5 1414.1L1159 1414.1L1159.5 1414.1L1160 1414.1L1160.5 1414.1L1161 1414.1L1161.5 1414.1L1162 1414.1L1162.5 1414.1L1163 1414.1L1163.5 1414.1L1164 1414.1L1164.5 1414.1L1165 1414.1L1165.5 1414.1L1167.5 1414.1L1169.5 1414.1L1171.5 1414.1L1173.5 1414.1L1175.5 1414.1L1177.5 1414.1L1179.5 1414.1L1181.5 1414.1L1183.5 1414.1L1185.5 1414.1L1187.5 1414.1L1189.5 1414.1L1191.5 1414.1L1193.5 1414.1L1195.5 1414.1L1197.5 1414.1L1199.5 1414.1L1201.5 1414.1L1203.5 1414.1L1205.5 1414.1L1207.5 1414.1L1209.5 1414.1L1211.5 1414.1L1213.5 1414.1L1215.5 1414.1L1217.5 1414.1L1219.5 1414.1L1221.5 1414.1L1223.5 1414.1L1225.5 1414.1L1227.5 1414.1L1229.5 1414.1L1231.5 1414.1L1233.5 1414.1L1235.5 1414.1L1237.5 1414.1L1239.5 1414.1L1241.5 1414.1L1243.5 1414.1L1245.5 1414.1L1247.5 1414.1L1249.5 1414.1L1251.5 1414.1L1253.5 1414.1L1255.5 1414.1L1257.5 1414.1L1259.5 1414.1L1261.5 1414.1L1263.5 1414.1L1265.5 1414.1L1267.5 1414.1L1269.5 1414.1L1271.5 1414.1L1273.5 1414.1L1275.5 1414.1L1277.5 1414.1L1279.5 1414.1L1281.5 1414.1L1283.5 1414.1L1285.5 1414.1L1287.5 1414.1L1289.5 1414.1L1291.5 1414.1L1293.5 1414.1L1295.5 1414.1L1297.5 1414.1L1299.5 1414.1L1301.5 1414.1L1303.5 1414.1L1305.5 1414.1L1307.5 1414.1L1309.5 1414.1L1311.5 1414.1L1313.5 1414.1L1315.5 1414.1L1317.5 1414.1L1319.5 1414.1L1321.5 1414.1L1323.5 1414.1L1325.5 1414.1L1327.5 1414.1L1329.5 1414.1L1331.5 1414.1L1333.5 1414.1L1335.5 1414.1L1337.5 1414.1L1339.5 1414.1L1341.5 1414.1L1343.5 1414.1L1345.5 1414.1L1347.5 1414.1L1349.5 1414.1L1351.5 1414.1L1353.5 1414.1L1355.5 1414.1L1357.5 1414.1L1359.5 1414.1L1361.5 1414.1L1363.5 1414.1L1365.5 1414.1L1367.5 1414.1L1369.5 1414.1L1371.5 1414.1L1373.5 1414.1L1375.5 1414.1L1377.5 1414.1L1379.5 1414.1L1381.5 1414.1L1383.5 1414.1L1385.5 1414.1L1387.5 1414.1L1389.5 1414.1L1391.5 1414.1L1393.5 1414.1L1395.5 1414.1L1397.5 1414.1L1399.5 1414.1L1401.5 1414.1L1403.5 1414.1L1405.5 1414.1L1407.5 1414.1L1409.5 1414.1L1411.5 1414.1L1413.5 1414.1L1415.5 1414.1L1417.5 1414.1L1419.5 1414.1L1421.5 1414.1L1423.5 1414.1L1425.5 1414.1L1427.5 1414.1L1429.5 1414.1L1431 1414.1" fill="none" stroke="#ff0000" stroke-width="4.3" stroke-linejoin="round"/>
<text transform="translate(813.01 1128.80) scale(0.9334 1)" font-family="'Liberation Sans', Arial, sans-serif" font-size="37.5" fill="#000"><tspan fill="#ff0000">HH</tspan><tspan fill="#00dcfa">H</tspan></text>
<rect x="812" y="1133" width="52" height="3" fill="#ff0000"/>
<text transform="translate(353.85 1292.80) scale(0.9507 1)" font-family="'Liberation Sans', Arial, sans-serif" font-size="37.5" fill="#000"><tspan fill="#ff0000">HH</tspan><tspan fill="#00dcfa">H</tspan></text>
<rect x="405" y="1297" width="27" height="3.8" fill="#00dcfa"/>
<path d="M75 1565.7L77 1565.6L79 1565.6L81 1565.6L83 1565.6L85 1565.6L87 1565.6L89 1565.6L91 1565.6L93 1565.6L95 1565.6L97 1565.6L99 1565.6L101 1565.6L103 1565.6L105 1565.6L107 1565.6L109 1565.6L111 1565.6L113 1565.6L115 1565.6L117 1565.6L119 1565.6L121 1565.6L123 1565.6L125 1565.6L127 1565.6L129 1565.6L131 1565.6L133 1565.6L135 1565.6L137 1565.6L139 1565.6L141 1565.6L143 1565.6L145 1565.6L147 1565.6L149 1565.6L151 1565.5L153 1565.5L155 1565.5L157 1565.5L159 1565.5L161 1565.5L163 1565.5L165 1565.5L167 1565.5L169 1565.5L171 1565.5L173 1565.4L175 1565.4L177 1565.4L179 1565.4L181 1565.4L183 1565.4L185 1565.3L187 1565.3L189 1565.3L191 1565.3L193 1565.2L195 1565.2L197 1565.1L199 1565.1L201 1565L203 1565L205 1564.9L207 1564.8L207.5 1564.8L208 1564.8L208.5 1564.8L209 1564.7L209.5 1564.7L210 1564.7L210.5 1564.7L211 1564.6L211.5 1564.6L212 1564.6L212.5 1564.6L213 1564.5L213.5 1564.5L214 1564.5L214.5 1564.4L215 1564.4L215.5 1564.3L216 1564.3L216.5 1564.2L217 1564.2L217.5 1564.2L218 1564.1L218.5 1564.1L219 1564L219.5 1563.9L220 1563.9L220.5 1563.8L221 1563.7L221.5 1563.7L222 1563.6L222.5 1563.5L223 1563.4L223.5 1563.3L224 1563.2L224.5 1563.1L225 1563L225.5 1562.9L226 1562.8L226.5 1562.7L227 1562.6L227.5 1562.4L228 1562.3L228.5 1562.1L229 1561.9L229.5 1561.7L230 1561.5L230.5 1561.3L231 1561.1L231.5 1560.9L232 1560.6L232.5 1560.3L233 1560L233.5 1559.7L234 1559.4L234.5 1559L235 1558.6L235.5 1558.2L236 1557.7L236.5 1557.2L237 1556.6L237.5 1556.1L238 1555.5L238.5 1554.8L239 1554.1L239.5 1553.3L240 1552.6L240.5 1551.7L241 1550.9L241.5 1550L242 1549.1L242.5 1548.3L243 1547.4L243.5 1546.6L244 1545.8L244.5 1545.2L245 1544.6L245.5 1544.2L246 1544L246.5 1543.9L247 1544L247.5 1544.2L248 1544.6L248.5 1545.2L249 1545.8L249.5 1546.6L250 1547.4L250.5 1548.3L251 1549.1L251.5 1550L252 1550.9L252.5 1551.7L253 1552.6L253.5 1553.3L254 1554.1L254.5 1554.8L255 1555.5L255.5 1556.1L256 1556.6L256.5 1557.2L257 1557.7L257.5 1558.2L258 1558.6L258.5 1559L259 1559.4L259.5 1559.7L260 1560L260.5 1560.3L261 1560.6L261.5 1560.9L262 1561.1L262.5 1561.3L263 1561.5L263.5 1561.7L264 1561.9L264.5 1562.1L265 1562.3L265.5 1562.4L266 1562.6L266.5 1562.7L267 1562.8L267.5 1562.9L268 1563L268.5 1563.1L269 1563.2L269.5 1563.3L270 1563.4L270.5 1563.5L271 1563.6L271.5 1563.7L272 1563.7L272.5 1563.8L273 1563.9L273.5 1563.9L274 1564L274.5 1564L275 1564.1L275.5 1564.2L276 1564.2L276.5 1564.2L277 1564.3L277.5 1564.3L278 1564.4L278.5 1564.4L279 1564.4L279.5 1564.5L280 1564.5L280.5 1564.5L281 1564.6L281.5 1564.6L282 1564.6L282.5 1564.7L283 1564.7L283.5 1564.7L284 1564.7L284.5 1564.8L285 1564.8L285.5 1564.8L286 1564.8L286.5 1564.9L288.5 1564.9L290.5 1565L292.5 1565.1L294.5 1565.1L296.5 1565.1L298.5 1565.2L300.5 1565.2L302.5 1565.3L304.5 1565.3L306.5 1565.3L308.5 1565.3L310.5 1565.4L312.5 1565.4L314.5 1565.4L316.5 1565.4L318.5 1565.4L320.5 1565.4L322.5 1565.5L324.5 1565.5L326.5 1565.5L328.5 1565.5L330.5 1565.5L332.5 1565.5L334.5 1565.5L336.5 1565.5L338.5 1565.5L340.5 1565.5L342.5 1565.5L344.5 1565.5L346.5 1565.6L348.5 1565.6L350.5 1565.6L352.5 1565.6L354.5 1565.6L356.5 1565.6L358.5 1565.6L360.5 1565.6L362.5 1565.6L364.5 1565.6L366.5 1565.6L368.5 1565.6L370.5 1565.6L372.5 1565.6L374.5 1565.6L376.5 1565.6L378.5 1565.6L379 1565.6L379.5 1565.6L380 1565.6L380.5 1565.6L381 1565.6L381.5 1565.6L382 1565.6L382.5 1565.6L383 1565.6L383.5 1565.6L384 1565.6L384.5 1565.6L385 1565.6L385.5 1565.6L386 1565.6L386.5 1565.6L387 1565.6L387.5 1565.6L388 1565.6L388.5 1565.6L389 1565.6L389.5 1565.6L390 1565.6L390.5 1565.6L391 1565.6L391.5 1565.6L392 1565.6L392.5 1565.6L393 1565.6L393.5 1565.6L394 1565.6L394.5 1565.6L395 1565.6L395.5 1565.6L396 1565.6L396.5 1565.6L397 1565.6L397.5 1565.6L398 1565.6L398.5 1565.6L399 1565.6L399.5 1565.6L400 1565.6L400.5 1565.6L401 1565.6L401.5 1565.6L402 1565.6L402.5 1565.6L403 1565.6L403.5 1565.6L404 1565.6L404.5 1565.6L405 1565.6L405.5 1565.6L406 1565.6L406.5 1565.6L407 1565.6L407.5 1565.6L408 1565.6L408.5 1565.6L409 1565.6L409.5 1565.6L410 1565.6L410.5 1565.6L411 1565.6L411.5 1565.6L412 1565.6L412.5 1565.6L413 1565.6L413.5 1565.6L414 1565.6L414.5 1565.6L415 1565.6L415.5 1565.6L416 1565.6L416.5 1565.6L417 1565.6L417.5 1565.6L418 1565.6L418.5 1565.6L419 1565.6L419.5 1565.6L420 1565.6L420.5 1565.6L421 1565.6L421.5 1565.6L422 1565.6L422.5 1565.6L423 1565.6L423.5 1565.6L424 1565.6L424.5 1565.6L425 1565.6L425.5 1565.6L426 1565.6L426.5 1565.6L427 1565.6L427.5 1565.6L428 1565.6L428.5 1565.6L429 1565.6L429.5 1565.6L430 1565.6L430.5 1565.6L431 1565.6L431.5 1565.6L432 1565.6L432.5 1565.6L433 1565.6L433.5 1565.6L434 1565.6L434.5 1565.6L435 1565.6L435.5 1565.6L436 1565.6L436.5 1565.6L437 1565.6L437.5 1565.6L438 1565.6L438.5 1565.6L439 1565.6L439.5 1565.6L440 1565.6L440.5 1565.6L441 1565.6L441.5 1565.6L442 1565.6L442.5 1565.6L443 1565.6L443.5 1565.6L444 1565.6L444.5 1565.6L445 1565.6L445.5 1565.6L446 1565.6L446.5 1565.6L447 1565.6L447.5 1565.6L448 1565.6L448.5 1565.6L449 1565.6L449.5 1565.6L450 1565.6L450.5 1565.6L451 1565.6L451.5 1565.6L452 1565.6L452.5 1565.6L453 1565.6L453.5 1565.6L454 1565.6L454.5 1565.6L455 1565.6L455.5 1565.6L456 1565.6L456.5 1565.6L457 1565.6L457.5 1565.6L458 1565.6L458.5 1565.6L460.5 1565.6L462.5 1565.6L464.5 1565.6L466.5 1565.6L468.5 1565.6L470.5 1565.6L472.5 1565.6L474.5 1565.6L476.5 1565.6L478.5 1565.6L480.5 1565.6L482.5 1565.6L484.5 1565.6L486.5 1565.6L488.5 1565.6L490.5 1565.6L492.5 1565.6L494.5 1565.6L496.5 1565.6L498.5 1565.6L500.5 1565.6L502.5 1565.6L504.5 1565.6L506.5 1565.6L508.5 1565.6L510.5 1565.6L512.5 1565.6L514.5 1565.6L516.5 1565.6L518.5 1565.6L520.5 1565.6L522.5 1565.6L524.5 1565.5L526.5 1565.5L528.5 1565.5L530.5 1565.5L532.5 1565.5L534.5 1565.5L536.5 1565.5L538.5 1565.5L540.5 1565.4L542.5 1565.4L544.5 1565.4L546.5 1565.4L548.5 1565.3L550.5 1565.3L551 1565.3L551.5 1565.3L552 1565.3L552.5 1565.3L553 1565.3L553.5 1565.3L554 1565.2L554.5 1565.2L555 1565.2L555.5 1565.2L556 1565.2L556.5 1565.2L557 1565.2L557.5 1565.1L558 1565.1L558.5 1565.1L559 1565.1L559.5 1565.1L560 1565L560.5 1565L561 1565L561.5 1565L562 1565L562.5 1564.9L563 1564.9L563.5 1564.9L564 1564.8L564.5 1564.8L565 1564.8L565.5 1564.7L566 1564.7L566.5 1564.6L567 1564.6L567.5 1564.6L568 1564.5L568.5 1564.4L569 1564.4L569.5 1564.3L570 1564.3L570.5 1564.2L571 1564.1L571.5 1564L572 1563.9L572.5 1563.8L573 1563.7L573.5 1563.6L574 1563.5L574.5 1563.4L575 1563.2L575.5 1563L576 1562.9L576.5 1562.7L577 1562.4L577.5 1562.2L578 1561.9L578.5 1561.6L579 1561.3L579.5 1560.9L580 1560.5L580.5 1560L581 1559.5L581.5 1558.9L582 1558.2L582.5 1557.5L583 1556.6L583.5 1555.7L584 1554.6L584.5 1553.3L585 1551.9L585.5 1550.4L586 1548.8L586.5 1547.1L587 1545.4L587.5 1543.8L588 1542.4L588.5 1541.4L589 1540.8L589.5 1540.7L590 1541.2L590.5 1542.2L591 1543.5L591.5 1545.1L592 1546.8L592.5 1548.5L593 1550.1L593.5 1551.7L594 1553.1L594.5 1554.3L595 1555.4L595.5 1556.4L596 1557.3L596.5 1558.1L597 1558.8L597.5 1559.4L598 1559.9L598.5 1560.4L599 1560.9L599.5 1561.2L600 1561.6L600.5 1561.9L601 1562.1L601.5 1562.4L602 1562.6L602.5 1562.8L603 1563L603.5 1563.2L604 1563.3L604.5 1563.5L605 1563.6L605.5 1563.7L606 1563.8L606.5 1563.9L607 1564L607.5 1564.1L608 1564.2L608.5 1564.2L609 1564.3L609.5 1564.4L610 1564.4L610.5 1564.5L611 1564.5L611.5 1564.6L612 1564.6L612.5 1564.7L613 1564.7L613.5 1564.8L614 1564.8L614.5 1564.8L615 1564.9L615.5 1564.9L616 1564.9L616.5 1564.9L617 1565L617.5 1565L618 1565L618.5 1565L619 1565.1L619.5 1565.1L620 1565.1L620.5 1565.1L621 1565.1L621.5 1565.2L622 1565.2L622.5 1565.2L623 1565.2L623.5 1565.2L624 1565.2L624.5 1565.2L625 1565.3L625.5 1565.3L626 1565.3L626.5 1565.3L627 1565.3L627.5 1565.3L628 1565.3L628.5 1565.3L629 1565.3L629.5 1565.3L631.5 1565.4L633.5 1565.4L635.5 1565.4L637.5 1565.4L639.5 1565.5L641.5 1565.5L643.5 1565.5L645.5 1565.5L647.5 1565.5L649.5 1565.5L651.5 1565.5L653.5 1565.6L655.5 1565.6L657.5 1565.6L659.5 1565.6L661.5 1565.6L663.5 1565.6L665.5 1565.6L667.5 1565.6L669.5 1565.6L671.5 1565.6L673.5 1565.6L675.5 1565.6L677.5 1565.6L679.5 1565.6L681.5 1565.6L683.5 1565.6L685.5 1565.6L687.5 1565.6L689.5 1565.6L691.5 1565.6L693.5 1565.6L695.5 1565.6L697.5 1565.6L699.5 1565.6L701.5 1565.6L703.5 1565.6L705.5 1565.6L707.5 1565.7L709.5 1565.7L711.5 1565.7L713.5 1565.7L715.5 1565.7L716 1565.7L716.5 1565.7L717 1565.7L717.5 1565.7L718 1565.7L718.5 1565.7L719 1565.7L719.5 1565.7L720 1565.7L720.5 1565.7L721 1565.7L721.5 1565.7L722 1565.7L722.5 1565.7L723 1565.7L723.5 1565.7L724 1565.7L724.5 1565.7L725 1565.7L725.5 1565.7L726 1565.7L726.5 1565.7L727 1565.7L727.5 1565.7L728 1565.7L728.5 1565.7L729 1565.7L729.5 1565.7L730 1565.7L730.5 1565.7L731 1565.7L731.5 1565.7L732 1565.7L732.5 1565.7L733 1565.7L733.5 1565.7L734 1565.7L734.5 1565.7L735 1565.7L735.5 1565.7L736 1565.7L736.5 1565.7L737 1565.7L737.5 1565.7L738 1565.7L738.5 1565.7L739 1565.7L739.5 1565.7L740 1565.7L740.5 1565.7L741 1565.7L741.5 1565.7L742 1565.7L742.5 1565.7L743 1565.7L743.5 1565.7L744 1565.7L744.5 1565.7L745 1565.7L745.5 1565.7L746 1565.7L746.5 1565.7L747 1565.7L747.5 1565.7L748 1565.7L748.5 1565.7L749 1565.7L749.5 1565.7L750 1565.7L750.5 1565.7L751 1565.7L751.5 1565.7L752 1565.7L752.5 1565.7L753 1565.7L753.5 1565.7L754 1565.7L754.5 1565.7L755 1565.7L755.5 1565.7L756 1565.7L756.5 1565.7L757 1565.7L757.5 1565.7L758 1565.7L758.5 1565.7L759 1565.7L759.5 1565.7L760 1565.7L760.5 1565.7L761 1565.7L761.5 1565.7L762 1565.7L762.5 1565.7L763 1565.7L763.5 1565.7L764 1565.7L764.5 1565.7L765 1565.7L765.5 1565.7L766 1565.7L766.5 1565.7L767 1565.7L767.5 1565.7L768 1565.7L768.5 1565.7L769 1565.7L769.5 1565.7L770 1565.7L770.5 1565.7L771 1565.7L771.5 1565.7L772 1565.7L772.5 1565.7L773 1565.7L773.5 1565.7L774 1565.7L774.5 1565.7L775 1565.7L775.5 1565.7L776 1565.7L776.5 1565.7L777 1565.7L777.5 1565.7L778 1565.7L778.5 1565.7L779 1565.7L779.5 1565.7L780 1565.7L780.5 1565.7L781 1565.7L781.5 1565.7L782 1565.7L782.5 1565.7L783 1565.7L783.5 1565.7L784 1565.7L784.5 1565.7L785 1565.7L785.5 1565.7L786 1565.7L786.5 1565.7L787 1565.7L787.5 1565.7L788 1565.7L788.5 1565.7L789 1565.7L789.5 1565.7L790 1565.7L790.5 1565.7L791 1565.7L791.5 1565.7L792 1565.7L792.5 1565.7L793 1565.7L793.5 1565.7L794 1565.7L794.5 1565.7L795 1565.7L795.5 1565.7L796 1565.7L796.5 1565.7L797 1565.7L797.5 1565.7L798 1565.7L798.5 1565.7L799 1565.7L799.5 1565.7L800 1565.7L800.5 1565.7L801 1565.7L801.5 1565.7L802 1565.7L802.5 1565.7L803 1565.7L803.5 1565.7L804 1565.7L804.5 1565.7L805 1565.7L805.5 1565.7L806 1565.7L806.5 1565.7L807 1565.7L807.5 1565.7L808 1565.7L808.5 1565.7L809 1565.7L809.5 1565.7L810 1565.7L810.5 1565.7L811 1565.7L811.5 1565.7L812 1565.7L812.5 1565.7L813 1565.7L813.5 1565.7L814 1565.7L814.5 1565.7L815 1565.7L815.5 1565.7L816 1565.7L816.5 1565.7L817 1565.7L817.5 1565.7L818 1565.7L818.5 1565.7L819 1565.7L819.5 1565.7L820 1565.7L820.5 1565.7L821 1565.7L821.5 1565.7L822 1565.7L822.5 1565.7L823 1565.7L823.5 1565.7L824 1565.7L824.5 1565.7L825 1565.7L825.5 1565.7L826 1565.7L826.5 1565.7L827 1565.7L827.5 1565.7L828 1565.7L828.5 1565.7L829 1565.7L829.5 1565.7L830 1565.7L830.5 1565.7L831 1565.7L831.5 1565.7L832 1565.7L832.5 1565.7L833 1565.7L833.5 1565.7L834 1565.7L834.5 1565.7L835 1565.7L835.5 1565.7L836 1565.7L836.5 1565.7L837 1565.7L837.5 1565.7L838 1565.7L838.5 1565.7L839 1565.7L839.5 1565.7L840 1565.7L840.5 1565.7L841 1565.7L841.5 1565.7L842 1565.7L842.5 1565.7L843 1565.7L843.5 1565.7L844 1565.7L844.5 1565.7L845 1565.7L845.5 1565.7L846 1565.7L846.5 1565.7L847 1565.7L847.5 1565.7L848 1565.7L848.5 1565.7L849 1565.7L849.5 1565.7L850 1565.7L850.5 1565.7L851 1565.7L851.5 1565.7L852 1565.7L852.5 1565.7L853 1565.7L853.5 1565.7L854 1565.7L854.5 1565.7L855 1565.7L855.5 1565.7L856 1565.7L856.5 1565.7L857 1565.7L857.5 1565.7L858 1565.7L858.5 1565.7L859 1565.7L859.5 1565.7L860 1565.7L860.5 1565.7L861 1565.7L861.5 1565.7L862 1565.7L862.5 1565.7L863 1565.7L863.5 1565.7L864 1565.7L864.5 1565.7L865 1565.7L865.5 1565.7L866 1565.7L866.5 1565.7L867 1565.7L867.5 1565.7L868 1565.7L868.5 1565.7L869 1565.7L869.5 1565.7L870 1565.7L870.5 1565.7L871 1565.7L871.5 1565.7L872 1565.7L872.5 1565.7L873 1565.7L873.5 1565.7L874 1565.7L874.5 1565.7L875 1565.7L875.5 1565.7L876 1565.7L876.5 1565.7L877 1565.7L877.5 1565.7L878 1565.7L878.5 1565.7L879 1565.7L879.5 1565.7L881.5 1565.7L883.5 1565.7L885.5 1565.7L887.5 1565.7L889.5 1565.7L891.5 1565.7L893.5 1565.7L895.5 1565.7L897.5 1565.7L899.5 1565.7L901.5 1565.7L903.5 1565.7L905.5 1565.7L907.5 1565.7L909.5 1565.7L911.5 1565.7L913.5 1565.7L915.5 1565.7L917.5 1565.7L919.5 1565.7L921.5 1565.7L923.5 1565.7L925.5 1565.7L927.5 1565.7L929.5 1565.7L931.5 1565.7L933.5 1565.7L935.5 1565.7L937.5 1565.7L939.5 1565.7L941.5 1565.7L943.5 1565.7L945.5 1565.7L947.5 1565.7L949.5 1565.7L951.5 1565.7L953.5 1565.7L955.5 1565.7L957.5 1565.7L959.5 1565.7L961.5 1565.7L963.5 1565.7L965.5 1565.7L967.5 1565.7L969.5 1565.7L971.5 1565.7L973.5 1565.7L975.5 1565.7L977.5 1565.7L979.5 1565.7L981.5 1565.7L983.5 1565.7L985.5 1565.7L987.5 1565.7L989.5 1565.7L991.5 1565.7L993.5 1565.7L995.5 1565.7L997.5 1565.7L999.5 1565.7L1001.5 1565.7L1003.5 1565.7L1005.5 1565.7L1007.5 1565.7L1009.5 1565.7L1011.5 1565.7L1013.5 1565.7L1015.5 1565.7L1017.5 1565.7L1019.5 1565.7L1021.5 1565.7L1023.5 1565.7L1025.5 1565.7L1027.5 1565.7L1029.5 1565.6L1031.5 1565.6L1033.5 1565.6L1035.5 1565.6L1037.5 1565.6L1039.5 1565.6L1041.5 1565.6L1043.5 1565.6L1045.5 1565.6L1047.5 1565.6L1049.5 1565.6L1051.5 1565.6L1053.5 1565.6L1055.5 1565.6L1057.5 1565.6L1059.5 1565.6L1061.5 1565.6L1063.5 1565.6L1065.5 1565.6L1067.5 1565.6L1069.5 1565.6L1071.5 1565.6L1073.5 1565.5L1075.5 1565.5L1077.5 1565.5L1079.5 1565.5L1081.5 1565.5L1083.5 1565.5L1085.5 1565.4L1087.5 1565.4L1088 1565.4L1088.5 1565.4L1089 1565.4L1089.5 1565.4L1090 1565.4L1090.5 1565.4L1091 1565.3L1091.5 1565.3L1092 1565.3L1092.5 1565.3L1093 1565.3L1093.5 1565.3L1094 1565.3L1094.5 1565.3L1095 1565.2L1095.5 1565.2L1096 1565.2L1096.5 1565.2L1097 1565.2L1097.5 1565.2L1098 1565.1L1098.5 1565.1L1099 1565.1L1099.5 1565.1L1100 1565.1L1100.5 1565L1101 1565L1101.5 1565L1102 1565L1102.5 1564.9L1103 1564.9L1103.5 1564.8L1104 1564.8L1104.5 1564.8L1105 1564.7L1105.5 1564.7L1106 1564.6L1106.5 1564.6L1107 1564.5L1107.5 1564.4L1108 1564.4L1108.5 1564.3L1109 1564.2L1109.5 1564.1L1110 1564L1110.5 1563.9L1111 1563.8L1111.5 1563.7L1112 1563.5L1112.5 1563.4L1113 1563.2L1113.5 1563L1114 1562.8L1114.5 1562.6L1115 1562.3L1115.5 1562L1116 1561.7L1116.5 1561.3L1117 1560.8L1117.5 1560.3L1118 1559.7L1118.5 1559L1119 1558.2L1119.5 1557.3L1120 1556.2L1120.5 1554.9L1121 1553.4L1121.5 1551.7L1122 1549.7L1122.5 1547.4L1123 1544.9L1123.5 1542.3L1124 1539.8L1124.5 1537.7L1125 1536.2L1125.5 1535.7L1126 1536.2L1126.5 1537.7L1127 1539.8L1127.5 1542.3L1128 1544.9L1128.5 1547.4L1129 1549.7L1129.5 1551.7L1130 1553.4L1130.5 1554.9L1131 1556.2L1131.5 1557.3L1132 1558.2L1132.5 1559L1133 1559.7L1133.5 1560.3L1134 1560.8L1134.5 1561.3L1135 1561.7L1135.5 1562L1136 1562.3L1136.5 1562.6L1137 1562.8L1137.5 1563L1138 1563.2L1138.5 1563.4L1139 1563.5L1139.5 1563.7L1140 1563.8L1140.5 1563.9L1141 1564L1141.5 1564.1L1142 1564.2L1142.5 1564.3L1143 1564.4L1143.5 1564.4L1144 1564.5L1144.5 1564.6L1145 1564.6L1145.5 1564.7L1146 1564.7L1146.5 1564.8L1147 1564.8L1147.5 1564.8L1148 1564.9L1148.5 1564.9L1149 1565L1149.5 1565L1150 1565L1150.5 1565L1151 1565.1L1151.5 1565.1L1152 1565.1L1152.5 1565.1L1153 1565.1L1153.5 1565.2L1154 1565.2L1154.5 1565.2L1155 1565.2L1155.5 1565.2L1156 1565.2L1156.5 1565.3L1157 1565.3L1157.5 1565.3L1158 1565.3L1158.5 1565.3L1159 1565.3L1159.5 1565.3L1160 1565.3L1160.5 1565.4L1161 1565.4L1161.5 1565.4L1162 1565.4L1162.5 1565.4L1163 1565.4L1163.5 1565.4L1164 1565.4L1164.5 1565.4L1165 1565.4L1165.5 1565.4L1167.5 1565.5L1169.5 1565.5L1171.5 1565.5L1173.5 1565.5L1175.5 1565.5L1177.5 1565.5L1179.5 1565.6L1181.5 1565.6L1183.5 1565.6L1185.5 1565.6L1187.5 1565.6L1189.5 1565.6L1191.5 1565.6L1193.5 1565.6L1195.5 1565.6L1197.5 1565.6L1199.5 1565.6L1201.5 1565.6L1203.5 1565.6L1205.5 1565.6L1207.5 1565.6L1209.5 1565.6L1211.5 1565.6L1213.5 1565.6L1215.5 1565.6L1217.5 1565.6L1219.5 1565.6L1221.5 1565.7L1223.5 1565.7L1225.5 1565.7L1227.5 1565.7L1229.5 1565.7L1231.5 1565.7L1233.5 1565.7L1235.5 1565.7L1237.5 1565.7L1239.5 1565.7L1241.5 1565.7L1243.5 1565.7L1245.5 1565.7L1247.5 1565.7L1249.5 1565.7L1251.5 1565.7L1253.5 1565.7L1255.5 1565.7L1257.5 1565.7L1259.5 1565.7L1261.5 1565.7L1263.5 1565.7L1265.5 1565.7L1267.5 1565.7L1269.5 1565.7L1271.5 1565.7L1273.5 1565.7L1275.5 1565.7L1277.5 1565.7L1279.5 1565.7L1281.5 1565.7L1283.5 1565.7L1285.5 1565.7L1287.5 1565.7L1289.5 1565.7L1291.5 1565.7L1293.5 1565.7L1295.5 1565.7L1297.5 1565.7L1299.5 1565.7L1301.5 1565.7L1303.5 1565.7L1305.5 1565.7L1307.5 1565.7L1309.5 1565.7L1311.5 1565.7L1313.5 1565.7L1315.5 1565.7L1317.5 1565.7L1319.5 1565.7L1321.5 1565.7L1323.5 1565.7L1325.5 1565.7L1327.5 1565.7L1329.5 1565.7L1331.5 1565.7L1333.5 1565.7L1335.5 1565.7L1337.5 1565.7L1339.5 1565.7L1341.5 1565.7L1343.5 1565.7L1345.5 1565.7L1347.5 1565.7L1349.5 1565.7L1351.5 1565.7L1353.5 1565.7L1355.5 1565.7L1357.5 1565.7L1359.5 1565.7L1361.5 1565.7L1363.5 1565.7L1365.5 1565.7L1367.5 1565.7L1369.5 1565.7L1371.5 1565.7L1373.5 1565.7L1375.5 1565.7L1377.5 1565.7L1379.5 1565.7L1381.5 1565.7L1383.5 1565.7L1385.5 1565.7L1387.5 1565.7L1389.5 1565.7L1391.5 1565.7L1393.5 1565.7L1395.5 1565.7L1397.5 1565.7L1399.5 1565.7L1401.5 1565.7L1403.5 1565.7L1405.5 1565.7L1407.5 1565.7L1409.5 1565.7L1411.5 1565.7L1413.5 1565.7L1415.5 1565.7L1417.5 1565.7L1419.5 1565.7L1421.5 1565.7L1423.5 1565.7L1425.5 1565.7L1427.5 1565.7L1429.5 1565.7L1431 1565.7" fill="none" stroke="#000" stroke-width="4.6" stroke-linejoin="round"/>
<text transform="translate(191.98 1515.80) scale(0.9422 1)" font-family="'Liberation Sans', Arial, sans-serif" font-size="37.5" fill="#000">HHHH</text>
<rect x="192" y="1520.2" width="26" height="3.7" fill="#000"/>
<rect x="243" y="1520.2" width="26" height="3.7" fill="#000"/>
<text transform="translate(524.88 1510.70) scale(0.9412 1)" font-family="'Liberation Sans', Arial, sans-serif" font-size="37.5" fill="#000">HHHH</text>
<rect x="550" y="1515" width="27" height="3.8" fill="#000"/>
<text transform="translate(1057.06 1510.00) scale(0.9491 1)" font-family="'Liberation Sans', Arial, sans-serif" font-size="37.5" fill="#000">HHHH</text>
<rect x="1134" y="1514.5" width="25.5" height="3.6" fill="#000"/>
<text transform="translate(1276.17 1497.20) scale(1.0371 1)" font-family="'Liberation Sans', Arial, sans-serif" font-size="36.5" fill="#000">Tetramer</text>
<text transform="translate(1276.79 1543.70) scale(1.0067 1)" font-family="'Liberation Sans', Arial, sans-serif" font-size="35.5" font-weight="bold" fill="#000">1&#8211;3&#8211;3&#8211;1</text>
<text transform="translate(1168.97 738.60) scale(0.9662 1)" font-family="'Liberation Sans', Arial, sans-serif" font-size="27.5" fill="#000" stroke="#fff" stroke-width="0.2">Ph</text>
<text transform="translate(1234.73 737.90) scale(0.9865 1)" font-family="'Liberation Sans', Arial, sans-serif" font-size="27.5" fill="#000" stroke="#fff" stroke-width="0.2">Ph</text>
<text transform="translate(1210.92 787.70) scale(0.9456 1)" font-family="'Liberation Sans', Arial, sans-serif" font-size="27.5" fill="#000" stroke="#fff" stroke-width="0.2">P</text>
<text transform="translate(1165.81 811.30) scale(0.9894 1)" font-family="'Liberation Sans', Arial, sans-serif" font-size="27.5" fill="#000" stroke="#fff" stroke-width="0.2">O</text>
<text transform="translate(1252.81 812.30) scale(0.9894 1)" font-family="'Liberation Sans', Arial, sans-serif" font-size="27.5" fill="#000" stroke="#fff" stroke-width="0.2">O</text>
<text transform="translate(1136.07 860.70) scale(0.9647 1)" font-family="'Liberation Sans', Arial, sans-serif" font-size="28.8" font-weight="bold" fill="#00b04f">H</text>
<text transform="translate(1275.99 842.10) scale(0.9529 1)" font-family="'Liberation Sans', Arial, sans-serif" font-size="28.8" font-weight="bold" fill="#00b04f">H</text>
<text transform="translate(1119.01 890.60) scale(0.9894 1)" font-family="'Liberation Sans', Arial, sans-serif" font-size="27.5" fill="#000" stroke="#fff" stroke-width="0.2">O</text>
<text transform="translate(1300.14 896.20) scale(0.9681 1)" font-family="'Liberation Sans', Arial, sans-serif" font-size="27.5" fill="#000" stroke="#fff" stroke-width="0.2">O</text>
<text transform="translate(1116.31 941.30) scale(0.9048 1)" font-family="'Liberation Sans', Arial, sans-serif" font-size="27.5" fill="#000" stroke="#fff" stroke-width="0.2">P</text>
<text transform="translate(1034.73 941.30) scale(0.9883 1)" font-family="'Liberation Sans', Arial, sans-serif" font-size="27.5" fill="#000" stroke="#fff" stroke-width="0.2">PhO</text>
<text transform="translate(1055.72 984.30) scale(0.9922 1)" font-family="'Liberation Sans', Arial, sans-serif" font-size="27.5" fill="#000" stroke="#fff" stroke-width="0.2">PhO</text>
<text transform="translate(1158.24 969.40) scale(0.9681 1)" font-family="'Liberation Sans', Arial, sans-serif" font-size="27.5" fill="#000" stroke="#fff" stroke-width="0.2">O</text>
<text transform="translate(1222.07 970.80) scale(0.9647 1)" font-family="'Liberation Sans', Arial, sans-serif" font-size="28.8" font-weight="bold" fill="#ff9a3c">H</text>
<text transform="translate(1253.93 970.60) scale(0.9734 1)" font-family="'Liberation Sans', Arial, sans-serif" font-size="27.5" fill="#000" stroke="#fff" stroke-width="0.2">O</text>
<text transform="translate(1300.25 946.20) scale(0.9320 1)" font-family="'Liberation Sans', Arial, sans-serif" font-size="27.5" fill="#000" stroke="#fff" stroke-width="0.2">P</text>
<text transform="translate(1344.83 939.70) scale(0.9807 1)" font-family="'Liberation Sans', Arial, sans-serif" font-size="27.5" fill="#000" stroke="#fff" stroke-width="0.2">OPh</text>
<text transform="translate(1332.93 983.20) scale(0.9788 1)" font-family="'Liberation Sans', Arial, sans-serif" font-size="27.5" fill="#000" stroke="#fff" stroke-width="0.2">OPh</text>
<text transform="translate(1172.57 1019.30) scale(1.0150 1)" font-family="'Liberation Sans', Arial, sans-serif" font-size="34.8" font-weight="bold" fill="#000">1&#8211;3&#8211;1</text>
<line x1="1200.3" y1="740.8" x2="1214.3" y2="765.1" stroke="#000" stroke-width="3.3" stroke-linecap="round"/>
<line x1="1237.9" y1="740.8" x2="1224.9" y2="765.8" stroke="#000" stroke-width="3.3" stroke-linecap="round"/>
<line x1="1184.8" y1="792.6" x2="1207.4" y2="781" stroke="#000" stroke-width="3.3" stroke-linecap="round"/>
<line x1="1187.7" y1="798.7" x2="1210.3" y2="786.4" stroke="#000" stroke-width="3.3" stroke-linecap="round"/>
<line x1="1226.9" y1="781" x2="1252.8" y2="797" stroke="#000" stroke-width="3.3" stroke-linecap="round"/>
<line x1="1168.1" y1="814" x2="1152.9" y2="836.7" stroke="#000" stroke-width="3.6" stroke-dasharray="3.0 4.8" stroke-linecap="round"/>
<line x1="1270.7" y1="813.6" x2="1277.4" y2="820.2" stroke="#000" stroke-width="3.3" stroke-linecap="round"/>
<line x1="1292.5" y1="846.9" x2="1305.5" y2="874.3" stroke="#000" stroke-width="3.6" stroke-dasharray="3.0 4.8" stroke-linecap="round"/>
<line x1="1138.2" y1="863.3" x2="1133.6" y2="870.6" stroke="#000" stroke-width="3.3" stroke-linecap="round"/>
<line x1="1129.6" y1="894.5" x2="1126.3" y2="919.8" stroke="#000" stroke-width="3.3" stroke-linecap="round"/>
<line x1="1089.5" y1="931.7" x2="1116.3" y2="931.7" stroke="#000" stroke-width="3.3" stroke-linecap="round"/>
<line x1="1117.9" y1="945" x2="1105.7" y2="964.2" stroke="#000" stroke-width="3.3" stroke-linecap="round"/>
<line x1="1131.6" y1="931.7" x2="1159.5" y2="950.3" stroke="#000" stroke-width="3.3" stroke-linecap="round"/>
<line x1="1130.7" y1="938.4" x2="1155.5" y2="955" stroke="#000" stroke-width="3.3" stroke-linecap="round"/>
<line x1="1181.2" y1="959" x2="1220.8" y2="961.1" stroke="#000" stroke-width="3.6" stroke-dasharray="3.0 4.8" stroke-linecap="round"/>
<line x1="1241.9" y1="960.9" x2="1253.2" y2="960.2" stroke="#000" stroke-width="3.3" stroke-linecap="round"/>
<line x1="1275.1" y1="954.9" x2="1297.4" y2="942.9" stroke="#000" stroke-width="3.3" stroke-linecap="round"/>
<line x1="1308.3" y1="899.1" x2="1306.3" y2="926.3" stroke="#000" stroke-width="3.3" stroke-linecap="round"/>
<line x1="1314.9" y1="899.1" x2="1312.3" y2="925.7" stroke="#000" stroke-width="3.3" stroke-linecap="round"/>
<line x1="1319.2" y1="937.6" x2="1344.1" y2="929.6" stroke="#000" stroke-width="3.3" stroke-linecap="round"/>
<line x1="1314.2" y1="942" x2="1335.9" y2="964.8" stroke="#000" stroke-width="3.3" stroke-linecap="round"/>
<text transform="translate(1158.76 1112.50) scale(0.9728 1)" font-family="'Liberation Sans', Arial, sans-serif" font-size="27.5" fill="#000" stroke="#fff" stroke-width="0.2">PhO</text>
<text transform="translate(1241.52 1112.00) scale(0.9865 1)" font-family="'Liberation Sans', Arial, sans-serif" font-size="27.5" fill="#000" stroke="#fff" stroke-width="0.2">OPh</text>
<text transform="translate(1218.86 1160.70) scale(0.9252 1)" font-family="'Liberation Sans', Arial, sans-serif" font-size="27.5" fill="#000" stroke="#fff" stroke-width="0.2">P</text>
<text transform="translate(1173.81 1185.40) scale(0.9894 1)" font-family="'Liberation Sans', Arial, sans-serif" font-size="27.5" fill="#000" stroke="#fff" stroke-width="0.2">O</text>
<text transform="translate(1260.49 1186.30) scale(1.0053 1)" font-family="'Liberation Sans', Arial, sans-serif" font-size="27.5" fill="#000" stroke="#fff" stroke-width="0.2">O</text>
<text transform="translate(1143.22 1234.80) scale(0.9353 1)" font-family="'Liberation Sans', Arial, sans-serif" font-size="28.8" font-weight="bold" fill="#ff0000">H</text>
<text transform="translate(1283.89 1215.80) scale(0.9529 1)" font-family="'Liberation Sans', Arial, sans-serif" font-size="28.8" font-weight="bold" fill="#ff0000">H</text>
<text transform="translate(1126.71 1264.20) scale(0.9894 1)" font-family="'Liberation Sans', Arial, sans-serif" font-size="27.5" fill="#000" stroke="#fff" stroke-width="0.2">O</text>
<text transform="translate(1307.93 1269.50) scale(0.9787 1)" font-family="'Liberation Sans', Arial, sans-serif" font-size="27.5" fill="#000" stroke="#fff" stroke-width="0.2">O</text>
<text transform="translate(1124.01 1315.30) scale(0.9048 1)" font-family="'Liberation Sans', Arial, sans-serif" font-size="27.5" fill="#000" stroke="#fff" stroke-width="0.2">P</text>
<text transform="translate(1061.10 1315.60) scale(0.9561 1)" font-family="'Liberation Sans', Arial, sans-serif" font-size="27.5" fill="#000" stroke="#fff" stroke-width="0.2">Ph</text>
<text transform="translate(1081.86 1358.80) scale(0.9730 1)" font-family="'Liberation Sans', Arial, sans-serif" font-size="27.5" fill="#000" stroke="#fff" stroke-width="0.2">Ph</text>
<text transform="translate(1166.34 1343.30) scale(0.9681 1)" font-family="'Liberation Sans', Arial, sans-serif" font-size="27.5" fill="#000" stroke="#fff" stroke-width="0.2">O</text>
<text transform="translate(1230.10 1345.00) scale(0.9471 1)" font-family="'Liberation Sans', Arial, sans-serif" font-size="28.8" font-weight="bold" fill="#00dcfa">H</text>
<text transform="translate(1261.94 1344.20) scale(0.9681 1)" font-family="'Liberation Sans', Arial, sans-serif" font-size="27.5" fill="#000" stroke="#fff" stroke-width="0.2">O</text>
<text transform="translate(1308.01 1321.00) scale(0.9048 1)" font-family="'Liberation Sans', Arial, sans-serif" font-size="27.5" fill="#000" stroke="#fff" stroke-width="0.2">P</text>
<text transform="translate(1353.97 1313.70) scale(0.9662 1)" font-family="'Liberation Sans', Arial, sans-serif" font-size="27.5" fill="#000" stroke="#fff" stroke-width="0.2">Ph</text>
<text transform="translate(1342.08 1357.80) scale(0.9628 1)" font-family="'Liberation Sans', Arial, sans-serif" font-size="27.5" fill="#000" stroke="#fff" stroke-width="0.2">Ph</text>
<text transform="translate(1180.10 1398.80) scale(1.0021 1)" font-family="'Liberation Sans', Arial, sans-serif" font-size="35.5" font-weight="bold" fill="#000">3&#8211;1&#8211;3</text>
<line x1="1207.9" y1="1114.2" x2="1222.3" y2="1139.4" stroke="#000" stroke-width="3.3" stroke-linecap="round"/>
<line x1="1246.8" y1="1113.2" x2="1232.9" y2="1140.8" stroke="#000" stroke-width="3.3" stroke-linecap="round"/>
<line x1="1192.4" y1="1167.3" x2="1215" y2="1154.7" stroke="#000" stroke-width="3.3" stroke-linecap="round"/>
<line x1="1195.4" y1="1173.3" x2="1217.6" y2="1161.4" stroke="#000" stroke-width="3.3" stroke-linecap="round"/>
<line x1="1234.5" y1="1154.7" x2="1260.8" y2="1171.1" stroke="#000" stroke-width="3.3" stroke-linecap="round"/>
<line x1="1176.1" y1="1188.1" x2="1160.8" y2="1210.7" stroke="#000" stroke-width="3.6" stroke-dasharray="3.0 4.8" stroke-linecap="round"/>
<line x1="1278.7" y1="1187.3" x2="1285.3" y2="1194.6" stroke="#000" stroke-width="3.3" stroke-linecap="round"/>
<line x1="1300.3" y1="1221.4" x2="1313.5" y2="1247.7" stroke="#000" stroke-width="3.6" stroke-dasharray="3.0 4.8" stroke-linecap="round"/>
<line x1="1146.4" y1="1237.7" x2="1142" y2="1244.3" stroke="#000" stroke-width="3.3" stroke-linecap="round"/>
<line x1="1137.6" y1="1268.2" x2="1134" y2="1293.4" stroke="#000" stroke-width="3.3" stroke-linecap="round"/>
<line x1="1094.2" y1="1305.4" x2="1124.3" y2="1305.4" stroke="#000" stroke-width="3.3" stroke-linecap="round"/>
<line x1="1126" y1="1318.4" x2="1111.4" y2="1341.9" stroke="#000" stroke-width="3.3" stroke-linecap="round"/>
<line x1="1139.3" y1="1305.4" x2="1167.9" y2="1323.7" stroke="#000" stroke-width="3.3" stroke-linecap="round"/>
<line x1="1138" y1="1312" x2="1163.9" y2="1329" stroke="#000" stroke-width="3.3" stroke-linecap="round"/>
<line x1="1188.9" y1="1333.4" x2="1227.8" y2="1334.8" stroke="#000" stroke-width="3.6" stroke-dasharray="3.0 4.8" stroke-linecap="round"/>
<line x1="1249.9" y1="1334.9" x2="1261.2" y2="1334.6" stroke="#000" stroke-width="3.3" stroke-linecap="round"/>
<line x1="1282.7" y1="1328.9" x2="1305" y2="1317" stroke="#000" stroke-width="3.3" stroke-linecap="round"/>
<line x1="1315.6" y1="1273.2" x2="1313.6" y2="1301" stroke="#000" stroke-width="3.3" stroke-linecap="round"/>
<line x1="1322.3" y1="1273.2" x2="1320.9" y2="1300.4" stroke="#000" stroke-width="3.3" stroke-linecap="round"/>
<line x1="1326.9" y1="1310.7" x2="1353.5" y2="1302.8" stroke="#000" stroke-width="3.3" stroke-linecap="round"/>
<line x1="1322.3" y1="1316.1" x2="1341.5" y2="1336.9" stroke="#000" stroke-width="3.3" stroke-linecap="round"/>
</svg></body></html>
